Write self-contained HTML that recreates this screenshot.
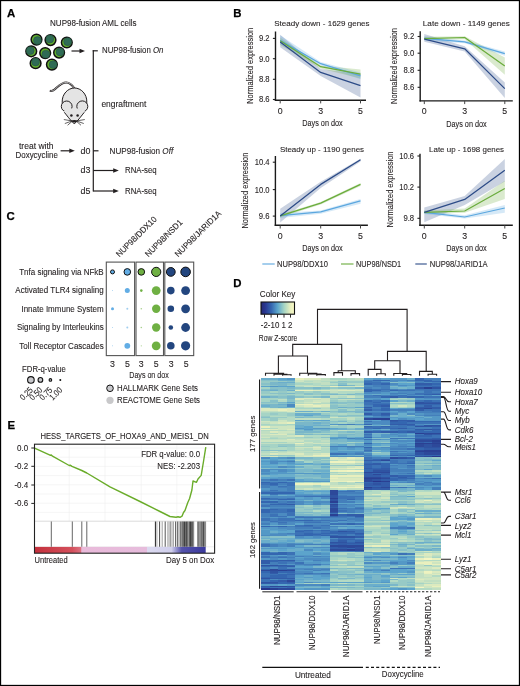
<!DOCTYPE html>
<html><head><meta charset="utf-8"><style>
html,body{margin:0;padding:0;background:#fff;}
svg{display:block;will-change:transform;}
text{font-family:"Liberation Sans", sans-serif;stroke:#231f20;stroke-width:0.1px;}
</style></head><body>
<svg width="520" height="686" viewBox="0 0 520 686">
<rect width="520" height="686" fill="#fff"/>
<text x="7.0" y="16.7" font-size="11.4" style="font-weight:bold;stroke:#000;stroke-width:0.25px" fill="#000">A</text><text x="233.3" y="16.5" font-size="11.4" style="font-weight:bold;stroke:#000;stroke-width:0.25px" fill="#000">B</text><text x="6.6" y="219.8" font-size="11.4" style="font-weight:bold;stroke:#000;stroke-width:0.25px" fill="#000">C</text><text x="233.3" y="286.7" font-size="11.4" style="font-weight:bold;stroke:#000;stroke-width:0.25px" fill="#000">D</text><text x="7.6" y="429.3" font-size="11.4" style="font-weight:bold;stroke:#000;stroke-width:0.25px" fill="#000">E</text><text x="50" y="26" font-size="8.5" textLength="86.5" lengthAdjust="spacingAndGlyphs" fill="#231f20">NUP98-fusion AML cells</text><circle cx="36.5" cy="39.6" r="5.35" fill="#63b12e" stroke="#111" stroke-width="1.5"/><circle cx="37.41" cy="40.51" r="3.95" fill="#2f6b55" stroke="#23503f" stroke-width="0.5"/><circle cx="50.5" cy="40.1" r="5.35" fill="#63b12e" stroke="#111" stroke-width="1.5"/><circle cx="49.85" cy="39.06" r="3.95" fill="#2f6b55" stroke="#23503f" stroke-width="0.5"/><circle cx="66.8" cy="42.5" r="5.35" fill="#63b12e" stroke="#111" stroke-width="1.5"/><circle cx="67.58" cy="41.72" r="3.95" fill="#2f6b55" stroke="#23503f" stroke-width="0.5"/><circle cx="31.25" cy="51.3" r="5.35" fill="#63b12e" stroke="#111" stroke-width="1.5"/><circle cx="30.21" cy="50.65" r="3.95" fill="#2f6b55" stroke="#23503f" stroke-width="0.5"/><circle cx="45.2" cy="53.1" r="5.35" fill="#63b12e" stroke="#111" stroke-width="1.5"/><circle cx="45.85" cy="54.14" r="3.95" fill="#2f6b55" stroke="#23503f" stroke-width="0.5"/><circle cx="59.1" cy="52.6" r="5.35" fill="#63b12e" stroke="#111" stroke-width="1.5"/><circle cx="60.01" cy="51.95" r="3.95" fill="#2f6b55" stroke="#23503f" stroke-width="0.5"/><circle cx="35.6" cy="63.2" r="5.35" fill="#63b12e" stroke="#111" stroke-width="1.5"/><circle cx="35.60" cy="62.03" r="3.95" fill="#2f6b55" stroke="#23503f" stroke-width="0.5"/><circle cx="51.9" cy="64.6" r="5.35" fill="#63b12e" stroke="#111" stroke-width="1.5"/><circle cx="53.07" cy="64.60" r="3.95" fill="#2f6b55" stroke="#23503f" stroke-width="0.5"/><line x1="71.5" y1="51" x2="81" y2="51" stroke="#231f20" stroke-width="1.2"/><path d="M85,51 L79.5,48.8 L79.5,53.2 Z" fill="#231f20"/><line x1="93.3" y1="50.2" x2="93.3" y2="191.6" stroke="#231f20" stroke-width="1.2"/><line x1="92.7" y1="50.8" x2="97.8" y2="50.8" stroke="#231f20" stroke-width="1.2"/><text x="102" y="53" font-size="8.5" textLength="61.5" lengthAdjust="spacingAndGlyphs" fill="#231f20">NUP98-fusion <tspan font-style="italic">On</tspan></text><text x="101.4" y="106.5" font-size="8.5" textLength="45" lengthAdjust="spacingAndGlyphs" fill="#231f20">engraftment</text><g stroke="#231f20" stroke-width="1.0" fill="#e4e4e4" stroke-linejoin="round">
<path d="M74.5,88.5 C72,84.5 69.5,82.4 66.2,82.4 C61.5,82.4 58,86.5 54.5,89.6 C53,90.9 51.5,91.3 49.8,90.6" fill="none" stroke-width="2.0"/>
<path d="M74.2,88.2 C72,84.5 69.5,82.4 66.2,82.4 C61.5,82.4 58,86.5 54.5,89.6 C53.2,90.7 51.8,91.1 50.6,90.7" fill="none" stroke="#f2f2f2" stroke-width="0.7"/>
<path d="M74.5,88 C81,88 87,94 86.8,102 L86.5,110 L62.5,110 L62.2,102 C62,94 68,88 74.5,88 Z" stroke="none"/>
<path d="M62.4,104 L62.2,102 C62,94 68,88 74.5,88 C81,88 87,94 86.8,102 L86.6,104" fill="none"/>
<circle cx="66.7" cy="106.4" r="5.4"/>
<circle cx="82.3" cy="106.4" r="5.5"/>
<path d="M72.2,108.2 L76.4,108.2 L85.2,111.6 L74.3,124.6 L63.5,111.6 Z" stroke="none"/>
<path d="M64.3,112.3 C67,115.5 70,120 74.3,123.9 C78.6,120 81.6,115.5 84.3,112.3" fill="none"/>
</g>
<circle cx="71.4" cy="115.5" r="1.25" fill="#231f20"/>
<circle cx="77.6" cy="115.5" r="1.25" fill="#231f20"/>
<g stroke="#231f20" stroke-width="0.7" fill="none" stroke-linecap="round">
<path d="M71.2,120.8 L64.2,119.6 M71.2,121.3 L65.2,123.4 M71.8,121.6 L67.9,125"/>
<path d="M77.4,120.8 L84.4,119.6 M77.4,121.3 L83.4,123.4 M76.8,121.6 L80.7,125"/>
</g>
<path d="M70.6,120.6 Q74.3,119.6 78,120.6 Q76.5,122.6 74.3,122.4 Q72.1,122.6 70.6,120.6 Z" fill="#231f20"/><text x="19" y="148.5" font-size="8.5" textLength="34.6" lengthAdjust="spacingAndGlyphs" fill="#231f20">treat with</text><text x="15.6" y="158.2" font-size="8.5" textLength="42.2" lengthAdjust="spacingAndGlyphs" fill="#231f20">Doxycycline</text><line x1="60.6" y1="150.8" x2="70.5" y2="150.8" stroke="#231f20" stroke-width="1.2"/><path d="M74.8,150.8 L69.3,148.6 L69.3,153 Z" fill="#231f20"/><text x="80.6" y="153.6" font-size="8.5" textLength="9.9" lengthAdjust="spacingAndGlyphs" fill="#231f20">d0</text><line x1="93.3" y1="150.8" x2="98.5" y2="150.8" stroke="#231f20" stroke-width="1.2"/><text x="109.6" y="153.6" font-size="8.5" textLength="63.6" lengthAdjust="spacingAndGlyphs" fill="#231f20">NUP98-fusion <tspan font-style="italic">Off</tspan></text><text x="80.6" y="173.3" font-size="8.5" textLength="9.9" lengthAdjust="spacingAndGlyphs" fill="#231f20">d3</text><line x1="93.3" y1="170.5" x2="114.5" y2="170.5" stroke="#231f20" stroke-width="1.2"/><path d="M118.8,170.5 L113.2,168.3 L113.2,172.7 Z" fill="#231f20"/><text x="125" y="173.3" font-size="8.5" textLength="31.7" lengthAdjust="spacingAndGlyphs" fill="#231f20">RNA-seq</text><text x="80.6" y="193.8" font-size="8.5" textLength="9.9" lengthAdjust="spacingAndGlyphs" fill="#231f20">d5</text><line x1="93.3" y1="191" x2="114.5" y2="191" stroke="#231f20" stroke-width="1.2"/><path d="M118.8,191 L113.2,188.8 L113.2,193.2 Z" fill="#231f20"/><text x="125" y="193.8" font-size="8.5" textLength="31.7" lengthAdjust="spacingAndGlyphs" fill="#231f20">RNA-seq</text><polygon points="280.2,34.8 320.7,69.0 360.5,74.0 360.5,97.5 320.7,76.0 280.2,47.3" fill="#2c4b87" fill-opacity="0.25"/><polygon points="280.2,37.5 320.7,65.5 360.5,69.5 360.5,78.5 320.7,68.4 280.2,45.0" fill="#6aac3c" fill-opacity="0.25"/><polygon points="280.2,35.2 320.7,62.0 360.5,72.4 360.5,79.3 320.7,65.5 280.2,44.7" fill="#5ba7df" fill-opacity="0.25"/><polyline points="280.2,40.4 320.7,63.7 360.5,75.9" fill="none" stroke="#5ba7df" stroke-width="1.25" stroke-linejoin="round"/><polyline points="280.2,40.7 320.7,66.7 360.5,74.1" fill="none" stroke="#6aac3c" stroke-width="1.25" stroke-linejoin="round"/><polyline points="280.2,42.1 320.7,72.4 360.5,85.7" fill="none" stroke="#2c4b87" stroke-width="1.25" stroke-linejoin="round"/><line x1="275.5" y1="31.5" x2="275.5" y2="100.9" stroke="#1a1a1a" stroke-width="1.4"/><line x1="274.8" y1="100.2" x2="366" y2="100.2" stroke="#1a1a1a" stroke-width="1.4"/><line x1="272.9" y1="38.4" x2="275.5" y2="38.4" stroke="#222" stroke-width="1.1"/><text x="269.6" y="41.35" font-size="8.4" text-anchor="end" textLength="10.7" lengthAdjust="spacingAndGlyphs" fill="#231f20">9.2</text><line x1="272.9" y1="58.7" x2="275.5" y2="58.7" stroke="#222" stroke-width="1.1"/><text x="269.6" y="61.650000000000006" font-size="8.4" text-anchor="end" textLength="10.7" lengthAdjust="spacingAndGlyphs" fill="#231f20">9.0</text><line x1="272.9" y1="79.3" x2="275.5" y2="79.3" stroke="#222" stroke-width="1.1"/><text x="269.6" y="82.25" font-size="8.4" text-anchor="end" textLength="10.7" lengthAdjust="spacingAndGlyphs" fill="#231f20">8.8</text><line x1="272.9" y1="99.5" x2="275.5" y2="99.5" stroke="#222" stroke-width="1.1"/><text x="269.6" y="102.45" font-size="8.4" text-anchor="end" textLength="10.7" lengthAdjust="spacingAndGlyphs" fill="#231f20">8.6</text><line x1="280.2" y1="100.2" x2="280.2" y2="103.4" stroke="#444" stroke-width="1.0"/><text x="280.2" y="113.65" font-size="8.8" text-anchor="middle" textLength="4.9" lengthAdjust="spacingAndGlyphs" fill="#231f20">0</text><line x1="320.7" y1="100.2" x2="320.7" y2="103.4" stroke="#444" stroke-width="1.0"/><text x="320.7" y="113.65" font-size="8.8" text-anchor="middle" textLength="4.9" lengthAdjust="spacingAndGlyphs" fill="#231f20">3</text><line x1="360.5" y1="100.2" x2="360.5" y2="103.4" stroke="#444" stroke-width="1.0"/><text x="360.5" y="113.65" font-size="8.8" text-anchor="middle" textLength="4.9" lengthAdjust="spacingAndGlyphs" fill="#231f20">5</text><text x="274.2" y="26.0" font-size="8.1" textLength="95.4" lengthAdjust="spacingAndGlyphs" fill="#231f20">Steady down - 1629 genes</text><text x="322.5" y="125.80000000000001" font-size="9.3" text-anchor="middle" textLength="40.5" lengthAdjust="spacingAndGlyphs" fill="#231f20">Days on dox</text><text transform="translate(253.0,65.8) rotate(-90)" font-size="9.4" text-anchor="middle" textLength="76" lengthAdjust="spacingAndGlyphs" fill="#231f20">Normalized expression</text><polygon points="424.3,34.0 464.7,46.2 504.8,82.5 504.8,98.1 464.7,51.4 424.3,41.8" fill="#2c4b87" fill-opacity="0.25"/><polygon points="424.3,36.7 464.7,36.3 504.8,57.4 504.8,74.7 464.7,39.2 424.3,40.1" fill="#6aac3c" fill-opacity="0.25"/><polygon points="424.3,36.5 464.7,40.5 504.8,51.4 504.8,55.7 464.7,43.2 424.3,40.5" fill="#5ba7df" fill-opacity="0.25"/><polyline points="424.3,38.4 464.7,41.8 504.8,53.6" fill="none" stroke="#5ba7df" stroke-width="1.25" stroke-linejoin="round"/><polyline points="424.3,38.7 464.7,37.5 504.8,66.1" fill="none" stroke="#6aac3c" stroke-width="1.25" stroke-linejoin="round"/><polyline points="424.3,39.2 464.7,48.8 504.8,88.6" fill="none" stroke="#2c4b87" stroke-width="1.25" stroke-linejoin="round"/><line x1="420.2" y1="31.3" x2="420.2" y2="101.60000000000001" stroke="#1a1a1a" stroke-width="1.4"/><line x1="419.5" y1="100.9" x2="512.8" y2="100.9" stroke="#1a1a1a" stroke-width="1.4"/><line x1="417.59999999999997" y1="36.5" x2="420.2" y2="36.5" stroke="#222" stroke-width="1.1"/><text x="414.3" y="39.45" font-size="8.4" text-anchor="end" textLength="10.7" lengthAdjust="spacingAndGlyphs" fill="#231f20">9.2</text><line x1="417.59999999999997" y1="53.2" x2="420.2" y2="53.2" stroke="#222" stroke-width="1.1"/><text x="414.3" y="56.150000000000006" font-size="8.4" text-anchor="end" textLength="10.7" lengthAdjust="spacingAndGlyphs" fill="#231f20">9.0</text><line x1="417.59999999999997" y1="70.3" x2="420.2" y2="70.3" stroke="#222" stroke-width="1.1"/><text x="414.3" y="73.25" font-size="8.4" text-anchor="end" textLength="10.7" lengthAdjust="spacingAndGlyphs" fill="#231f20">8.8</text><line x1="417.59999999999997" y1="87.3" x2="420.2" y2="87.3" stroke="#222" stroke-width="1.1"/><text x="414.3" y="90.25" font-size="8.4" text-anchor="end" textLength="10.7" lengthAdjust="spacingAndGlyphs" fill="#231f20">8.6</text><line x1="424.3" y1="100.9" x2="424.3" y2="104.10000000000001" stroke="#444" stroke-width="1.0"/><text x="424.3" y="114.35000000000001" font-size="8.8" text-anchor="middle" textLength="4.9" lengthAdjust="spacingAndGlyphs" fill="#231f20">0</text><line x1="464.7" y1="100.9" x2="464.7" y2="104.10000000000001" stroke="#444" stroke-width="1.0"/><text x="464.7" y="114.35000000000001" font-size="8.8" text-anchor="middle" textLength="4.9" lengthAdjust="spacingAndGlyphs" fill="#231f20">3</text><line x1="504.8" y1="100.9" x2="504.8" y2="104.10000000000001" stroke="#444" stroke-width="1.0"/><text x="504.8" y="114.35000000000001" font-size="8.8" text-anchor="middle" textLength="4.9" lengthAdjust="spacingAndGlyphs" fill="#231f20">5</text><text x="422.8" y="26.0" font-size="8.1" textLength="87.1" lengthAdjust="spacingAndGlyphs" fill="#231f20">Late down - 1149 genes</text><text x="466.5" y="126.5" font-size="9.3" text-anchor="middle" textLength="40.5" lengthAdjust="spacingAndGlyphs" fill="#231f20">Days on dox</text><text transform="translate(397.3,66.0) rotate(-90)" font-size="9.4" text-anchor="middle" textLength="76" lengthAdjust="spacingAndGlyphs" fill="#231f20">Normalized expression</text><polygon points="280.2,208.7 320.7,181.8 360.5,158.8 360.5,161.6 320.7,187.9 280.2,222.5" fill="#2c4b87" fill-opacity="0.25"/><polygon points="280.2,214.5 320.7,202.0 360.5,183.0 360.5,186.0 320.7,204.5 280.2,217.5" fill="#6aac3c" fill-opacity="0.25"/><polygon points="280.2,213.0 320.7,210.4 360.5,199.1 360.5,203.8 320.7,213.8 280.2,218.0" fill="#5ba7df" fill-opacity="0.25"/><polyline points="280.2,215.6 320.7,211.8 360.5,200.9" fill="none" stroke="#5ba7df" stroke-width="1.25" stroke-linejoin="round"/><polyline points="280.2,215.9 320.7,203.1 360.5,184.4" fill="none" stroke="#6aac3c" stroke-width="1.25" stroke-linejoin="round"/><polyline points="280.2,215.9 320.7,184.4 360.5,159.8" fill="none" stroke="#2c4b87" stroke-width="1.25" stroke-linejoin="round"/><line x1="275.4" y1="156" x2="275.4" y2="226.0" stroke="#1a1a1a" stroke-width="1.4"/><line x1="274.7" y1="225.3" x2="367.9" y2="225.3" stroke="#1a1a1a" stroke-width="1.4"/><line x1="272.79999999999995" y1="162.2" x2="275.4" y2="162.2" stroke="#222" stroke-width="1.1"/><text x="269.5" y="165.14999999999998" font-size="8.4" text-anchor="end" textLength="14.8" lengthAdjust="spacingAndGlyphs" fill="#231f20">10.4</text><line x1="272.79999999999995" y1="189.6" x2="275.4" y2="189.6" stroke="#222" stroke-width="1.1"/><text x="269.5" y="192.54999999999998" font-size="8.4" text-anchor="end" textLength="14.8" lengthAdjust="spacingAndGlyphs" fill="#231f20">10.0</text><line x1="272.79999999999995" y1="216.1" x2="275.4" y2="216.1" stroke="#222" stroke-width="1.1"/><text x="269.5" y="219.04999999999998" font-size="8.4" text-anchor="end" textLength="10.7" lengthAdjust="spacingAndGlyphs" fill="#231f20">9.6</text><line x1="280.2" y1="225.3" x2="280.2" y2="228.5" stroke="#444" stroke-width="1.0"/><text x="280.2" y="238.75" font-size="8.8" text-anchor="middle" textLength="4.9" lengthAdjust="spacingAndGlyphs" fill="#231f20">0</text><line x1="320.7" y1="225.3" x2="320.7" y2="228.5" stroke="#444" stroke-width="1.0"/><text x="320.7" y="238.75" font-size="8.8" text-anchor="middle" textLength="4.9" lengthAdjust="spacingAndGlyphs" fill="#231f20">3</text><line x1="360.5" y1="225.3" x2="360.5" y2="228.5" stroke="#444" stroke-width="1.0"/><text x="360.5" y="238.75" font-size="8.8" text-anchor="middle" textLength="4.9" lengthAdjust="spacingAndGlyphs" fill="#231f20">5</text><text x="279.9" y="151.6" font-size="8.1" textLength="84.2" lengthAdjust="spacingAndGlyphs" fill="#231f20">Steady up - 1190 genes</text><text x="322.5" y="250.9" font-size="9.3" text-anchor="middle" textLength="40.5" lengthAdjust="spacingAndGlyphs" fill="#231f20">Days on dox</text><text transform="translate(247.6,190.6) rotate(-90)" font-size="9.4" text-anchor="middle" textLength="76" lengthAdjust="spacingAndGlyphs" fill="#231f20">Normalized expression</text><polygon points="424.3,207.5 464.7,195.9 504.8,159.0 504.8,181.6 464.7,204.9 424.3,222.2" fill="#2c4b87" fill-opacity="0.25"/><polygon points="424.3,210.5 464.7,208.4 504.8,180.7 504.8,198.9 464.7,212.7 424.3,214.0" fill="#6aac3c" fill-opacity="0.25"/><polygon points="424.3,210.5 464.7,215.3 504.8,205.0 504.8,212.7 464.7,218.4 424.3,214.0" fill="#5ba7df" fill-opacity="0.25"/><polyline points="424.3,212.4 464.7,217.0 504.8,208.0" fill="none" stroke="#5ba7df" stroke-width="1.25" stroke-linejoin="round"/><polyline points="424.3,212.4 464.7,211.0 504.8,188.5" fill="none" stroke="#6aac3c" stroke-width="1.25" stroke-linejoin="round"/><polyline points="424.3,212.4 464.7,199.4 504.8,170.3" fill="none" stroke="#2c4b87" stroke-width="1.25" stroke-linejoin="round"/><line x1="420.0" y1="153.8" x2="420.0" y2="226.0" stroke="#1a1a1a" stroke-width="1.4"/><line x1="419.3" y1="225.3" x2="512.8" y2="225.3" stroke="#1a1a1a" stroke-width="1.4"/><line x1="417.4" y1="156" x2="420.0" y2="156" stroke="#222" stroke-width="1.1"/><text x="414.1" y="158.95" font-size="8.4" text-anchor="end" textLength="14.8" lengthAdjust="spacingAndGlyphs" fill="#231f20">10.6</text><line x1="417.4" y1="187.1" x2="420.0" y2="187.1" stroke="#222" stroke-width="1.1"/><text x="414.1" y="190.04999999999998" font-size="8.4" text-anchor="end" textLength="14.8" lengthAdjust="spacingAndGlyphs" fill="#231f20">10.2</text><line x1="417.4" y1="218.3" x2="420.0" y2="218.3" stroke="#222" stroke-width="1.1"/><text x="414.1" y="221.25" font-size="8.4" text-anchor="end" textLength="10.7" lengthAdjust="spacingAndGlyphs" fill="#231f20">9.8</text><line x1="424.3" y1="225.3" x2="424.3" y2="228.5" stroke="#444" stroke-width="1.0"/><text x="424.3" y="238.75" font-size="8.8" text-anchor="middle" textLength="4.9" lengthAdjust="spacingAndGlyphs" fill="#231f20">0</text><line x1="464.7" y1="225.3" x2="464.7" y2="228.5" stroke="#444" stroke-width="1.0"/><text x="464.7" y="238.75" font-size="8.8" text-anchor="middle" textLength="4.9" lengthAdjust="spacingAndGlyphs" fill="#231f20">3</text><line x1="504.8" y1="225.3" x2="504.8" y2="228.5" stroke="#444" stroke-width="1.0"/><text x="504.8" y="238.75" font-size="8.8" text-anchor="middle" textLength="4.9" lengthAdjust="spacingAndGlyphs" fill="#231f20">5</text><text x="429.1" y="151.6" font-size="8.1" textLength="75.0" lengthAdjust="spacingAndGlyphs" fill="#231f20">Late up - 1698 genes</text><text x="466.5" y="250.9" font-size="9.3" text-anchor="middle" textLength="40.5" lengthAdjust="spacingAndGlyphs" fill="#231f20">Days on dox</text><text transform="translate(392.6,189.5) rotate(-90)" font-size="9.4" text-anchor="middle" textLength="76" lengthAdjust="spacingAndGlyphs" fill="#231f20">Normalized expression</text><line x1="262.3" y1="264" x2="274.7" y2="264" stroke="#5ba7df" stroke-width="1.1"/><text x="277" y="266.8" font-size="8.5" textLength="51" lengthAdjust="spacingAndGlyphs" fill="#231f20">NUP98/DDX10</text><line x1="341" y1="264" x2="353.5" y2="264" stroke="#6aac3c" stroke-width="1.1"/><text x="356" y="266.8" font-size="8.5" textLength="45.2" lengthAdjust="spacingAndGlyphs" fill="#231f20">NUP98/NSD1</text><line x1="415.3" y1="264" x2="426.8" y2="264" stroke="#2c4b87" stroke-width="1.1"/><text x="429.7" y="266.8" font-size="8.5" textLength="58" lengthAdjust="spacingAndGlyphs" fill="#231f20">NUP98/JARID1A</text><text x="103.7" y="274.7" font-size="8.5" text-anchor="end" textLength="84.48" lengthAdjust="spacingAndGlyphs" fill="#231f20">Tnfa signaling via NFkB</text><text x="103.7" y="293.40000000000003" font-size="8.5" text-anchor="end" textLength="88.35" lengthAdjust="spacingAndGlyphs" fill="#231f20">Activated TLR4 signaling</text><text x="103.7" y="311.6" font-size="8.5" text-anchor="end" textLength="82.26" lengthAdjust="spacingAndGlyphs" fill="#231f20">Innate Immune System</text><text x="103.7" y="330.3" font-size="8.5" text-anchor="end" textLength="86.72" lengthAdjust="spacingAndGlyphs" fill="#231f20">Signaling by Interleukins</text><text x="103.7" y="348.6" font-size="8.5" text-anchor="end" textLength="84.49" lengthAdjust="spacingAndGlyphs" fill="#231f20">Toll Receptor Cascades</text><rect x="106.3" y="262.1" width="28.3" height="93.5" fill="none" stroke="#555" stroke-width="1.1"/><rect x="136" y="262.1" width="27.5" height="93.5" fill="none" stroke="#555" stroke-width="1.1"/><rect x="164.8" y="262.1" width="28.9" height="93.5" fill="none" stroke="#555" stroke-width="1.1"/><circle cx="112.5" cy="271.9" r="2.0" fill="#62ade5" stroke="#111" stroke-width="1"/><circle cx="127.3" cy="271.9" r="3.3" fill="#62ade5" stroke="#111" stroke-width="1"/><circle cx="141.3" cy="271.9" r="3.3" fill="#6fb043" stroke="#111" stroke-width="1"/><circle cx="156.2" cy="271.9" r="4.6" fill="#6fb043" stroke="#111" stroke-width="1"/><circle cx="170.8" cy="271.9" r="4.4" fill="#23467f" stroke="#111" stroke-width="1"/><circle cx="185.6" cy="271.9" r="4.8" fill="#23467f" stroke="#111" stroke-width="1"/><circle cx="112.5" cy="290.6" r="0.5" fill="#62ade5" fill-opacity="0.6"/><circle cx="127.3" cy="290.6" r="2.5" fill="#62ade5" fill-opacity="1"/><circle cx="141.3" cy="290.6" r="1.3" fill="#6fb043" fill-opacity="1"/><circle cx="156.2" cy="290.6" r="4.4" fill="#6fb043" fill-opacity="1"/><circle cx="170.8" cy="290.6" r="3.8" fill="#23467f" fill-opacity="1"/><circle cx="185.6" cy="290.6" r="4.4" fill="#23467f" fill-opacity="1"/><circle cx="112.5" cy="308.8" r="1.5" fill="#62ade5" fill-opacity="1"/><circle cx="127.3" cy="308.8" r="1.0" fill="#62ade5" fill-opacity="0.6"/><circle cx="141.3" cy="308.8" r="0.8" fill="#6fb043" fill-opacity="0.6"/><circle cx="156.2" cy="308.8" r="4.2" fill="#6fb043" fill-opacity="1"/><circle cx="170.8" cy="308.8" r="3.3" fill="#23467f" fill-opacity="1"/><circle cx="185.6" cy="308.8" r="4.4" fill="#23467f" fill-opacity="1"/><circle cx="112.5" cy="327.5" r="0.5" fill="#62ade5" fill-opacity="0.6"/><circle cx="127.3" cy="327.5" r="1.0" fill="#62ade5" fill-opacity="0.6"/><circle cx="141.3" cy="327.5" r="0.8" fill="#6fb043" fill-opacity="0.6"/><circle cx="156.2" cy="327.5" r="4.2" fill="#6fb043" fill-opacity="1"/><circle cx="170.8" cy="327.5" r="2.3" fill="#23467f" fill-opacity="1"/><circle cx="185.6" cy="327.5" r="4.4" fill="#23467f" fill-opacity="1"/><circle cx="112.5" cy="345.8" r="0.5" fill="#62ade5" fill-opacity="0.6"/><circle cx="127.3" cy="345.8" r="2.9" fill="#62ade5" fill-opacity="1"/><circle cx="141.3" cy="345.8" r="0.6" fill="#6fb043" fill-opacity="0.6"/><circle cx="156.2" cy="345.8" r="4.4" fill="#6fb043" fill-opacity="1"/><circle cx="170.8" cy="345.8" r="3.8" fill="#23467f" fill-opacity="1"/><circle cx="185.6" cy="345.8" r="4.6" fill="#23467f" fill-opacity="1"/><text transform="translate(119.5,257.6) rotate(-45)" font-size="8.5" textLength="53.5" lengthAdjust="spacingAndGlyphs" fill="#231f20">NUP98/DDX10</text><text transform="translate(148.4,257.6) rotate(-45)" font-size="8.5" textLength="49" lengthAdjust="spacingAndGlyphs" fill="#231f20">NUP98/NSD1</text><text transform="translate(178.2,257.6) rotate(-45)" font-size="8.5" textLength="61.5" lengthAdjust="spacingAndGlyphs" fill="#231f20">NUP98/JARID1A</text><text x="112.5" y="366.5" font-size="8.8" text-anchor="middle" textLength="4.9" lengthAdjust="spacingAndGlyphs" fill="#231f20">3</text><text x="127.5" y="366.5" font-size="8.8" text-anchor="middle" textLength="4.9" lengthAdjust="spacingAndGlyphs" fill="#231f20">5</text><text x="141.25" y="366.5" font-size="8.8" text-anchor="middle" textLength="4.9" lengthAdjust="spacingAndGlyphs" fill="#231f20">3</text><text x="156.25" y="366.5" font-size="8.8" text-anchor="middle" textLength="4.9" lengthAdjust="spacingAndGlyphs" fill="#231f20">5</text><text x="171.25" y="366.5" font-size="8.8" text-anchor="middle" textLength="4.9" lengthAdjust="spacingAndGlyphs" fill="#231f20">3</text><text x="186.25" y="366.5" font-size="8.8" text-anchor="middle" textLength="4.9" lengthAdjust="spacingAndGlyphs" fill="#231f20">5</text><text x="149" y="377.9" font-size="9.3" text-anchor="middle" textLength="39.5" lengthAdjust="spacingAndGlyphs" fill="#231f20">Days on dox</text><text x="22.1" y="371.5" font-size="8.5" textLength="43.8" lengthAdjust="spacingAndGlyphs" fill="#231f20">FDR-q-value</text><circle cx="30.9" cy="379.9" r="3.3" fill="#c8c8cc" stroke="#111" stroke-width="1.1"/><text transform="translate(33.5,390.6) rotate(-45)" font-size="8.6" text-anchor="end" textLength="14.4" lengthAdjust="spacingAndGlyphs" fill="#231f20">0.25</text><circle cx="40.4" cy="379.9" r="2.35" fill="#c8c8cc" stroke="#111" stroke-width="1.1"/><text transform="translate(43.0,390.6) rotate(-45)" font-size="8.6" text-anchor="end" textLength="14.4" lengthAdjust="spacingAndGlyphs" fill="#231f20">0.50</text><circle cx="50.4" cy="379.9" r="1.3" fill="#c8c8cc" stroke="#111" stroke-width="1.1"/><text transform="translate(53.0,390.6) rotate(-45)" font-size="8.6" text-anchor="end" textLength="14.4" lengthAdjust="spacingAndGlyphs" fill="#231f20">0.75</text><circle cx="60.3" cy="379.9" r="0.45" fill="#c8c8cc" stroke="#111" stroke-width="1.1"/><text transform="translate(62.9,390.6) rotate(-45)" font-size="8.6" text-anchor="end" textLength="14.4" lengthAdjust="spacingAndGlyphs" fill="#231f20">1.00</text><circle cx="110" cy="388.3" r="3.3" fill="#c8c8cc" stroke="#111" stroke-width="1"/><text x="117" y="391.1" font-size="8.5" textLength="81" lengthAdjust="spacingAndGlyphs" fill="#231f20">HALLMARK Gene Sets</text><circle cx="110" cy="400.3" r="3.6" fill="#c8c8ca"/><text x="117" y="403.1" font-size="8.5" textLength="83" lengthAdjust="spacingAndGlyphs" fill="#231f20">REACTOME Gene Sets</text><text x="40.4" y="439.4" font-size="8.5" textLength="168.4" lengthAdjust="spacingAndGlyphs" fill="#231f20">HESS_TARGETS_OF_HOXA9_AND_MEIS1_DN</text><line x1="34.5" y1="448.0" x2="214.5" y2="448.0" stroke="#eeeeee" stroke-width="0.6"/><line x1="34.5" y1="457.2" x2="214.5" y2="457.2" stroke="#eeeeee" stroke-width="0.6"/><line x1="34.5" y1="466.4" x2="214.5" y2="466.4" stroke="#eeeeee" stroke-width="0.6"/><line x1="34.5" y1="475.6" x2="214.5" y2="475.6" stroke="#eeeeee" stroke-width="0.6"/><line x1="34.5" y1="484.8" x2="214.5" y2="484.8" stroke="#eeeeee" stroke-width="0.6"/><line x1="34.5" y1="494.0" x2="214.5" y2="494.0" stroke="#eeeeee" stroke-width="0.6"/><line x1="34.5" y1="503.2" x2="214.5" y2="503.2" stroke="#eeeeee" stroke-width="0.6"/><line x1="34.5" y1="512.4" x2="214.5" y2="512.4" stroke="#eeeeee" stroke-width="0.6"/><line x1="69.2" y1="444" x2="69.2" y2="521" stroke="#eeeeee" stroke-width="0.6"/><line x1="105" y1="444" x2="105" y2="521" stroke="#eeeeee" stroke-width="0.6"/><line x1="141.2" y1="444" x2="141.2" y2="521" stroke="#eeeeee" stroke-width="0.6"/><line x1="176.9" y1="444" x2="176.9" y2="521" stroke="#eeeeee" stroke-width="0.6"/><line x1="34.5" y1="521.2" x2="214.5" y2="521.2" stroke="#cccccc" stroke-width="0.7"/><line x1="34.5" y1="546.8" x2="214.5" y2="546.8" stroke="#dddddd" stroke-width="0.5"/><line x1="51.3" y1="521.5" x2="51.3" y2="546.8" stroke="#555" stroke-width="0.9"/><line x1="72.3" y1="521.5" x2="72.3" y2="546.8" stroke="#555" stroke-width="0.9"/><line x1="81.8" y1="521.5" x2="81.8" y2="546.8" stroke="#555" stroke-width="0.9"/><line x1="86.8" y1="521.5" x2="86.8" y2="546.8" stroke="#555" stroke-width="0.9"/><line x1="155.4" y1="521.5" x2="155.4" y2="546.8" stroke="#222" stroke-width="1.0"/><line x1="156.9" y1="521.5" x2="156.9" y2="546.8" stroke="#888" stroke-width="0.7"/><line x1="159.6" y1="521.5" x2="159.6" y2="546.8" stroke="#333" stroke-width="0.9"/><line x1="162.2" y1="521.5" x2="162.2" y2="546.8" stroke="#777" stroke-width="0.7"/><line x1="165.2" y1="521.5" x2="165.2" y2="546.8" stroke="#555" stroke-width="1.0"/><line x1="167.9" y1="521.5" x2="167.9" y2="546.8" stroke="#888" stroke-width="0.8"/><line x1="169.2" y1="521.5" x2="169.2" y2="546.8" stroke="#999" stroke-width="0.8"/><line x1="170.6" y1="521.5" x2="170.6" y2="546.8" stroke="#777" stroke-width="0.8"/><line x1="172.0" y1="521.5" x2="172.0" y2="546.8" stroke="#999" stroke-width="0.8"/><line x1="173.4" y1="521.5" x2="173.4" y2="546.8" stroke="#888" stroke-width="0.8"/><line x1="175.7" y1="521.5" x2="175.7" y2="546.8" stroke="#333" stroke-width="0.9"/><line x1="177.8" y1="521.5" x2="177.8" y2="546.8" stroke="#222" stroke-width="0.9"/><line x1="180.2" y1="521.5" x2="180.2" y2="546.8" stroke="#222" stroke-width="0.9"/><line x1="182.0" y1="521.5" x2="182.0" y2="546.8" stroke="#111" stroke-width="0.9"/><line x1="183.2" y1="521.5" x2="183.2" y2="546.8" stroke="#222" stroke-width="0.9"/><line x1="184.4" y1="521.5" x2="184.4" y2="546.8" stroke="#111" stroke-width="0.9"/><line x1="185.6" y1="521.5" x2="185.6" y2="546.8" stroke="#333" stroke-width="0.8"/><line x1="186.7" y1="521.5" x2="186.7" y2="546.8" stroke="#111" stroke-width="0.9"/><line x1="187.8" y1="521.5" x2="187.8" y2="546.8" stroke="#222" stroke-width="0.8"/><line x1="189.2" y1="521.5" x2="189.2" y2="546.8" stroke="#111" stroke-width="0.9"/><line x1="190.4" y1="521.5" x2="190.4" y2="546.8" stroke="#111" stroke-width="0.9"/><line x1="191.6" y1="521.5" x2="191.6" y2="546.8" stroke="#222" stroke-width="0.8"/><line x1="192.8" y1="521.5" x2="192.8" y2="546.8" stroke="#111" stroke-width="0.9"/><line x1="193.7" y1="521.5" x2="193.7" y2="546.8" stroke="#555" stroke-width="0.6"/><line x1="197.6" y1="521.5" x2="197.6" y2="546.8" stroke="#666" stroke-width="0.8"/><line x1="198.8" y1="521.5" x2="198.8" y2="546.8" stroke="#333" stroke-width="0.9"/><line x1="200.0" y1="521.5" x2="200.0" y2="546.8" stroke="#444" stroke-width="0.8"/><line x1="201.2" y1="521.5" x2="201.2" y2="546.8" stroke="#222" stroke-width="0.9"/><line x1="202.4" y1="521.5" x2="202.4" y2="546.8" stroke="#444" stroke-width="0.8"/><line x1="203.6" y1="521.5" x2="203.6" y2="546.8" stroke="#222" stroke-width="0.9"/><line x1="204.8" y1="521.5" x2="204.8" y2="546.8" stroke="#333" stroke-width="0.8"/><line x1="205.6" y1="521.5" x2="205.6" y2="546.8" stroke="#555" stroke-width="0.6"/><defs><linearGradient id="gsea" x1="0" x2="1" y1="0" y2="0">
<stop offset="0" stop-color="#c4303c"/><stop offset="0.22" stop-color="#d4505c"/><stop offset="0.27" stop-color="#dc7080"/>
<stop offset="0.276" stop-color="#e9bada"/><stop offset="0.655" stop-color="#e6bcdc"/><stop offset="0.658" stop-color="#dcdaf0"/>
<stop offset="0.80" stop-color="#d0cfec"/><stop offset="0.86" stop-color="#5553ac"/><stop offset="1" stop-color="#3a389c"/></linearGradient></defs><rect x="34.5" y="546.9" width="171.2" height="6.2" fill="url(#gsea)"/><polyline points="34.6,448.2 50,455.2 51.3,455.0 52.5,456.2 69.2,465.5 70.5,465.3 72,466.3 81.8,470.5 86.8,473 110,486.9 140,501.5 160,511.5 170,516.5 176,517.2 178,516.8 180,517.3 182,516.2 183.5,512.5 185,510.5 187.7,502.7 189.6,498.5 191.9,490 193,481 196.5,482.3 198,479 201.2,475.4 203.5,461.5 205.8,447.2" fill="none" stroke="#6aac2a" stroke-width="1.4" stroke-linejoin="round"/><rect x="34.5" y="444.2" width="180.1" height="109" fill="none" stroke="#222" stroke-width="1.1"/><line x1="31.3" y1="448.0" x2="34.5" y2="448.0" stroke="#222" stroke-width="1"/><text x="28.2" y="450.9" font-size="8.5" text-anchor="end" textLength="11.12" lengthAdjust="spacingAndGlyphs" fill="#231f20">0.0</text><line x1="31.3" y1="466.3" x2="34.5" y2="466.3" stroke="#222" stroke-width="1"/><text x="28.2" y="469.2" font-size="8.5" text-anchor="end" textLength="13.79" lengthAdjust="spacingAndGlyphs" fill="#231f20">-0.2</text><line x1="31.3" y1="485.0" x2="34.5" y2="485.0" stroke="#222" stroke-width="1"/><text x="28.2" y="487.9" font-size="8.5" text-anchor="end" textLength="13.79" lengthAdjust="spacingAndGlyphs" fill="#231f20">-0.4</text><line x1="31.3" y1="503.4" x2="34.5" y2="503.4" stroke="#222" stroke-width="1"/><text x="28.2" y="506.29999999999995" font-size="8.5" text-anchor="end" textLength="13.79" lengthAdjust="spacingAndGlyphs" fill="#231f20">-0.6</text><text x="200" y="457.4" font-size="8.5" text-anchor="end" textLength="58.8" lengthAdjust="spacingAndGlyphs" fill="#231f20">FDR q-value: 0.0</text><text x="200" y="468.5" font-size="8.5" text-anchor="end" textLength="42.7" lengthAdjust="spacingAndGlyphs" fill="#231f20">NES: -2.203</text><text x="34.6" y="563" font-size="8.5" textLength="33" lengthAdjust="spacingAndGlyphs" fill="#231f20">Untreated</text><text x="214.1" y="563.2" font-size="8.5" text-anchor="end" textLength="48" lengthAdjust="spacingAndGlyphs" fill="#231f20">Day 5 on Dox</text><text x="259.8" y="296.8" font-size="8.5" textLength="35.6" lengthAdjust="spacingAndGlyphs" fill="#231f20">Color Key</text><defs><linearGradient id="ckey" x1="0" x2="1" y1="0" y2="0">
<stop offset="0" stop-color="#252a74"/><stop offset="0.12" stop-color="#283590"/><stop offset="0.31" stop-color="#3466b0"/>
<stop offset="0.5" stop-color="#5ca6cc"/><stop offset="0.69" stop-color="#a6d5c4"/><stop offset="0.88" stop-color="#e9f0bf"/><stop offset="1" stop-color="#fafac6"/></linearGradient></defs><rect x="261" y="302" width="33.5" height="12.2" fill="url(#ckey)" stroke="#111" stroke-width="1.1"/><line x1="264.5" y1="314.4" x2="264.5" y2="317.6" stroke="#111" stroke-width="0.9"/><line x1="271.1" y1="314.4" x2="271.1" y2="317.6" stroke="#111" stroke-width="0.9"/><line x1="277.5" y1="314.4" x2="277.5" y2="317.6" stroke="#111" stroke-width="0.9"/><line x1="284" y1="314.4" x2="284" y2="317.6" stroke="#111" stroke-width="0.9"/><line x1="290.5" y1="314.4" x2="290.5" y2="317.6" stroke="#111" stroke-width="0.9"/><text x="260.8" y="328.2" font-size="8.5" textLength="31.7" lengthAdjust="spacingAndGlyphs" fill="#231f20">-2-10 1 2</text><text x="258.8" y="340.9" font-size="9.3" textLength="38.5" lengthAdjust="spacingAndGlyphs" fill="#231f20">Row Z-score</text><line x1="407.1" y1="309.4" x2="407.1" y2="309.4" stroke="#231f20" stroke-width="1"/><path d="M317.5,344.4V309.4H407.1V351.4M292.7,356.0V344.4H341.7V370.8M278.4,373.2V356.0H307.5V373.2M265.5,375.7V373.2H283.6V374.2M274.0,375.7V374.2H286.9V374.8M282.6,375.7V374.8H291.1V375.7M299.7,375.7V373.2H316.8V374.0M308.3,375.7V374.0H321.1V374.6M316.8,375.7V374.6H325.4V375.7M338.2,372.6V370.8H355.3V373.6M333.9,375.7V372.6H342.5V375.7M351.0,375.7V373.6H359.6V375.7M387.5,360.8V351.4H426.2V371.4M374.7,369.4V360.8H400.0V373.5M368.2,375.7V369.4H381.0V373.8M376.7,375.7V373.8H385.3V375.7M393.8,375.7V373.5H406.7V374.5M402.4,375.7V374.5H410.9V375.7M419.5,375.7V371.4H432.3V374.3M428.1,375.7V374.3H436.6V375.7" fill="none" stroke="#231f20" stroke-width="1.1"/><g shape-rendering="crispEdges"><path d="M261.20,588.20h8.61v1.35h-8.61zM372.44,480.61h8.61v1.35h-8.61zM432.34,455.98h8.61v1.35h-8.61z" fill="#28368c"/><path d="M278.31,570.06h8.61v1.35h-8.61zM269.76,588.20h8.61v1.35h-8.61zM329.66,497.46h8.61v1.35h-8.61zM329.66,501.35h8.61v1.35h-8.61zM329.66,514.31h8.61v1.35h-8.61zM346.77,549.31h8.61v1.35h-8.61zM372.44,418.39h8.61v1.35h-8.61zM381.00,418.39h8.61v1.35h-8.61zM363.89,478.02h8.61v1.35h-8.61zM372.44,478.02h8.61v1.35h-8.61zM381.00,480.61h8.61v1.35h-8.61zM363.89,487.09h8.61v1.35h-8.61zM423.79,387.27h8.61v1.35h-8.61zM415.23,432.65h8.61v1.35h-8.61zM432.34,440.42h8.61v1.35h-8.61zM415.23,443.02h8.61v1.35h-8.61zM423.79,443.02h8.61v1.35h-8.61zM432.34,443.02h8.61v1.35h-8.61zM423.79,449.50h8.61v1.35h-8.61zM432.34,449.50h8.61v1.35h-8.61zM415.23,450.79h8.61v1.35h-8.61zM423.79,450.79h8.61v1.35h-8.61zM432.34,450.79h8.61v1.35h-8.61z" fill="#2a4093"/><path d="M269.76,568.76h8.61v1.35h-8.61zM261.20,570.06h8.61v1.35h-8.61zM269.76,570.06h8.61v1.35h-8.61zM286.87,570.06h8.61v1.35h-8.61zM286.87,580.43h8.61v1.35h-8.61zM269.76,585.61h8.61v1.35h-8.61zM278.31,585.61h8.61v1.35h-8.61zM278.31,588.20h8.61v1.35h-8.61zM286.87,588.20h8.61v1.35h-8.61zM329.66,489.68h8.61v1.35h-8.61zM329.66,490.98h8.61v1.35h-8.61zM329.66,492.28h8.61v1.35h-8.61zM329.66,493.57h8.61v1.35h-8.61zM329.66,503.94h8.61v1.35h-8.61zM329.66,507.83h8.61v1.35h-8.61zM329.66,509.13h8.61v1.35h-8.61zM329.66,510.42h8.61v1.35h-8.61zM329.66,545.43h8.61v1.35h-8.61zM338.21,545.43h8.61v1.35h-8.61zM346.77,545.43h8.61v1.35h-8.61zM355.33,545.43h8.61v1.35h-8.61zM346.77,546.72h8.61v1.35h-8.61zM329.66,549.31h8.61v1.35h-8.61zM338.21,549.31h8.61v1.35h-8.61zM355.33,549.31h8.61v1.35h-8.61zM363.89,418.39h8.61v1.35h-8.61zM381.00,459.87h8.61v1.35h-8.61zM363.89,471.53h8.61v1.35h-8.61zM372.44,471.53h8.61v1.35h-8.61zM381.00,471.53h8.61v1.35h-8.61zM372.44,474.13h8.61v1.35h-8.61zM363.89,476.72h8.61v1.35h-8.61zM372.44,476.72h8.61v1.35h-8.61zM381.00,478.02h8.61v1.35h-8.61zM363.89,479.31h8.61v1.35h-8.61zM363.89,480.61h8.61v1.35h-8.61zM381.00,487.09h8.61v1.35h-8.61zM389.56,457.28h8.61v1.35h-8.61zM423.79,408.02h8.61v1.35h-8.61zM423.79,432.65h8.61v1.35h-8.61zM432.34,432.65h8.61v1.35h-8.61zM415.23,440.42h8.61v1.35h-8.61zM423.79,440.42h8.61v1.35h-8.61zM432.34,441.72h8.61v1.35h-8.61zM415.23,444.31h8.61v1.35h-8.61zM432.34,444.31h8.61v1.35h-8.61zM415.23,445.61h8.61v1.35h-8.61zM432.34,445.61h8.61v1.35h-8.61zM415.23,449.50h8.61v1.35h-8.61zM423.79,452.09h8.61v1.35h-8.61zM432.34,452.09h8.61v1.35h-8.61zM423.79,453.39h8.61v1.35h-8.61zM432.34,453.39h8.61v1.35h-8.61zM423.79,455.98h8.61v1.35h-8.61z" fill="#2d499a"/><path d="M261.20,564.87h8.61v1.35h-8.61zM269.76,564.87h8.61v1.35h-8.61zM269.76,571.35h8.61v1.35h-8.61zM261.20,577.83h8.61v1.35h-8.61zM261.20,581.72h8.61v1.35h-8.61zM269.76,581.72h8.61v1.35h-8.61zM286.87,585.61h8.61v1.35h-8.61zM329.66,494.87h8.61v1.35h-8.61zM329.66,496.17h8.61v1.35h-8.61zM329.66,498.76h8.61v1.35h-8.61zM329.66,500.05h8.61v1.35h-8.61zM329.66,505.24h8.61v1.35h-8.61zM329.66,511.72h8.61v1.35h-8.61zM338.21,531.17h8.61v1.35h-8.61zM329.66,536.35h8.61v1.35h-8.61zM338.21,536.35h8.61v1.35h-8.61zM346.77,536.35h8.61v1.35h-8.61zM329.66,541.54h8.61v1.35h-8.61zM338.21,541.54h8.61v1.35h-8.61zM355.33,541.54h8.61v1.35h-8.61zM338.21,546.72h8.61v1.35h-8.61zM355.33,546.72h8.61v1.35h-8.61zM355.33,548.02h8.61v1.35h-8.61zM372.44,470.24h8.61v1.35h-8.61zM381.00,470.24h8.61v1.35h-8.61zM381.00,476.72h8.61v1.35h-8.61zM372.44,479.31h8.61v1.35h-8.61zM372.44,483.20h8.61v1.35h-8.61zM372.44,487.09h8.61v1.35h-8.61zM363.89,488.39h8.61v1.35h-8.61zM389.56,419.68h8.61v1.35h-8.61zM398.11,457.28h8.61v1.35h-8.61zM415.23,387.27h8.61v1.35h-8.61zM432.34,387.27h8.61v1.35h-8.61zM415.23,401.53h8.61v1.35h-8.61zM415.23,402.83h8.61v1.35h-8.61zM423.79,402.83h8.61v1.35h-8.61zM432.34,402.83h8.61v1.35h-8.61zM415.23,408.02h8.61v1.35h-8.61zM423.79,424.87h8.61v1.35h-8.61zM432.34,424.87h8.61v1.35h-8.61zM415.23,426.16h8.61v1.35h-8.61zM423.79,426.16h8.61v1.35h-8.61zM423.79,428.76h8.61v1.35h-8.61zM423.79,433.94h8.61v1.35h-8.61zM415.23,439.13h8.61v1.35h-8.61zM423.79,439.13h8.61v1.35h-8.61zM432.34,439.13h8.61v1.35h-8.61zM423.79,444.31h8.61v1.35h-8.61zM423.79,445.61h8.61v1.35h-8.61zM423.79,446.90h8.61v1.35h-8.61zM432.34,446.90h8.61v1.35h-8.61zM415.23,452.09h8.61v1.35h-8.61zM415.23,453.39h8.61v1.35h-8.61zM415.23,455.98h8.61v1.35h-8.61z" fill="#2f53a2"/><path d="M286.87,503.94h8.61v1.35h-8.61zM261.20,559.68h8.61v1.35h-8.61zM278.31,559.68h8.61v1.35h-8.61zM286.87,559.68h8.61v1.35h-8.61zM261.20,560.98h8.61v1.35h-8.61zM261.20,562.28h8.61v1.35h-8.61zM278.31,564.87h8.61v1.35h-8.61zM286.87,566.17h8.61v1.35h-8.61zM286.87,568.76h8.61v1.35h-8.61zM269.76,572.65h8.61v1.35h-8.61zM269.76,577.83h8.61v1.35h-8.61zM278.31,577.83h8.61v1.35h-8.61zM286.87,577.83h8.61v1.35h-8.61zM278.31,580.43h8.61v1.35h-8.61zM286.87,581.72h8.61v1.35h-8.61zM261.20,583.02h8.61v1.35h-8.61zM269.76,583.02h8.61v1.35h-8.61zM261.20,585.61h8.61v1.35h-8.61zM329.66,506.54h8.61v1.35h-8.61zM346.77,514.31h8.61v1.35h-8.61zM355.33,514.31h8.61v1.35h-8.61zM355.33,515.61h8.61v1.35h-8.61zM346.77,531.17h8.61v1.35h-8.61zM355.33,532.46h8.61v1.35h-8.61zM355.33,536.35h8.61v1.35h-8.61zM338.21,540.24h8.61v1.35h-8.61zM329.66,542.83h8.61v1.35h-8.61zM338.21,542.83h8.61v1.35h-8.61zM346.77,542.83h8.61v1.35h-8.61zM355.33,542.83h8.61v1.35h-8.61zM338.21,544.13h8.61v1.35h-8.61zM329.66,546.72h8.61v1.35h-8.61zM329.66,548.02h8.61v1.35h-8.61zM338.21,548.02h8.61v1.35h-8.61zM381.00,405.42h8.61v1.35h-8.61zM363.89,406.72h8.61v1.35h-8.61zM363.89,409.31h8.61v1.35h-8.61zM363.89,413.20h8.61v1.35h-8.61zM381.00,413.20h8.61v1.35h-8.61zM363.89,431.35h8.61v1.35h-8.61zM381.00,431.35h8.61v1.35h-8.61zM381.00,458.57h8.61v1.35h-8.61zM363.89,459.87h8.61v1.35h-8.61zM372.44,459.87h8.61v1.35h-8.61zM372.44,462.46h8.61v1.35h-8.61zM363.89,463.76h8.61v1.35h-8.61zM372.44,463.76h8.61v1.35h-8.61zM363.89,467.65h8.61v1.35h-8.61zM381.00,467.65h8.61v1.35h-8.61zM372.44,468.94h8.61v1.35h-8.61zM381.00,468.94h8.61v1.35h-8.61zM363.89,472.83h8.61v1.35h-8.61zM381.00,472.83h8.61v1.35h-8.61zM363.89,474.13h8.61v1.35h-8.61zM381.00,474.13h8.61v1.35h-8.61zM363.89,475.42h8.61v1.35h-8.61zM372.44,475.42h8.61v1.35h-8.61zM381.00,479.31h8.61v1.35h-8.61zM372.44,481.91h8.61v1.35h-8.61zM381.00,481.91h8.61v1.35h-8.61zM363.89,483.20h8.61v1.35h-8.61zM381.00,483.20h8.61v1.35h-8.61zM363.89,484.50h8.61v1.35h-8.61zM372.44,484.50h8.61v1.35h-8.61zM381.00,484.50h8.61v1.35h-8.61zM381.00,485.79h8.61v1.35h-8.61zM372.44,488.39h8.61v1.35h-8.61zM381.00,488.39h8.61v1.35h-8.61zM389.56,396.35h8.61v1.35h-8.61zM398.11,419.68h8.61v1.35h-8.61zM406.67,419.68h8.61v1.35h-8.61zM389.56,420.98h8.61v1.35h-8.61zM406.67,420.98h8.61v1.35h-8.61zM389.56,423.57h8.61v1.35h-8.61zM398.11,423.57h8.61v1.35h-8.61zM406.67,423.57h8.61v1.35h-8.61zM398.11,427.46h8.61v1.35h-8.61zM389.56,431.35h8.61v1.35h-8.61zM406.67,431.35h8.61v1.35h-8.61zM406.67,457.28h8.61v1.35h-8.61zM389.56,475.42h8.61v1.35h-8.61zM398.11,476.72h8.61v1.35h-8.61zM415.23,383.39h8.61v1.35h-8.61zM423.79,383.39h8.61v1.35h-8.61zM432.34,393.76h8.61v1.35h-8.61zM423.79,401.53h8.61v1.35h-8.61zM432.34,401.53h8.61v1.35h-8.61zM423.79,405.42h8.61v1.35h-8.61zM415.23,406.72h8.61v1.35h-8.61zM423.79,406.72h8.61v1.35h-8.61zM432.34,406.72h8.61v1.35h-8.61zM432.34,408.02h8.61v1.35h-8.61zM415.23,409.31h8.61v1.35h-8.61zM432.34,426.16h8.61v1.35h-8.61zM415.23,428.76h8.61v1.35h-8.61zM432.34,428.76h8.61v1.35h-8.61zM432.34,433.94h8.61v1.35h-8.61zM432.34,437.83h8.61v1.35h-8.61zM415.23,441.72h8.61v1.35h-8.61zM415.23,446.90h8.61v1.35h-8.61zM423.79,448.20h8.61v1.35h-8.61zM432.34,448.20h8.61v1.35h-8.61z" fill="#325ca9"/><path d="M261.20,481.91h8.61v1.35h-8.61zM278.31,481.91h8.61v1.35h-8.61zM269.76,483.20h8.61v1.35h-8.61zM261.20,492.28h8.61v1.35h-8.61zM269.76,492.28h8.61v1.35h-8.61zM278.31,492.28h8.61v1.35h-8.61zM286.87,492.28h8.61v1.35h-8.61zM261.20,497.46h8.61v1.35h-8.61zM278.31,498.76h8.61v1.35h-8.61zM286.87,498.76h8.61v1.35h-8.61zM261.20,501.35h8.61v1.35h-8.61zM269.76,501.35h8.61v1.35h-8.61zM269.76,503.94h8.61v1.35h-8.61zM278.31,503.94h8.61v1.35h-8.61zM261.20,509.13h8.61v1.35h-8.61zM269.76,509.13h8.61v1.35h-8.61zM286.87,509.13h8.61v1.35h-8.61zM261.20,510.42h8.61v1.35h-8.61zM286.87,510.42h8.61v1.35h-8.61zM261.20,511.72h8.61v1.35h-8.61zM261.20,525.98h8.61v1.35h-8.61zM278.31,525.98h8.61v1.35h-8.61zM261.20,551.91h8.61v1.35h-8.61zM278.31,551.91h8.61v1.35h-8.61zM261.20,553.20h8.61v1.35h-8.61zM269.76,553.20h8.61v1.35h-8.61zM278.31,553.20h8.61v1.35h-8.61zM269.76,559.68h8.61v1.35h-8.61zM269.76,560.98h8.61v1.35h-8.61zM286.87,564.87h8.61v1.35h-8.61zM261.20,566.17h8.61v1.35h-8.61zM278.31,566.17h8.61v1.35h-8.61zM261.20,568.76h8.61v1.35h-8.61zM278.31,568.76h8.61v1.35h-8.61zM261.20,571.35h8.61v1.35h-8.61zM278.31,571.35h8.61v1.35h-8.61zM286.87,571.35h8.61v1.35h-8.61zM278.31,573.94h8.61v1.35h-8.61zM286.87,573.94h8.61v1.35h-8.61zM269.76,575.24h8.61v1.35h-8.61zM278.31,575.24h8.61v1.35h-8.61zM261.20,576.54h8.61v1.35h-8.61zM269.76,576.54h8.61v1.35h-8.61zM278.31,576.54h8.61v1.35h-8.61zM269.76,580.43h8.61v1.35h-8.61zM278.31,581.72h8.61v1.35h-8.61zM278.31,583.02h8.61v1.35h-8.61zM286.87,583.02h8.61v1.35h-8.61zM261.20,586.91h8.61v1.35h-8.61zM286.87,586.91h8.61v1.35h-8.61zM295.43,519.50h8.61v1.35h-8.61zM303.99,519.50h8.61v1.35h-8.61zM303.99,524.68h8.61v1.35h-8.61zM303.99,529.87h8.61v1.35h-8.61zM321.10,529.87h8.61v1.35h-8.61zM295.43,531.17h8.61v1.35h-8.61zM303.99,532.46h8.61v1.35h-8.61zM321.10,532.46h8.61v1.35h-8.61zM303.99,533.76h8.61v1.35h-8.61zM312.54,533.76h8.61v1.35h-8.61zM295.43,535.05h8.61v1.35h-8.61zM303.99,535.05h8.61v1.35h-8.61zM321.10,535.05h8.61v1.35h-8.61zM346.77,498.76h8.61v1.35h-8.61zM338.21,514.31h8.61v1.35h-8.61zM329.66,515.61h8.61v1.35h-8.61zM346.77,523.39h8.61v1.35h-8.61zM329.66,531.17h8.61v1.35h-8.61zM329.66,532.46h8.61v1.35h-8.61zM338.21,532.46h8.61v1.35h-8.61zM346.77,532.46h8.61v1.35h-8.61zM355.33,533.76h8.61v1.35h-8.61zM329.66,535.05h8.61v1.35h-8.61zM338.21,538.94h8.61v1.35h-8.61zM346.77,538.94h8.61v1.35h-8.61zM355.33,540.24h8.61v1.35h-8.61zM346.77,541.54h8.61v1.35h-8.61zM329.66,544.13h8.61v1.35h-8.61zM346.77,544.13h8.61v1.35h-8.61zM355.33,544.13h8.61v1.35h-8.61zM346.77,548.02h8.61v1.35h-8.61zM372.44,379.50h8.61v1.35h-8.61zM381.00,379.50h8.61v1.35h-8.61zM363.89,383.39h8.61v1.35h-8.61zM381.00,383.39h8.61v1.35h-8.61zM363.89,388.57h8.61v1.35h-8.61zM363.89,389.87h8.61v1.35h-8.61zM372.44,389.87h8.61v1.35h-8.61zM363.89,391.16h8.61v1.35h-8.61zM381.00,396.35h8.61v1.35h-8.61zM363.89,400.24h8.61v1.35h-8.61zM381.00,400.24h8.61v1.35h-8.61zM372.44,401.53h8.61v1.35h-8.61zM372.44,404.13h8.61v1.35h-8.61zM381.00,404.13h8.61v1.35h-8.61zM372.44,405.42h8.61v1.35h-8.61zM381.00,408.02h8.61v1.35h-8.61zM381.00,409.31h8.61v1.35h-8.61zM381.00,414.50h8.61v1.35h-8.61zM363.89,423.57h8.61v1.35h-8.61zM363.89,426.16h8.61v1.35h-8.61zM381.00,426.16h8.61v1.35h-8.61zM372.44,427.46h8.61v1.35h-8.61zM372.44,431.35h8.61v1.35h-8.61zM363.89,436.53h8.61v1.35h-8.61zM363.89,443.02h8.61v1.35h-8.61zM363.89,446.90h8.61v1.35h-8.61zM372.44,458.57h8.61v1.35h-8.61zM363.89,462.46h8.61v1.35h-8.61zM381.00,462.46h8.61v1.35h-8.61zM381.00,463.76h8.61v1.35h-8.61zM363.89,465.05h8.61v1.35h-8.61zM381.00,465.05h8.61v1.35h-8.61zM363.89,466.35h8.61v1.35h-8.61zM381.00,466.35h8.61v1.35h-8.61zM372.44,467.65h8.61v1.35h-8.61zM363.89,468.94h8.61v1.35h-8.61zM363.89,470.24h8.61v1.35h-8.61zM372.44,472.83h8.61v1.35h-8.61zM381.00,475.42h8.61v1.35h-8.61zM363.89,481.91h8.61v1.35h-8.61zM363.89,485.79h8.61v1.35h-8.61zM372.44,485.79h8.61v1.35h-8.61zM389.56,389.87h8.61v1.35h-8.61zM406.67,396.35h8.61v1.35h-8.61zM398.11,420.98h8.61v1.35h-8.61zM389.56,422.27h8.61v1.35h-8.61zM398.11,422.27h8.61v1.35h-8.61zM406.67,424.87h8.61v1.35h-8.61zM389.56,427.46h8.61v1.35h-8.61zM398.11,431.35h8.61v1.35h-8.61zM389.56,454.68h8.61v1.35h-8.61zM406.67,454.68h8.61v1.35h-8.61zM406.67,462.46h8.61v1.35h-8.61zM398.11,475.42h8.61v1.35h-8.61zM406.67,475.42h8.61v1.35h-8.61zM389.56,478.02h8.61v1.35h-8.61zM398.11,478.02h8.61v1.35h-8.61zM406.67,478.02h8.61v1.35h-8.61zM389.56,479.31h8.61v1.35h-8.61zM415.23,378.20h8.61v1.35h-8.61zM415.23,379.50h8.61v1.35h-8.61zM423.79,379.50h8.61v1.35h-8.61zM423.79,380.79h8.61v1.35h-8.61zM432.34,380.79h8.61v1.35h-8.61zM432.34,383.39h8.61v1.35h-8.61zM415.23,384.68h8.61v1.35h-8.61zM423.79,384.68h8.61v1.35h-8.61zM432.34,385.98h8.61v1.35h-8.61zM423.79,393.76h8.61v1.35h-8.61zM415.23,396.35h8.61v1.35h-8.61zM423.79,400.24h8.61v1.35h-8.61zM415.23,404.13h8.61v1.35h-8.61zM423.79,404.13h8.61v1.35h-8.61zM432.34,404.13h8.61v1.35h-8.61zM415.23,420.98h8.61v1.35h-8.61zM423.79,420.98h8.61v1.35h-8.61zM432.34,420.98h8.61v1.35h-8.61zM415.23,430.05h8.61v1.35h-8.61zM432.34,430.05h8.61v1.35h-8.61zM415.23,431.35h8.61v1.35h-8.61zM423.79,431.35h8.61v1.35h-8.61zM432.34,431.35h8.61v1.35h-8.61zM415.23,435.24h8.61v1.35h-8.61zM423.79,435.24h8.61v1.35h-8.61zM415.23,437.83h8.61v1.35h-8.61zM423.79,437.83h8.61v1.35h-8.61zM423.79,441.72h8.61v1.35h-8.61zM415.23,448.20h8.61v1.35h-8.61zM415.23,454.68h8.61v1.35h-8.61zM423.79,454.68h8.61v1.35h-8.61zM432.34,454.68h8.61v1.35h-8.61z" fill="#3466b0"/><path d="M269.76,479.31h8.61v1.35h-8.61zM286.87,479.31h8.61v1.35h-8.61zM269.76,481.91h8.61v1.35h-8.61zM286.87,481.91h8.61v1.35h-8.61zM261.20,483.20h8.61v1.35h-8.61zM286.87,483.20h8.61v1.35h-8.61zM269.76,484.50h8.61v1.35h-8.61zM286.87,484.50h8.61v1.35h-8.61zM278.31,485.79h8.61v1.35h-8.61zM269.76,489.68h8.61v1.35h-8.61zM269.76,493.57h8.61v1.35h-8.61zM269.76,497.46h8.61v1.35h-8.61zM286.87,497.46h8.61v1.35h-8.61zM261.20,498.76h8.61v1.35h-8.61zM269.76,498.76h8.61v1.35h-8.61zM286.87,501.35h8.61v1.35h-8.61zM278.31,502.65h8.61v1.35h-8.61zM261.20,505.24h8.61v1.35h-8.61zM278.31,509.13h8.61v1.35h-8.61zM269.76,510.42h8.61v1.35h-8.61zM278.31,510.42h8.61v1.35h-8.61zM269.76,511.72h8.61v1.35h-8.61zM278.31,511.72h8.61v1.35h-8.61zM286.87,511.72h8.61v1.35h-8.61zM286.87,513.02h8.61v1.35h-8.61zM269.76,514.31h8.61v1.35h-8.61zM286.87,514.31h8.61v1.35h-8.61zM269.76,515.61h8.61v1.35h-8.61zM278.31,515.61h8.61v1.35h-8.61zM261.20,518.20h8.61v1.35h-8.61zM278.31,518.20h8.61v1.35h-8.61zM286.87,518.20h8.61v1.35h-8.61zM261.20,519.50h8.61v1.35h-8.61zM278.31,519.50h8.61v1.35h-8.61zM286.87,519.50h8.61v1.35h-8.61zM269.76,520.80h8.61v1.35h-8.61zM278.31,522.09h8.61v1.35h-8.61zM269.76,525.98h8.61v1.35h-8.61zM261.20,544.13h8.61v1.35h-8.61zM261.20,545.43h8.61v1.35h-8.61zM286.87,551.91h8.61v1.35h-8.61zM286.87,553.20h8.61v1.35h-8.61zM261.20,555.80h8.61v1.35h-8.61zM261.20,557.09h8.61v1.35h-8.61zM278.31,557.09h8.61v1.35h-8.61zM278.31,560.98h8.61v1.35h-8.61zM286.87,560.98h8.61v1.35h-8.61zM278.31,562.28h8.61v1.35h-8.61zM269.76,566.17h8.61v1.35h-8.61zM278.31,567.46h8.61v1.35h-8.61zM261.20,572.65h8.61v1.35h-8.61zM286.87,572.65h8.61v1.35h-8.61zM261.20,573.94h8.61v1.35h-8.61zM269.76,573.94h8.61v1.35h-8.61zM261.20,575.24h8.61v1.35h-8.61zM286.87,575.24h8.61v1.35h-8.61zM286.87,576.54h8.61v1.35h-8.61zM261.20,579.13h8.61v1.35h-8.61zM286.87,579.13h8.61v1.35h-8.61zM261.20,580.43h8.61v1.35h-8.61zM269.76,586.91h8.61v1.35h-8.61zM278.31,586.91h8.61v1.35h-8.61zM303.99,496.17h8.61v1.35h-8.61zM312.54,496.17h8.61v1.35h-8.61zM321.10,496.17h8.61v1.35h-8.61zM295.43,516.91h8.61v1.35h-8.61zM303.99,516.91h8.61v1.35h-8.61zM312.54,516.91h8.61v1.35h-8.61zM321.10,516.91h8.61v1.35h-8.61zM312.54,519.50h8.61v1.35h-8.61zM321.10,519.50h8.61v1.35h-8.61zM303.99,522.09h8.61v1.35h-8.61zM312.54,522.09h8.61v1.35h-8.61zM295.43,524.68h8.61v1.35h-8.61zM321.10,524.68h8.61v1.35h-8.61zM295.43,525.98h8.61v1.35h-8.61zM303.99,525.98h8.61v1.35h-8.61zM312.54,527.28h8.61v1.35h-8.61zM295.43,529.87h8.61v1.35h-8.61zM312.54,529.87h8.61v1.35h-8.61zM303.99,531.17h8.61v1.35h-8.61zM321.10,531.17h8.61v1.35h-8.61zM295.43,532.46h8.61v1.35h-8.61zM312.54,532.46h8.61v1.35h-8.61zM295.43,533.76h8.61v1.35h-8.61zM321.10,533.76h8.61v1.35h-8.61zM312.54,535.05h8.61v1.35h-8.61zM295.43,562.28h8.61v1.35h-8.61zM312.54,563.57h8.61v1.35h-8.61zM303.99,572.65h8.61v1.35h-8.61zM321.10,572.65h8.61v1.35h-8.61zM329.66,453.39h8.61v1.35h-8.61zM338.21,453.39h8.61v1.35h-8.61zM338.21,490.98h8.61v1.35h-8.61zM346.77,490.98h8.61v1.35h-8.61zM338.21,496.17h8.61v1.35h-8.61zM346.77,496.17h8.61v1.35h-8.61zM355.33,496.17h8.61v1.35h-8.61zM338.21,497.46h8.61v1.35h-8.61zM346.77,497.46h8.61v1.35h-8.61zM329.66,502.65h8.61v1.35h-8.61zM338.21,507.83h8.61v1.35h-8.61zM355.33,507.83h8.61v1.35h-8.61zM338.21,510.42h8.61v1.35h-8.61zM329.66,513.02h8.61v1.35h-8.61zM338.21,515.61h8.61v1.35h-8.61zM346.77,515.61h8.61v1.35h-8.61zM355.33,516.91h8.61v1.35h-8.61zM338.21,519.50h8.61v1.35h-8.61zM329.66,523.39h8.61v1.35h-8.61zM338.21,523.39h8.61v1.35h-8.61zM355.33,523.39h8.61v1.35h-8.61zM346.77,528.57h8.61v1.35h-8.61zM338.21,529.87h8.61v1.35h-8.61zM346.77,529.87h8.61v1.35h-8.61zM355.33,529.87h8.61v1.35h-8.61zM355.33,531.17h8.61v1.35h-8.61zM338.21,533.76h8.61v1.35h-8.61zM338.21,535.05h8.61v1.35h-8.61zM355.33,535.05h8.61v1.35h-8.61zM338.21,537.65h8.61v1.35h-8.61zM346.77,537.65h8.61v1.35h-8.61zM329.66,538.94h8.61v1.35h-8.61zM355.33,538.94h8.61v1.35h-8.61zM329.66,540.24h8.61v1.35h-8.61zM346.77,540.24h8.61v1.35h-8.61zM355.33,550.61h8.61v1.35h-8.61zM363.89,380.79h8.61v1.35h-8.61zM363.89,382.09h8.61v1.35h-8.61zM372.44,382.09h8.61v1.35h-8.61zM372.44,383.39h8.61v1.35h-8.61zM372.44,388.57h8.61v1.35h-8.61zM381.00,388.57h8.61v1.35h-8.61zM372.44,395.05h8.61v1.35h-8.61zM372.44,400.24h8.61v1.35h-8.61zM363.89,401.53h8.61v1.35h-8.61zM363.89,402.83h8.61v1.35h-8.61zM372.44,402.83h8.61v1.35h-8.61zM381.00,402.83h8.61v1.35h-8.61zM363.89,404.13h8.61v1.35h-8.61zM381.00,406.72h8.61v1.35h-8.61zM363.89,408.02h8.61v1.35h-8.61zM372.44,409.31h8.61v1.35h-8.61zM372.44,413.20h8.61v1.35h-8.61zM372.44,414.50h8.61v1.35h-8.61zM363.89,420.98h8.61v1.35h-8.61zM372.44,426.16h8.61v1.35h-8.61zM363.89,427.46h8.61v1.35h-8.61zM381.00,427.46h8.61v1.35h-8.61zM363.89,433.94h8.61v1.35h-8.61zM363.89,439.13h8.61v1.35h-8.61zM363.89,449.50h8.61v1.35h-8.61zM363.89,457.28h8.61v1.35h-8.61zM363.89,458.57h8.61v1.35h-8.61zM363.89,461.16h8.61v1.35h-8.61zM372.44,465.05h8.61v1.35h-8.61zM372.44,466.35h8.61v1.35h-8.61zM398.11,389.87h8.61v1.35h-8.61zM406.67,389.87h8.61v1.35h-8.61zM398.11,395.05h8.61v1.35h-8.61zM398.11,396.35h8.61v1.35h-8.61zM406.67,422.27h8.61v1.35h-8.61zM398.11,424.87h8.61v1.35h-8.61zM389.56,426.16h8.61v1.35h-8.61zM398.11,426.16h8.61v1.35h-8.61zM406.67,427.46h8.61v1.35h-8.61zM398.11,430.05h8.61v1.35h-8.61zM406.67,430.05h8.61v1.35h-8.61zM389.56,437.83h8.61v1.35h-8.61zM398.11,437.83h8.61v1.35h-8.61zM406.67,437.83h8.61v1.35h-8.61zM406.67,448.20h8.61v1.35h-8.61zM389.56,450.79h8.61v1.35h-8.61zM398.11,454.68h8.61v1.35h-8.61zM389.56,459.87h8.61v1.35h-8.61zM389.56,461.16h8.61v1.35h-8.61zM406.67,461.16h8.61v1.35h-8.61zM389.56,462.46h8.61v1.35h-8.61zM398.11,462.46h8.61v1.35h-8.61zM406.67,465.05h8.61v1.35h-8.61zM406.67,472.83h8.61v1.35h-8.61zM389.56,476.72h8.61v1.35h-8.61zM406.67,476.72h8.61v1.35h-8.61zM398.11,479.31h8.61v1.35h-8.61zM398.11,487.09h8.61v1.35h-8.61zM406.67,527.28h8.61v1.35h-8.61zM398.11,553.20h8.61v1.35h-8.61zM389.56,567.46h8.61v1.35h-8.61zM398.11,567.46h8.61v1.35h-8.61zM406.67,567.46h8.61v1.35h-8.61zM432.34,384.68h8.61v1.35h-8.61zM415.23,385.98h8.61v1.35h-8.61zM423.79,385.98h8.61v1.35h-8.61zM415.23,388.57h8.61v1.35h-8.61zM423.79,388.57h8.61v1.35h-8.61zM432.34,388.57h8.61v1.35h-8.61zM423.79,389.87h8.61v1.35h-8.61zM432.34,389.87h8.61v1.35h-8.61zM423.79,391.16h8.61v1.35h-8.61zM415.23,392.46h8.61v1.35h-8.61zM423.79,392.46h8.61v1.35h-8.61zM432.34,392.46h8.61v1.35h-8.61zM415.23,393.76h8.61v1.35h-8.61zM423.79,396.35h8.61v1.35h-8.61zM432.34,396.35h8.61v1.35h-8.61zM415.23,400.24h8.61v1.35h-8.61zM432.34,400.24h8.61v1.35h-8.61zM415.23,405.42h8.61v1.35h-8.61zM432.34,405.42h8.61v1.35h-8.61zM423.79,409.31h8.61v1.35h-8.61zM432.34,409.31h8.61v1.35h-8.61zM432.34,410.61h8.61v1.35h-8.61zM415.23,422.27h8.61v1.35h-8.61zM423.79,422.27h8.61v1.35h-8.61zM432.34,422.27h8.61v1.35h-8.61zM415.23,424.87h8.61v1.35h-8.61zM432.34,427.46h8.61v1.35h-8.61zM415.23,433.94h8.61v1.35h-8.61zM432.34,435.24h8.61v1.35h-8.61zM415.23,436.53h8.61v1.35h-8.61zM423.79,436.53h8.61v1.35h-8.61zM432.34,436.53h8.61v1.35h-8.61zM432.34,478.02h8.61v1.35h-8.61z" fill="#3c72b6"/><path d="M286.87,461.16h8.61v1.35h-8.61zM261.20,479.31h8.61v1.35h-8.61zM278.31,479.31h8.61v1.35h-8.61zM278.31,483.20h8.61v1.35h-8.61zM261.20,484.50h8.61v1.35h-8.61zM261.20,485.79h8.61v1.35h-8.61zM286.87,485.79h8.61v1.35h-8.61zM261.20,487.09h8.61v1.35h-8.61zM278.31,487.09h8.61v1.35h-8.61zM286.87,487.09h8.61v1.35h-8.61zM286.87,488.39h8.61v1.35h-8.61zM286.87,489.68h8.61v1.35h-8.61zM261.20,490.98h8.61v1.35h-8.61zM269.76,490.98h8.61v1.35h-8.61zM278.31,490.98h8.61v1.35h-8.61zM286.87,490.98h8.61v1.35h-8.61zM278.31,497.46h8.61v1.35h-8.61zM278.31,501.35h8.61v1.35h-8.61zM269.76,502.65h8.61v1.35h-8.61zM286.87,502.65h8.61v1.35h-8.61zM261.20,503.94h8.61v1.35h-8.61zM269.76,505.24h8.61v1.35h-8.61zM278.31,505.24h8.61v1.35h-8.61zM286.87,505.24h8.61v1.35h-8.61zM269.76,507.83h8.61v1.35h-8.61zM278.31,507.83h8.61v1.35h-8.61zM286.87,507.83h8.61v1.35h-8.61zM261.20,513.02h8.61v1.35h-8.61zM269.76,513.02h8.61v1.35h-8.61zM261.20,514.31h8.61v1.35h-8.61zM261.20,515.61h8.61v1.35h-8.61zM269.76,518.20h8.61v1.35h-8.61zM269.76,519.50h8.61v1.35h-8.61zM278.31,520.80h8.61v1.35h-8.61zM286.87,520.80h8.61v1.35h-8.61zM261.20,523.39h8.61v1.35h-8.61zM278.31,523.39h8.61v1.35h-8.61zM286.87,525.98h8.61v1.35h-8.61zM286.87,532.46h8.61v1.35h-8.61zM269.76,544.13h8.61v1.35h-8.61zM286.87,544.13h8.61v1.35h-8.61zM269.76,545.43h8.61v1.35h-8.61zM286.87,545.43h8.61v1.35h-8.61zM269.76,551.91h8.61v1.35h-8.61zM278.31,555.80h8.61v1.35h-8.61zM269.76,557.09h8.61v1.35h-8.61zM286.87,557.09h8.61v1.35h-8.61zM269.76,562.28h8.61v1.35h-8.61zM286.87,562.28h8.61v1.35h-8.61zM269.76,563.57h8.61v1.35h-8.61zM261.20,567.46h8.61v1.35h-8.61zM278.31,572.65h8.61v1.35h-8.61zM278.31,579.13h8.61v1.35h-8.61zM295.43,496.17h8.61v1.35h-8.61zM295.43,515.61h8.61v1.35h-8.61zM303.99,520.80h8.61v1.35h-8.61zM312.54,520.80h8.61v1.35h-8.61zM321.10,522.09h8.61v1.35h-8.61zM312.54,524.68h8.61v1.35h-8.61zM312.54,525.98h8.61v1.35h-8.61zM321.10,525.98h8.61v1.35h-8.61zM295.43,527.28h8.61v1.35h-8.61zM303.99,527.28h8.61v1.35h-8.61zM321.10,527.28h8.61v1.35h-8.61zM312.54,531.17h8.61v1.35h-8.61zM295.43,544.13h8.61v1.35h-8.61zM303.99,544.13h8.61v1.35h-8.61zM312.54,544.13h8.61v1.35h-8.61zM321.10,544.13h8.61v1.35h-8.61zM295.43,555.80h8.61v1.35h-8.61zM312.54,555.80h8.61v1.35h-8.61zM312.54,559.68h8.61v1.35h-8.61zM295.43,563.57h8.61v1.35h-8.61zM303.99,563.57h8.61v1.35h-8.61zM303.99,568.76h8.61v1.35h-8.61zM321.10,568.76h8.61v1.35h-8.61zM312.54,570.06h8.61v1.35h-8.61zM295.43,572.65h8.61v1.35h-8.61zM312.54,572.65h8.61v1.35h-8.61zM321.10,584.31h8.61v1.35h-8.61zM346.77,423.57h8.61v1.35h-8.61zM346.77,437.83h8.61v1.35h-8.61zM329.66,445.61h8.61v1.35h-8.61zM338.21,445.61h8.61v1.35h-8.61zM346.77,445.61h8.61v1.35h-8.61zM355.33,445.61h8.61v1.35h-8.61zM355.33,453.39h8.61v1.35h-8.61zM346.77,489.68h8.61v1.35h-8.61zM355.33,489.68h8.61v1.35h-8.61zM338.21,492.28h8.61v1.35h-8.61zM346.77,492.28h8.61v1.35h-8.61zM355.33,492.28h8.61v1.35h-8.61zM338.21,494.87h8.61v1.35h-8.61zM355.33,497.46h8.61v1.35h-8.61zM338.21,498.76h8.61v1.35h-8.61zM355.33,498.76h8.61v1.35h-8.61zM338.21,500.05h8.61v1.35h-8.61zM338.21,501.35h8.61v1.35h-8.61zM346.77,501.35h8.61v1.35h-8.61zM338.21,503.94h8.61v1.35h-8.61zM355.33,503.94h8.61v1.35h-8.61zM355.33,506.54h8.61v1.35h-8.61zM346.77,507.83h8.61v1.35h-8.61zM338.21,509.13h8.61v1.35h-8.61zM346.77,509.13h8.61v1.35h-8.61zM355.33,509.13h8.61v1.35h-8.61zM346.77,510.42h8.61v1.35h-8.61zM346.77,511.72h8.61v1.35h-8.61zM329.66,516.91h8.61v1.35h-8.61zM338.21,516.91h8.61v1.35h-8.61zM346.77,518.20h8.61v1.35h-8.61zM355.33,518.20h8.61v1.35h-8.61zM329.66,519.50h8.61v1.35h-8.61zM355.33,519.50h8.61v1.35h-8.61zM329.66,520.80h8.61v1.35h-8.61zM329.66,525.98h8.61v1.35h-8.61zM338.21,528.57h8.61v1.35h-8.61zM355.33,528.57h8.61v1.35h-8.61zM329.66,529.87h8.61v1.35h-8.61zM329.66,533.76h8.61v1.35h-8.61zM346.77,533.76h8.61v1.35h-8.61zM346.77,535.05h8.61v1.35h-8.61zM329.66,550.61h8.61v1.35h-8.61zM338.21,550.61h8.61v1.35h-8.61zM346.77,550.61h8.61v1.35h-8.61zM363.89,379.50h8.61v1.35h-8.61zM372.44,380.79h8.61v1.35h-8.61zM381.00,382.09h8.61v1.35h-8.61zM372.44,384.68h8.61v1.35h-8.61zM381.00,384.68h8.61v1.35h-8.61zM372.44,385.98h8.61v1.35h-8.61zM381.00,385.98h8.61v1.35h-8.61zM363.89,387.27h8.61v1.35h-8.61zM381.00,387.27h8.61v1.35h-8.61zM381.00,389.87h8.61v1.35h-8.61zM372.44,391.16h8.61v1.35h-8.61zM381.00,391.16h8.61v1.35h-8.61zM363.89,395.05h8.61v1.35h-8.61zM381.00,395.05h8.61v1.35h-8.61zM363.89,396.35h8.61v1.35h-8.61zM372.44,396.35h8.61v1.35h-8.61zM381.00,401.53h8.61v1.35h-8.61zM363.89,405.42h8.61v1.35h-8.61zM372.44,406.72h8.61v1.35h-8.61zM372.44,408.02h8.61v1.35h-8.61zM363.89,411.90h8.61v1.35h-8.61zM372.44,411.90h8.61v1.35h-8.61zM381.00,411.90h8.61v1.35h-8.61zM363.89,414.50h8.61v1.35h-8.61zM381.00,415.79h8.61v1.35h-8.61zM363.89,417.09h8.61v1.35h-8.61zM372.44,417.09h8.61v1.35h-8.61zM381.00,417.09h8.61v1.35h-8.61zM381.00,419.68h8.61v1.35h-8.61zM372.44,430.05h8.61v1.35h-8.61zM363.89,435.24h8.61v1.35h-8.61zM363.89,448.20h8.61v1.35h-8.61zM363.89,450.79h8.61v1.35h-8.61zM363.89,454.68h8.61v1.35h-8.61zM372.44,457.28h8.61v1.35h-8.61zM381.00,457.28h8.61v1.35h-8.61zM372.44,461.16h8.61v1.35h-8.61zM381.00,570.06h8.61v1.35h-8.61zM406.67,379.50h8.61v1.35h-8.61zM389.56,388.57h8.61v1.35h-8.61zM406.67,388.57h8.61v1.35h-8.61zM389.56,392.46h8.61v1.35h-8.61zM398.11,392.46h8.61v1.35h-8.61zM406.67,393.76h8.61v1.35h-8.61zM389.56,395.05h8.61v1.35h-8.61zM389.56,409.31h8.61v1.35h-8.61zM398.11,409.31h8.61v1.35h-8.61zM406.67,409.31h8.61v1.35h-8.61zM389.56,424.87h8.61v1.35h-8.61zM406.67,426.16h8.61v1.35h-8.61zM389.56,428.76h8.61v1.35h-8.61zM398.11,428.76h8.61v1.35h-8.61zM406.67,428.76h8.61v1.35h-8.61zM389.56,430.05h8.61v1.35h-8.61zM398.11,445.61h8.61v1.35h-8.61zM406.67,445.61h8.61v1.35h-8.61zM389.56,448.20h8.61v1.35h-8.61zM398.11,448.20h8.61v1.35h-8.61zM398.11,450.79h8.61v1.35h-8.61zM389.56,453.39h8.61v1.35h-8.61zM398.11,453.39h8.61v1.35h-8.61zM406.67,453.39h8.61v1.35h-8.61zM389.56,458.57h8.61v1.35h-8.61zM398.11,458.57h8.61v1.35h-8.61zM406.67,458.57h8.61v1.35h-8.61zM398.11,459.87h8.61v1.35h-8.61zM406.67,459.87h8.61v1.35h-8.61zM398.11,461.16h8.61v1.35h-8.61zM389.56,465.05h8.61v1.35h-8.61zM406.67,466.35h8.61v1.35h-8.61zM389.56,467.65h8.61v1.35h-8.61zM389.56,468.94h8.61v1.35h-8.61zM398.11,468.94h8.61v1.35h-8.61zM406.67,468.94h8.61v1.35h-8.61zM389.56,470.24h8.61v1.35h-8.61zM398.11,470.24h8.61v1.35h-8.61zM406.67,470.24h8.61v1.35h-8.61zM398.11,472.83h8.61v1.35h-8.61zM406.67,479.31h8.61v1.35h-8.61zM406.67,481.91h8.61v1.35h-8.61zM389.56,487.09h8.61v1.35h-8.61zM389.56,527.28h8.61v1.35h-8.61zM398.11,527.28h8.61v1.35h-8.61zM406.67,553.20h8.61v1.35h-8.61zM389.56,562.28h8.61v1.35h-8.61zM406.67,562.28h8.61v1.35h-8.61zM423.79,378.20h8.61v1.35h-8.61zM432.34,378.20h8.61v1.35h-8.61zM432.34,379.50h8.61v1.35h-8.61zM415.23,380.79h8.61v1.35h-8.61zM415.23,382.09h8.61v1.35h-8.61zM432.34,382.09h8.61v1.35h-8.61zM415.23,389.87h8.61v1.35h-8.61zM432.34,391.16h8.61v1.35h-8.61zM415.23,410.61h8.61v1.35h-8.61zM423.79,410.61h8.61v1.35h-8.61zM415.23,411.90h8.61v1.35h-8.61zM423.79,411.90h8.61v1.35h-8.61zM432.34,411.90h8.61v1.35h-8.61zM423.79,414.50h8.61v1.35h-8.61zM432.34,414.50h8.61v1.35h-8.61zM415.23,427.46h8.61v1.35h-8.61zM423.79,427.46h8.61v1.35h-8.61zM423.79,430.05h8.61v1.35h-8.61zM423.79,478.02h8.61v1.35h-8.61zM423.79,481.91h8.61v1.35h-8.61zM415.23,483.20h8.61v1.35h-8.61zM432.34,483.20h8.61v1.35h-8.61zM432.34,487.09h8.61v1.35h-8.61zM432.34,488.39h8.61v1.35h-8.61z" fill="#447fbb"/><path d="M286.87,404.13h8.61v1.35h-8.61zM286.87,405.42h8.61v1.35h-8.61zM261.20,457.28h8.61v1.35h-8.61zM286.87,457.28h8.61v1.35h-8.61zM269.76,461.16h8.61v1.35h-8.61zM278.31,461.16h8.61v1.35h-8.61zM269.76,462.46h8.61v1.35h-8.61zM278.31,466.35h8.61v1.35h-8.61zM261.20,468.94h8.61v1.35h-8.61zM269.76,468.94h8.61v1.35h-8.61zM278.31,468.94h8.61v1.35h-8.61zM261.20,470.24h8.61v1.35h-8.61zM278.31,470.24h8.61v1.35h-8.61zM261.20,472.83h8.61v1.35h-8.61zM261.20,480.61h8.61v1.35h-8.61zM269.76,480.61h8.61v1.35h-8.61zM278.31,480.61h8.61v1.35h-8.61zM278.31,484.50h8.61v1.35h-8.61zM269.76,485.79h8.61v1.35h-8.61zM269.76,487.09h8.61v1.35h-8.61zM269.76,488.39h8.61v1.35h-8.61zM278.31,488.39h8.61v1.35h-8.61zM261.20,489.68h8.61v1.35h-8.61zM278.31,489.68h8.61v1.35h-8.61zM278.31,493.57h8.61v1.35h-8.61zM286.87,493.57h8.61v1.35h-8.61zM261.20,496.17h8.61v1.35h-8.61zM269.76,496.17h8.61v1.35h-8.61zM278.31,496.17h8.61v1.35h-8.61zM286.87,496.17h8.61v1.35h-8.61zM261.20,500.05h8.61v1.35h-8.61zM278.31,500.05h8.61v1.35h-8.61zM261.20,502.65h8.61v1.35h-8.61zM269.76,506.54h8.61v1.35h-8.61zM278.31,506.54h8.61v1.35h-8.61zM286.87,506.54h8.61v1.35h-8.61zM278.31,513.02h8.61v1.35h-8.61zM278.31,514.31h8.61v1.35h-8.61zM261.20,516.91h8.61v1.35h-8.61zM278.31,516.91h8.61v1.35h-8.61zM261.20,520.80h8.61v1.35h-8.61zM261.20,522.09h8.61v1.35h-8.61zM269.76,522.09h8.61v1.35h-8.61zM286.87,522.09h8.61v1.35h-8.61zM286.87,523.39h8.61v1.35h-8.61zM278.31,527.28h8.61v1.35h-8.61zM286.87,527.28h8.61v1.35h-8.61zM286.87,528.57h8.61v1.35h-8.61zM278.31,532.46h8.61v1.35h-8.61zM269.76,533.76h8.61v1.35h-8.61zM278.31,533.76h8.61v1.35h-8.61zM286.87,533.76h8.61v1.35h-8.61zM261.20,535.05h8.61v1.35h-8.61zM269.76,535.05h8.61v1.35h-8.61zM278.31,535.05h8.61v1.35h-8.61zM261.20,542.83h8.61v1.35h-8.61zM286.87,542.83h8.61v1.35h-8.61zM278.31,544.13h8.61v1.35h-8.61zM278.31,545.43h8.61v1.35h-8.61zM261.20,554.50h8.61v1.35h-8.61zM286.87,554.50h8.61v1.35h-8.61zM269.76,555.80h8.61v1.35h-8.61zM286.87,555.80h8.61v1.35h-8.61zM269.76,558.39h8.61v1.35h-8.61zM286.87,558.39h8.61v1.35h-8.61zM261.20,563.57h8.61v1.35h-8.61zM278.31,563.57h8.61v1.35h-8.61zM269.76,567.46h8.61v1.35h-8.61zM286.87,567.46h8.61v1.35h-8.61zM269.76,579.13h8.61v1.35h-8.61zM295.43,494.87h8.61v1.35h-8.61zM303.99,494.87h8.61v1.35h-8.61zM312.54,494.87h8.61v1.35h-8.61zM321.10,494.87h8.61v1.35h-8.61zM321.10,497.46h8.61v1.35h-8.61zM295.43,501.35h8.61v1.35h-8.61zM312.54,501.35h8.61v1.35h-8.61zM321.10,501.35h8.61v1.35h-8.61zM295.43,502.65h8.61v1.35h-8.61zM312.54,502.65h8.61v1.35h-8.61zM295.43,503.94h8.61v1.35h-8.61zM312.54,503.94h8.61v1.35h-8.61zM303.99,515.61h8.61v1.35h-8.61zM312.54,515.61h8.61v1.35h-8.61zM321.10,515.61h8.61v1.35h-8.61zM303.99,518.20h8.61v1.35h-8.61zM321.10,518.20h8.61v1.35h-8.61zM295.43,520.80h8.61v1.35h-8.61zM321.10,520.80h8.61v1.35h-8.61zM295.43,522.09h8.61v1.35h-8.61zM303.99,523.39h8.61v1.35h-8.61zM312.54,523.39h8.61v1.35h-8.61zM321.10,523.39h8.61v1.35h-8.61zM295.43,528.57h8.61v1.35h-8.61zM303.99,528.57h8.61v1.35h-8.61zM321.10,528.57h8.61v1.35h-8.61zM295.43,536.35h8.61v1.35h-8.61zM312.54,536.35h8.61v1.35h-8.61zM312.54,546.72h8.61v1.35h-8.61zM321.10,546.72h8.61v1.35h-8.61zM303.99,549.31h8.61v1.35h-8.61zM312.54,553.20h8.61v1.35h-8.61zM303.99,555.80h8.61v1.35h-8.61zM321.10,555.80h8.61v1.35h-8.61zM303.99,558.39h8.61v1.35h-8.61zM312.54,558.39h8.61v1.35h-8.61zM321.10,558.39h8.61v1.35h-8.61zM295.43,559.68h8.61v1.35h-8.61zM321.10,559.68h8.61v1.35h-8.61zM321.10,563.57h8.61v1.35h-8.61zM303.99,564.87h8.61v1.35h-8.61zM295.43,567.46h8.61v1.35h-8.61zM303.99,567.46h8.61v1.35h-8.61zM312.54,567.46h8.61v1.35h-8.61zM321.10,567.46h8.61v1.35h-8.61zM295.43,568.76h8.61v1.35h-8.61zM312.54,568.76h8.61v1.35h-8.61zM321.10,570.06h8.61v1.35h-8.61zM295.43,571.35h8.61v1.35h-8.61zM303.99,571.35h8.61v1.35h-8.61zM295.43,573.94h8.61v1.35h-8.61zM303.99,573.94h8.61v1.35h-8.61zM312.54,573.94h8.61v1.35h-8.61zM321.10,573.94h8.61v1.35h-8.61zM303.99,581.72h8.61v1.35h-8.61zM295.43,584.31h8.61v1.35h-8.61zM303.99,584.31h8.61v1.35h-8.61zM312.54,584.31h8.61v1.35h-8.61zM338.21,423.57h8.61v1.35h-8.61zM355.33,437.83h8.61v1.35h-8.61zM346.77,446.90h8.61v1.35h-8.61zM355.33,452.09h8.61v1.35h-8.61zM346.77,453.39h8.61v1.35h-8.61zM329.66,455.98h8.61v1.35h-8.61zM338.21,455.98h8.61v1.35h-8.61zM346.77,455.98h8.61v1.35h-8.61zM355.33,455.98h8.61v1.35h-8.61zM355.33,490.98h8.61v1.35h-8.61zM338.21,493.57h8.61v1.35h-8.61zM346.77,493.57h8.61v1.35h-8.61zM355.33,493.57h8.61v1.35h-8.61zM346.77,494.87h8.61v1.35h-8.61zM355.33,494.87h8.61v1.35h-8.61zM346.77,503.94h8.61v1.35h-8.61zM338.21,505.24h8.61v1.35h-8.61zM346.77,505.24h8.61v1.35h-8.61zM338.21,506.54h8.61v1.35h-8.61zM355.33,510.42h8.61v1.35h-8.61zM338.21,511.72h8.61v1.35h-8.61zM355.33,511.72h8.61v1.35h-8.61zM346.77,516.91h8.61v1.35h-8.61zM329.66,518.20h8.61v1.35h-8.61zM338.21,518.20h8.61v1.35h-8.61zM346.77,519.50h8.61v1.35h-8.61zM346.77,520.80h8.61v1.35h-8.61zM355.33,520.80h8.61v1.35h-8.61zM338.21,525.98h8.61v1.35h-8.61zM355.33,525.98h8.61v1.35h-8.61zM329.66,528.57h8.61v1.35h-8.61zM329.66,537.65h8.61v1.35h-8.61zM355.33,537.65h8.61v1.35h-8.61zM363.89,384.68h8.61v1.35h-8.61zM363.89,385.98h8.61v1.35h-8.61zM372.44,387.27h8.61v1.35h-8.61zM363.89,392.46h8.61v1.35h-8.61zM372.44,392.46h8.61v1.35h-8.61zM372.44,398.94h8.61v1.35h-8.61zM363.89,410.61h8.61v1.35h-8.61zM372.44,410.61h8.61v1.35h-8.61zM381.00,410.61h8.61v1.35h-8.61zM372.44,415.79h8.61v1.35h-8.61zM372.44,420.98h8.61v1.35h-8.61zM381.00,420.98h8.61v1.35h-8.61zM363.89,422.27h8.61v1.35h-8.61zM372.44,422.27h8.61v1.35h-8.61zM381.00,422.27h8.61v1.35h-8.61zM381.00,423.57h8.61v1.35h-8.61zM363.89,430.05h8.61v1.35h-8.61zM381.00,430.05h8.61v1.35h-8.61zM363.89,432.65h8.61v1.35h-8.61zM372.44,439.13h8.61v1.35h-8.61zM363.89,444.31h8.61v1.35h-8.61zM381.00,446.90h8.61v1.35h-8.61zM363.89,453.39h8.61v1.35h-8.61zM363.89,455.98h8.61v1.35h-8.61zM381.00,461.16h8.61v1.35h-8.61zM363.89,557.09h8.61v1.35h-8.61zM381.00,557.09h8.61v1.35h-8.61zM372.44,559.68h8.61v1.35h-8.61zM363.89,562.28h8.61v1.35h-8.61zM363.89,570.06h8.61v1.35h-8.61zM389.56,379.50h8.61v1.35h-8.61zM398.11,379.50h8.61v1.35h-8.61zM389.56,380.79h8.61v1.35h-8.61zM389.56,383.39h8.61v1.35h-8.61zM398.11,384.68h8.61v1.35h-8.61zM398.11,388.57h8.61v1.35h-8.61zM398.11,391.16h8.61v1.35h-8.61zM406.67,391.16h8.61v1.35h-8.61zM406.67,392.46h8.61v1.35h-8.61zM389.56,393.76h8.61v1.35h-8.61zM406.67,395.05h8.61v1.35h-8.61zM398.11,410.61h8.61v1.35h-8.61zM389.56,413.20h8.61v1.35h-8.61zM406.67,413.20h8.61v1.35h-8.61zM398.11,418.39h8.61v1.35h-8.61zM398.11,432.65h8.61v1.35h-8.61zM389.56,433.94h8.61v1.35h-8.61zM398.11,435.24h8.61v1.35h-8.61zM389.56,440.42h8.61v1.35h-8.61zM398.11,440.42h8.61v1.35h-8.61zM406.67,440.42h8.61v1.35h-8.61zM389.56,443.02h8.61v1.35h-8.61zM406.67,443.02h8.61v1.35h-8.61zM398.11,444.31h8.61v1.35h-8.61zM389.56,445.61h8.61v1.35h-8.61zM389.56,446.90h8.61v1.35h-8.61zM398.11,446.90h8.61v1.35h-8.61zM406.67,450.79h8.61v1.35h-8.61zM389.56,452.09h8.61v1.35h-8.61zM406.67,452.09h8.61v1.35h-8.61zM398.11,455.98h8.61v1.35h-8.61zM398.11,463.76h8.61v1.35h-8.61zM398.11,465.05h8.61v1.35h-8.61zM389.56,466.35h8.61v1.35h-8.61zM398.11,466.35h8.61v1.35h-8.61zM406.67,467.65h8.61v1.35h-8.61zM389.56,471.53h8.61v1.35h-8.61zM398.11,471.53h8.61v1.35h-8.61zM406.67,471.53h8.61v1.35h-8.61zM389.56,472.83h8.61v1.35h-8.61zM389.56,474.13h8.61v1.35h-8.61zM398.11,474.13h8.61v1.35h-8.61zM406.67,474.13h8.61v1.35h-8.61zM406.67,480.61h8.61v1.35h-8.61zM398.11,481.91h8.61v1.35h-8.61zM406.67,487.09h8.61v1.35h-8.61zM398.11,525.98h8.61v1.35h-8.61zM398.11,557.09h8.61v1.35h-8.61zM406.67,559.68h8.61v1.35h-8.61zM423.79,382.09h8.61v1.35h-8.61zM415.23,391.16h8.61v1.35h-8.61zM423.79,395.05h8.61v1.35h-8.61zM423.79,397.64h8.61v1.35h-8.61zM432.34,397.64h8.61v1.35h-8.61zM423.79,413.20h8.61v1.35h-8.61zM432.34,413.20h8.61v1.35h-8.61zM415.23,414.50h8.61v1.35h-8.61zM415.23,423.57h8.61v1.35h-8.61zM423.79,475.42h8.61v1.35h-8.61zM415.23,478.02h8.61v1.35h-8.61zM415.23,480.61h8.61v1.35h-8.61zM423.79,483.20h8.61v1.35h-8.61zM423.79,484.50h8.61v1.35h-8.61zM415.23,487.09h8.61v1.35h-8.61z" fill="#4c8bc1"/><path d="M286.87,378.20h8.61v1.35h-8.61zM269.76,385.98h8.61v1.35h-8.61zM278.31,457.28h8.61v1.35h-8.61zM269.76,459.87h8.61v1.35h-8.61zM286.87,459.87h8.61v1.35h-8.61zM261.20,461.16h8.61v1.35h-8.61zM286.87,462.46h8.61v1.35h-8.61zM286.87,466.35h8.61v1.35h-8.61zM286.87,468.94h8.61v1.35h-8.61zM286.87,470.24h8.61v1.35h-8.61zM261.20,471.53h8.61v1.35h-8.61zM269.76,471.53h8.61v1.35h-8.61zM278.31,471.53h8.61v1.35h-8.61zM269.76,472.83h8.61v1.35h-8.61zM278.31,472.83h8.61v1.35h-8.61zM286.87,472.83h8.61v1.35h-8.61zM261.20,474.13h8.61v1.35h-8.61zM278.31,476.72h8.61v1.35h-8.61zM286.87,476.72h8.61v1.35h-8.61zM269.76,478.02h8.61v1.35h-8.61zM278.31,478.02h8.61v1.35h-8.61zM286.87,478.02h8.61v1.35h-8.61zM286.87,480.61h8.61v1.35h-8.61zM261.20,488.39h8.61v1.35h-8.61zM261.20,493.57h8.61v1.35h-8.61zM269.76,494.87h8.61v1.35h-8.61zM269.76,500.05h8.61v1.35h-8.61zM286.87,500.05h8.61v1.35h-8.61zM261.20,506.54h8.61v1.35h-8.61zM261.20,507.83h8.61v1.35h-8.61zM286.87,515.61h8.61v1.35h-8.61zM269.76,516.91h8.61v1.35h-8.61zM286.87,516.91h8.61v1.35h-8.61zM269.76,523.39h8.61v1.35h-8.61zM261.20,527.28h8.61v1.35h-8.61zM269.76,527.28h8.61v1.35h-8.61zM269.76,528.57h8.61v1.35h-8.61zM278.31,528.57h8.61v1.35h-8.61zM261.20,529.87h8.61v1.35h-8.61zM278.31,529.87h8.61v1.35h-8.61zM261.20,531.17h8.61v1.35h-8.61zM261.20,532.46h8.61v1.35h-8.61zM269.76,532.46h8.61v1.35h-8.61zM261.20,533.76h8.61v1.35h-8.61zM269.76,542.83h8.61v1.35h-8.61zM278.31,542.83h8.61v1.35h-8.61zM261.20,548.02h8.61v1.35h-8.61zM269.76,548.02h8.61v1.35h-8.61zM278.31,548.02h8.61v1.35h-8.61zM269.76,554.50h8.61v1.35h-8.61zM261.20,558.39h8.61v1.35h-8.61zM278.31,558.39h8.61v1.35h-8.61zM286.87,563.57h8.61v1.35h-8.61zM261.20,584.31h8.61v1.35h-8.61zM269.76,584.31h8.61v1.35h-8.61zM286.87,584.31h8.61v1.35h-8.61zM295.43,427.46h8.61v1.35h-8.61zM312.54,427.46h8.61v1.35h-8.61zM321.10,427.46h8.61v1.35h-8.61zM303.99,428.76h8.61v1.35h-8.61zM295.43,472.83h8.61v1.35h-8.61zM303.99,472.83h8.61v1.35h-8.61zM312.54,472.83h8.61v1.35h-8.61zM295.43,480.61h8.61v1.35h-8.61zM303.99,480.61h8.61v1.35h-8.61zM312.54,480.61h8.61v1.35h-8.61zM321.10,480.61h8.61v1.35h-8.61zM295.43,493.57h8.61v1.35h-8.61zM303.99,493.57h8.61v1.35h-8.61zM321.10,493.57h8.61v1.35h-8.61zM303.99,497.46h8.61v1.35h-8.61zM295.43,498.76h8.61v1.35h-8.61zM303.99,498.76h8.61v1.35h-8.61zM303.99,501.35h8.61v1.35h-8.61zM321.10,502.65h8.61v1.35h-8.61zM303.99,503.94h8.61v1.35h-8.61zM321.10,503.94h8.61v1.35h-8.61zM295.43,518.20h8.61v1.35h-8.61zM312.54,518.20h8.61v1.35h-8.61zM312.54,528.57h8.61v1.35h-8.61zM303.99,536.35h8.61v1.35h-8.61zM321.10,536.35h8.61v1.35h-8.61zM295.43,537.65h8.61v1.35h-8.61zM303.99,537.65h8.61v1.35h-8.61zM312.54,537.65h8.61v1.35h-8.61zM295.43,542.83h8.61v1.35h-8.61zM303.99,542.83h8.61v1.35h-8.61zM295.43,546.72h8.61v1.35h-8.61zM303.99,546.72h8.61v1.35h-8.61zM321.10,549.31h8.61v1.35h-8.61zM312.54,551.91h8.61v1.35h-8.61zM321.10,553.20h8.61v1.35h-8.61zM295.43,554.50h8.61v1.35h-8.61zM303.99,554.50h8.61v1.35h-8.61zM303.99,557.09h8.61v1.35h-8.61zM312.54,557.09h8.61v1.35h-8.61zM321.10,557.09h8.61v1.35h-8.61zM295.43,558.39h8.61v1.35h-8.61zM303.99,559.68h8.61v1.35h-8.61zM295.43,560.98h8.61v1.35h-8.61zM312.54,560.98h8.61v1.35h-8.61zM321.10,560.98h8.61v1.35h-8.61zM303.99,562.28h8.61v1.35h-8.61zM312.54,562.28h8.61v1.35h-8.61zM295.43,564.87h8.61v1.35h-8.61zM312.54,564.87h8.61v1.35h-8.61zM295.43,570.06h8.61v1.35h-8.61zM303.99,570.06h8.61v1.35h-8.61zM321.10,575.24h8.61v1.35h-8.61zM303.99,576.54h8.61v1.35h-8.61zM312.54,581.72h8.61v1.35h-8.61zM303.99,588.20h8.61v1.35h-8.61zM312.54,588.20h8.61v1.35h-8.61zM321.10,588.20h8.61v1.35h-8.61zM329.66,423.57h8.61v1.35h-8.61zM355.33,423.57h8.61v1.35h-8.61zM338.21,436.53h8.61v1.35h-8.61zM329.66,437.83h8.61v1.35h-8.61zM355.33,439.13h8.61v1.35h-8.61zM329.66,446.90h8.61v1.35h-8.61zM355.33,446.90h8.61v1.35h-8.61zM329.66,448.20h8.61v1.35h-8.61zM346.77,448.20h8.61v1.35h-8.61zM338.21,450.79h8.61v1.35h-8.61zM346.77,450.79h8.61v1.35h-8.61zM355.33,450.79h8.61v1.35h-8.61zM329.66,452.09h8.61v1.35h-8.61zM338.21,452.09h8.61v1.35h-8.61zM346.77,452.09h8.61v1.35h-8.61zM338.21,489.68h8.61v1.35h-8.61zM346.77,500.05h8.61v1.35h-8.61zM355.33,500.05h8.61v1.35h-8.61zM355.33,501.35h8.61v1.35h-8.61zM355.33,505.24h8.61v1.35h-8.61zM346.77,506.54h8.61v1.35h-8.61zM338.21,520.80h8.61v1.35h-8.61zM338.21,522.09h8.61v1.35h-8.61zM346.77,522.09h8.61v1.35h-8.61zM346.77,525.98h8.61v1.35h-8.61zM329.66,527.28h8.61v1.35h-8.61zM372.44,378.20h8.61v1.35h-8.61zM381.00,380.79h8.61v1.35h-8.61zM381.00,392.46h8.61v1.35h-8.61zM363.89,397.64h8.61v1.35h-8.61zM372.44,397.64h8.61v1.35h-8.61zM363.89,398.94h8.61v1.35h-8.61zM363.89,419.68h8.61v1.35h-8.61zM372.44,423.57h8.61v1.35h-8.61zM363.89,428.76h8.61v1.35h-8.61zM381.00,433.94h8.61v1.35h-8.61zM381.00,435.24h8.61v1.35h-8.61zM372.44,436.53h8.61v1.35h-8.61zM381.00,436.53h8.61v1.35h-8.61zM381.00,439.13h8.61v1.35h-8.61zM363.89,440.42h8.61v1.35h-8.61zM363.89,441.72h8.61v1.35h-8.61zM372.44,443.02h8.61v1.35h-8.61zM381.00,443.02h8.61v1.35h-8.61zM363.89,445.61h8.61v1.35h-8.61zM372.44,446.90h8.61v1.35h-8.61zM372.44,448.20h8.61v1.35h-8.61zM381.00,448.20h8.61v1.35h-8.61zM372.44,455.98h8.61v1.35h-8.61zM372.44,555.80h8.61v1.35h-8.61zM372.44,557.09h8.61v1.35h-8.61zM363.89,559.68h8.61v1.35h-8.61zM372.44,562.28h8.61v1.35h-8.61zM381.00,562.28h8.61v1.35h-8.61zM363.89,568.76h8.61v1.35h-8.61zM372.44,568.76h8.61v1.35h-8.61zM381.00,568.76h8.61v1.35h-8.61zM372.44,570.06h8.61v1.35h-8.61zM363.89,581.72h8.61v1.35h-8.61zM381.00,581.72h8.61v1.35h-8.61zM389.56,378.20h8.61v1.35h-8.61zM398.11,378.20h8.61v1.35h-8.61zM406.67,380.79h8.61v1.35h-8.61zM389.56,384.68h8.61v1.35h-8.61zM406.67,384.68h8.61v1.35h-8.61zM389.56,391.16h8.61v1.35h-8.61zM398.11,393.76h8.61v1.35h-8.61zM398.11,408.02h8.61v1.35h-8.61zM406.67,408.02h8.61v1.35h-8.61zM389.56,411.90h8.61v1.35h-8.61zM398.11,411.90h8.61v1.35h-8.61zM389.56,417.09h8.61v1.35h-8.61zM406.67,418.39h8.61v1.35h-8.61zM389.56,432.65h8.61v1.35h-8.61zM406.67,432.65h8.61v1.35h-8.61zM398.11,433.94h8.61v1.35h-8.61zM389.56,435.24h8.61v1.35h-8.61zM406.67,435.24h8.61v1.35h-8.61zM389.56,439.13h8.61v1.35h-8.61zM398.11,441.72h8.61v1.35h-8.61zM398.11,443.02h8.61v1.35h-8.61zM389.56,444.31h8.61v1.35h-8.61zM406.67,444.31h8.61v1.35h-8.61zM406.67,446.90h8.61v1.35h-8.61zM389.56,449.50h8.61v1.35h-8.61zM398.11,449.50h8.61v1.35h-8.61zM406.67,449.50h8.61v1.35h-8.61zM398.11,452.09h8.61v1.35h-8.61zM389.56,455.98h8.61v1.35h-8.61zM406.67,455.98h8.61v1.35h-8.61zM389.56,463.76h8.61v1.35h-8.61zM406.67,463.76h8.61v1.35h-8.61zM398.11,467.65h8.61v1.35h-8.61zM398.11,480.61h8.61v1.35h-8.61zM389.56,481.91h8.61v1.35h-8.61zM406.67,518.20h8.61v1.35h-8.61zM398.11,528.57h8.61v1.35h-8.61zM389.56,553.20h8.61v1.35h-8.61zM389.56,560.98h8.61v1.35h-8.61zM398.11,560.98h8.61v1.35h-8.61zM406.67,560.98h8.61v1.35h-8.61zM398.11,562.28h8.61v1.35h-8.61zM389.56,563.57h8.61v1.35h-8.61zM398.11,563.57h8.61v1.35h-8.61zM406.67,563.57h8.61v1.35h-8.61zM406.67,571.35h8.61v1.35h-8.61zM398.11,588.20h8.61v1.35h-8.61zM415.23,395.05h8.61v1.35h-8.61zM415.23,397.64h8.61v1.35h-8.61zM415.23,398.94h8.61v1.35h-8.61zM423.79,398.94h8.61v1.35h-8.61zM432.34,398.94h8.61v1.35h-8.61zM415.23,413.20h8.61v1.35h-8.61zM423.79,415.79h8.61v1.35h-8.61zM432.34,415.79h8.61v1.35h-8.61zM415.23,417.09h8.61v1.35h-8.61zM432.34,417.09h8.61v1.35h-8.61zM423.79,418.39h8.61v1.35h-8.61zM432.34,418.39h8.61v1.35h-8.61zM415.23,419.68h8.61v1.35h-8.61zM423.79,419.68h8.61v1.35h-8.61zM432.34,419.68h8.61v1.35h-8.61zM423.79,423.57h8.61v1.35h-8.61zM432.34,423.57h8.61v1.35h-8.61zM415.23,475.42h8.61v1.35h-8.61zM415.23,479.31h8.61v1.35h-8.61zM423.79,479.31h8.61v1.35h-8.61zM432.34,479.31h8.61v1.35h-8.61zM423.79,480.61h8.61v1.35h-8.61zM415.23,481.91h8.61v1.35h-8.61zM432.34,481.91h8.61v1.35h-8.61zM415.23,484.50h8.61v1.35h-8.61zM432.34,484.50h8.61v1.35h-8.61zM423.79,487.09h8.61v1.35h-8.61zM415.23,488.39h8.61v1.35h-8.61z" fill="#5498c6"/><path d="M278.31,378.20h8.61v1.35h-8.61zM261.20,385.98h8.61v1.35h-8.61zM278.31,385.98h8.61v1.35h-8.61zM286.87,385.98h8.61v1.35h-8.61zM286.87,401.53h8.61v1.35h-8.61zM269.76,457.28h8.61v1.35h-8.61zM269.76,458.57h8.61v1.35h-8.61zM261.20,459.87h8.61v1.35h-8.61zM278.31,459.87h8.61v1.35h-8.61zM261.20,462.46h8.61v1.35h-8.61zM278.31,462.46h8.61v1.35h-8.61zM261.20,463.76h8.61v1.35h-8.61zM269.76,463.76h8.61v1.35h-8.61zM286.87,463.76h8.61v1.35h-8.61zM261.20,466.35h8.61v1.35h-8.61zM269.76,466.35h8.61v1.35h-8.61zM269.76,470.24h8.61v1.35h-8.61zM269.76,474.13h8.61v1.35h-8.61zM261.20,476.72h8.61v1.35h-8.61zM269.76,476.72h8.61v1.35h-8.61zM261.20,478.02h8.61v1.35h-8.61zM286.87,494.87h8.61v1.35h-8.61zM261.20,524.68h8.61v1.35h-8.61zM261.20,528.57h8.61v1.35h-8.61zM269.76,529.87h8.61v1.35h-8.61zM286.87,529.87h8.61v1.35h-8.61zM278.31,531.17h8.61v1.35h-8.61zM286.87,531.17h8.61v1.35h-8.61zM286.87,535.05h8.61v1.35h-8.61zM286.87,540.24h8.61v1.35h-8.61zM278.31,541.54h8.61v1.35h-8.61zM269.76,546.72h8.61v1.35h-8.61zM278.31,546.72h8.61v1.35h-8.61zM286.87,546.72h8.61v1.35h-8.61zM286.87,548.02h8.61v1.35h-8.61zM278.31,549.31h8.61v1.35h-8.61zM261.20,550.61h8.61v1.35h-8.61zM278.31,554.50h8.61v1.35h-8.61zM278.31,584.31h8.61v1.35h-8.61zM303.99,414.50h8.61v1.35h-8.61zM295.43,419.68h8.61v1.35h-8.61zM312.54,419.68h8.61v1.35h-8.61zM321.10,419.68h8.61v1.35h-8.61zM303.99,426.16h8.61v1.35h-8.61zM303.99,427.46h8.61v1.35h-8.61zM303.99,462.46h8.61v1.35h-8.61zM295.43,463.76h8.61v1.35h-8.61zM321.10,463.76h8.61v1.35h-8.61zM321.10,472.83h8.61v1.35h-8.61zM295.43,479.31h8.61v1.35h-8.61zM295.43,489.68h8.61v1.35h-8.61zM303.99,490.98h8.61v1.35h-8.61zM312.54,490.98h8.61v1.35h-8.61zM321.10,490.98h8.61v1.35h-8.61zM295.43,492.28h8.61v1.35h-8.61zM312.54,493.57h8.61v1.35h-8.61zM295.43,497.46h8.61v1.35h-8.61zM312.54,497.46h8.61v1.35h-8.61zM312.54,498.76h8.61v1.35h-8.61zM295.43,500.05h8.61v1.35h-8.61zM312.54,500.05h8.61v1.35h-8.61zM303.99,502.65h8.61v1.35h-8.61zM295.43,523.39h8.61v1.35h-8.61zM321.10,537.65h8.61v1.35h-8.61zM321.10,542.83h8.61v1.35h-8.61zM295.43,545.43h8.61v1.35h-8.61zM303.99,548.02h8.61v1.35h-8.61zM312.54,548.02h8.61v1.35h-8.61zM321.10,548.02h8.61v1.35h-8.61zM312.54,549.31h8.61v1.35h-8.61zM295.43,550.61h8.61v1.35h-8.61zM303.99,550.61h8.61v1.35h-8.61zM295.43,551.91h8.61v1.35h-8.61zM303.99,551.91h8.61v1.35h-8.61zM321.10,551.91h8.61v1.35h-8.61zM295.43,553.20h8.61v1.35h-8.61zM303.99,553.20h8.61v1.35h-8.61zM321.10,554.50h8.61v1.35h-8.61zM295.43,557.09h8.61v1.35h-8.61zM303.99,560.98h8.61v1.35h-8.61zM321.10,562.28h8.61v1.35h-8.61zM295.43,566.17h8.61v1.35h-8.61zM303.99,566.17h8.61v1.35h-8.61zM312.54,571.35h8.61v1.35h-8.61zM321.10,571.35h8.61v1.35h-8.61zM295.43,575.24h8.61v1.35h-8.61zM312.54,575.24h8.61v1.35h-8.61zM295.43,576.54h8.61v1.35h-8.61zM312.54,576.54h8.61v1.35h-8.61zM321.10,576.54h8.61v1.35h-8.61zM312.54,577.83h8.61v1.35h-8.61zM321.10,577.83h8.61v1.35h-8.61zM295.43,579.13h8.61v1.35h-8.61zM312.54,579.13h8.61v1.35h-8.61zM295.43,581.72h8.61v1.35h-8.61zM321.10,581.72h8.61v1.35h-8.61zM295.43,585.61h8.61v1.35h-8.61zM321.10,585.61h8.61v1.35h-8.61zM295.43,588.20h8.61v1.35h-8.61zM355.33,406.72h8.61v1.35h-8.61zM329.66,427.46h8.61v1.35h-8.61zM329.66,436.53h8.61v1.35h-8.61zM355.33,436.53h8.61v1.35h-8.61zM338.21,437.83h8.61v1.35h-8.61zM346.77,439.13h8.61v1.35h-8.61zM338.21,444.31h8.61v1.35h-8.61zM338.21,446.90h8.61v1.35h-8.61zM338.21,448.20h8.61v1.35h-8.61zM355.33,448.20h8.61v1.35h-8.61zM329.66,449.50h8.61v1.35h-8.61zM329.66,450.79h8.61v1.35h-8.61zM329.66,454.68h8.61v1.35h-8.61zM338.21,502.65h8.61v1.35h-8.61zM346.77,502.65h8.61v1.35h-8.61zM329.66,522.09h8.61v1.35h-8.61zM355.33,522.09h8.61v1.35h-8.61zM346.77,527.28h8.61v1.35h-8.61zM355.33,527.28h8.61v1.35h-8.61zM329.66,581.72h8.61v1.35h-8.61zM338.21,581.72h8.61v1.35h-8.61zM346.77,581.72h8.61v1.35h-8.61zM355.33,581.72h8.61v1.35h-8.61zM363.89,378.20h8.61v1.35h-8.61zM381.00,378.20h8.61v1.35h-8.61zM363.89,393.76h8.61v1.35h-8.61zM381.00,393.76h8.61v1.35h-8.61zM381.00,397.64h8.61v1.35h-8.61zM381.00,398.94h8.61v1.35h-8.61zM363.89,415.79h8.61v1.35h-8.61zM372.44,419.68h8.61v1.35h-8.61zM372.44,428.76h8.61v1.35h-8.61zM363.89,437.83h8.61v1.35h-8.61zM372.44,444.31h8.61v1.35h-8.61zM381.00,449.50h8.61v1.35h-8.61zM372.44,450.79h8.61v1.35h-8.61zM381.00,450.79h8.61v1.35h-8.61zM372.44,454.68h8.61v1.35h-8.61zM381.00,454.68h8.61v1.35h-8.61zM381.00,455.98h8.61v1.35h-8.61zM372.44,507.83h8.61v1.35h-8.61zM381.00,507.83h8.61v1.35h-8.61zM381.00,551.91h8.61v1.35h-8.61zM372.44,553.20h8.61v1.35h-8.61zM363.89,555.80h8.61v1.35h-8.61zM381.00,555.80h8.61v1.35h-8.61zM381.00,559.68h8.61v1.35h-8.61zM363.89,566.17h8.61v1.35h-8.61zM372.44,566.17h8.61v1.35h-8.61zM372.44,571.35h8.61v1.35h-8.61zM381.00,571.35h8.61v1.35h-8.61zM381.00,575.24h8.61v1.35h-8.61zM363.89,576.54h8.61v1.35h-8.61zM381.00,580.43h8.61v1.35h-8.61zM372.44,581.72h8.61v1.35h-8.61zM372.44,585.61h8.61v1.35h-8.61zM381.00,585.61h8.61v1.35h-8.61zM398.11,380.79h8.61v1.35h-8.61zM398.11,383.39h8.61v1.35h-8.61zM406.67,383.39h8.61v1.35h-8.61zM398.11,385.98h8.61v1.35h-8.61zM389.56,400.24h8.61v1.35h-8.61zM389.56,408.02h8.61v1.35h-8.61zM389.56,410.61h8.61v1.35h-8.61zM406.67,410.61h8.61v1.35h-8.61zM406.67,411.90h8.61v1.35h-8.61zM398.11,417.09h8.61v1.35h-8.61zM406.67,417.09h8.61v1.35h-8.61zM389.56,418.39h8.61v1.35h-8.61zM406.67,439.13h8.61v1.35h-8.61zM389.56,441.72h8.61v1.35h-8.61zM406.67,441.72h8.61v1.35h-8.61zM389.56,480.61h8.61v1.35h-8.61zM406.67,496.17h8.61v1.35h-8.61zM398.11,503.94h8.61v1.35h-8.61zM398.11,515.61h8.61v1.35h-8.61zM389.56,516.91h8.61v1.35h-8.61zM406.67,516.91h8.61v1.35h-8.61zM389.56,518.20h8.61v1.35h-8.61zM398.11,518.20h8.61v1.35h-8.61zM389.56,523.39h8.61v1.35h-8.61zM406.67,523.39h8.61v1.35h-8.61zM389.56,524.68h8.61v1.35h-8.61zM398.11,524.68h8.61v1.35h-8.61zM389.56,525.98h8.61v1.35h-8.61zM406.67,528.57h8.61v1.35h-8.61zM398.11,531.17h8.61v1.35h-8.61zM389.56,533.76h8.61v1.35h-8.61zM398.11,555.80h8.61v1.35h-8.61zM406.67,555.80h8.61v1.35h-8.61zM389.56,557.09h8.61v1.35h-8.61zM406.67,557.09h8.61v1.35h-8.61zM398.11,558.39h8.61v1.35h-8.61zM389.56,559.68h8.61v1.35h-8.61zM398.11,559.68h8.61v1.35h-8.61zM389.56,568.76h8.61v1.35h-8.61zM398.11,568.76h8.61v1.35h-8.61zM389.56,570.06h8.61v1.35h-8.61zM398.11,570.06h8.61v1.35h-8.61zM406.67,570.06h8.61v1.35h-8.61zM389.56,571.35h8.61v1.35h-8.61zM398.11,571.35h8.61v1.35h-8.61zM398.11,573.94h8.61v1.35h-8.61zM406.67,573.94h8.61v1.35h-8.61zM398.11,576.54h8.61v1.35h-8.61zM389.56,588.20h8.61v1.35h-8.61zM406.67,588.20h8.61v1.35h-8.61zM432.34,395.05h8.61v1.35h-8.61zM415.23,418.39h8.61v1.35h-8.61zM432.34,459.87h8.61v1.35h-8.61zM423.79,468.94h8.61v1.35h-8.61zM432.34,475.42h8.61v1.35h-8.61zM432.34,480.61h8.61v1.35h-8.61zM415.23,485.79h8.61v1.35h-8.61zM423.79,485.79h8.61v1.35h-8.61zM432.34,485.79h8.61v1.35h-8.61zM423.79,488.39h8.61v1.35h-8.61z" fill="#5ca4cc"/><path d="M261.20,378.20h8.61v1.35h-8.61zM269.76,378.20h8.61v1.35h-8.61zM278.31,379.50h8.61v1.35h-8.61zM286.87,379.50h8.61v1.35h-8.61zM278.31,382.09h8.61v1.35h-8.61zM286.87,382.09h8.61v1.35h-8.61zM269.76,389.87h8.61v1.35h-8.61zM286.87,389.87h8.61v1.35h-8.61zM261.20,396.35h8.61v1.35h-8.61zM278.31,404.13h8.61v1.35h-8.61zM261.20,405.42h8.61v1.35h-8.61zM278.31,406.72h8.61v1.35h-8.61zM286.87,406.72h8.61v1.35h-8.61zM261.20,458.57h8.61v1.35h-8.61zM278.31,458.57h8.61v1.35h-8.61zM286.87,458.57h8.61v1.35h-8.61zM278.31,463.76h8.61v1.35h-8.61zM261.20,465.05h8.61v1.35h-8.61zM269.76,465.05h8.61v1.35h-8.61zM286.87,465.05h8.61v1.35h-8.61zM286.87,471.53h8.61v1.35h-8.61zM278.31,474.13h8.61v1.35h-8.61zM286.87,474.13h8.61v1.35h-8.61zM269.76,475.42h8.61v1.35h-8.61zM278.31,475.42h8.61v1.35h-8.61zM286.87,475.42h8.61v1.35h-8.61zM261.20,494.87h8.61v1.35h-8.61zM278.31,494.87h8.61v1.35h-8.61zM269.76,524.68h8.61v1.35h-8.61zM278.31,524.68h8.61v1.35h-8.61zM286.87,524.68h8.61v1.35h-8.61zM269.76,531.17h8.61v1.35h-8.61zM261.20,537.65h8.61v1.35h-8.61zM269.76,537.65h8.61v1.35h-8.61zM278.31,537.65h8.61v1.35h-8.61zM286.87,537.65h8.61v1.35h-8.61zM269.76,538.94h8.61v1.35h-8.61zM286.87,538.94h8.61v1.35h-8.61zM261.20,540.24h8.61v1.35h-8.61zM278.31,540.24h8.61v1.35h-8.61zM261.20,541.54h8.61v1.35h-8.61zM269.76,541.54h8.61v1.35h-8.61zM286.87,541.54h8.61v1.35h-8.61zM261.20,546.72h8.61v1.35h-8.61zM261.20,549.31h8.61v1.35h-8.61zM269.76,549.31h8.61v1.35h-8.61zM286.87,549.31h8.61v1.35h-8.61zM278.31,550.61h8.61v1.35h-8.61zM286.87,550.61h8.61v1.35h-8.61zM295.43,410.61h8.61v1.35h-8.61zM303.99,410.61h8.61v1.35h-8.61zM321.10,410.61h8.61v1.35h-8.61zM295.43,413.20h8.61v1.35h-8.61zM303.99,413.20h8.61v1.35h-8.61zM312.54,413.20h8.61v1.35h-8.61zM295.43,414.50h8.61v1.35h-8.61zM303.99,419.68h8.61v1.35h-8.61zM312.54,422.27h8.61v1.35h-8.61zM295.43,424.87h8.61v1.35h-8.61zM312.54,424.87h8.61v1.35h-8.61zM321.10,424.87h8.61v1.35h-8.61zM295.43,426.16h8.61v1.35h-8.61zM295.43,428.76h8.61v1.35h-8.61zM312.54,428.76h8.61v1.35h-8.61zM321.10,428.76h8.61v1.35h-8.61zM303.99,430.05h8.61v1.35h-8.61zM295.43,462.46h8.61v1.35h-8.61zM321.10,462.46h8.61v1.35h-8.61zM303.99,463.76h8.61v1.35h-8.61zM312.54,463.76h8.61v1.35h-8.61zM295.43,466.35h8.61v1.35h-8.61zM321.10,466.35h8.61v1.35h-8.61zM312.54,470.24h8.61v1.35h-8.61zM321.10,470.24h8.61v1.35h-8.61zM312.54,474.13h8.61v1.35h-8.61zM321.10,474.13h8.61v1.35h-8.61zM321.10,475.42h8.61v1.35h-8.61zM321.10,476.72h8.61v1.35h-8.61zM303.99,479.31h8.61v1.35h-8.61zM312.54,479.31h8.61v1.35h-8.61zM321.10,479.31h8.61v1.35h-8.61zM312.54,489.68h8.61v1.35h-8.61zM321.10,489.68h8.61v1.35h-8.61zM295.43,490.98h8.61v1.35h-8.61zM303.99,492.28h8.61v1.35h-8.61zM321.10,492.28h8.61v1.35h-8.61zM321.10,498.76h8.61v1.35h-8.61zM321.10,500.05h8.61v1.35h-8.61zM321.10,538.94h8.61v1.35h-8.61zM312.54,540.24h8.61v1.35h-8.61zM303.99,541.54h8.61v1.35h-8.61zM321.10,541.54h8.61v1.35h-8.61zM312.54,542.83h8.61v1.35h-8.61zM321.10,545.43h8.61v1.35h-8.61zM295.43,548.02h8.61v1.35h-8.61zM295.43,549.31h8.61v1.35h-8.61zM321.10,550.61h8.61v1.35h-8.61zM312.54,554.50h8.61v1.35h-8.61zM321.10,564.87h8.61v1.35h-8.61zM303.99,575.24h8.61v1.35h-8.61zM295.43,577.83h8.61v1.35h-8.61zM303.99,577.83h8.61v1.35h-8.61zM303.99,579.13h8.61v1.35h-8.61zM321.10,579.13h8.61v1.35h-8.61zM295.43,580.43h8.61v1.35h-8.61zM303.99,585.61h8.61v1.35h-8.61zM312.54,585.61h8.61v1.35h-8.61zM321.10,586.91h8.61v1.35h-8.61zM338.21,384.68h8.61v1.35h-8.61zM338.21,406.72h8.61v1.35h-8.61zM338.21,427.46h8.61v1.35h-8.61zM355.33,427.46h8.61v1.35h-8.61zM329.66,428.76h8.61v1.35h-8.61zM338.21,428.76h8.61v1.35h-8.61zM355.33,428.76h8.61v1.35h-8.61zM346.77,436.53h8.61v1.35h-8.61zM329.66,439.13h8.61v1.35h-8.61zM346.77,440.42h8.61v1.35h-8.61zM355.33,440.42h8.61v1.35h-8.61zM355.33,443.02h8.61v1.35h-8.61zM329.66,444.31h8.61v1.35h-8.61zM355.33,444.31h8.61v1.35h-8.61zM338.21,449.50h8.61v1.35h-8.61zM346.77,449.50h8.61v1.35h-8.61zM355.33,449.50h8.61v1.35h-8.61zM338.21,454.68h8.61v1.35h-8.61zM346.77,454.68h8.61v1.35h-8.61zM355.33,502.65h8.61v1.35h-8.61zM346.77,513.02h8.61v1.35h-8.61zM329.66,524.68h8.61v1.35h-8.61zM338.21,524.68h8.61v1.35h-8.61zM346.77,524.68h8.61v1.35h-8.61zM355.33,524.68h8.61v1.35h-8.61zM338.21,527.28h8.61v1.35h-8.61zM355.33,573.94h8.61v1.35h-8.61zM372.44,393.76h8.61v1.35h-8.61zM372.44,424.87h8.61v1.35h-8.61zM381.00,428.76h8.61v1.35h-8.61zM372.44,433.94h8.61v1.35h-8.61zM372.44,435.24h8.61v1.35h-8.61zM381.00,444.31h8.61v1.35h-8.61zM363.89,452.09h8.61v1.35h-8.61zM363.89,509.13h8.61v1.35h-8.61zM372.44,509.13h8.61v1.35h-8.61zM363.89,551.91h8.61v1.35h-8.61zM372.44,551.91h8.61v1.35h-8.61zM381.00,553.20h8.61v1.35h-8.61zM363.89,558.39h8.61v1.35h-8.61zM381.00,564.87h8.61v1.35h-8.61zM381.00,566.17h8.61v1.35h-8.61zM372.44,567.46h8.61v1.35h-8.61zM363.89,571.35h8.61v1.35h-8.61zM363.89,573.94h8.61v1.35h-8.61zM372.44,573.94h8.61v1.35h-8.61zM363.89,575.24h8.61v1.35h-8.61zM381.00,576.54h8.61v1.35h-8.61zM363.89,577.83h8.61v1.35h-8.61zM363.89,579.13h8.61v1.35h-8.61zM381.00,579.13h8.61v1.35h-8.61zM363.89,580.43h8.61v1.35h-8.61zM372.44,580.43h8.61v1.35h-8.61zM363.89,584.31h8.61v1.35h-8.61zM372.44,584.31h8.61v1.35h-8.61zM381.00,584.31h8.61v1.35h-8.61zM363.89,585.61h8.61v1.35h-8.61zM381.00,588.20h8.61v1.35h-8.61zM406.67,378.20h8.61v1.35h-8.61zM406.67,385.98h8.61v1.35h-8.61zM389.56,387.27h8.61v1.35h-8.61zM406.67,387.27h8.61v1.35h-8.61zM406.67,400.24h8.61v1.35h-8.61zM398.11,413.20h8.61v1.35h-8.61zM398.11,414.50h8.61v1.35h-8.61zM398.11,415.79h8.61v1.35h-8.61zM406.67,415.79h8.61v1.35h-8.61zM406.67,433.94h8.61v1.35h-8.61zM389.56,436.53h8.61v1.35h-8.61zM398.11,436.53h8.61v1.35h-8.61zM406.67,436.53h8.61v1.35h-8.61zM398.11,439.13h8.61v1.35h-8.61zM389.56,484.50h8.61v1.35h-8.61zM406.67,484.50h8.61v1.35h-8.61zM389.56,488.39h8.61v1.35h-8.61zM398.11,488.39h8.61v1.35h-8.61zM389.56,503.94h8.61v1.35h-8.61zM406.67,503.94h8.61v1.35h-8.61zM406.67,515.61h8.61v1.35h-8.61zM398.11,516.91h8.61v1.35h-8.61zM406.67,519.50h8.61v1.35h-8.61zM389.56,522.09h8.61v1.35h-8.61zM398.11,522.09h8.61v1.35h-8.61zM406.67,522.09h8.61v1.35h-8.61zM398.11,523.39h8.61v1.35h-8.61zM406.67,524.68h8.61v1.35h-8.61zM406.67,525.98h8.61v1.35h-8.61zM389.56,528.57h8.61v1.35h-8.61zM398.11,529.87h8.61v1.35h-8.61zM398.11,532.46h8.61v1.35h-8.61zM406.67,533.76h8.61v1.35h-8.61zM398.11,544.13h8.61v1.35h-8.61zM406.67,548.02h8.61v1.35h-8.61zM389.56,551.91h8.61v1.35h-8.61zM389.56,555.80h8.61v1.35h-8.61zM406.67,558.39h8.61v1.35h-8.61zM398.11,566.17h8.61v1.35h-8.61zM406.67,566.17h8.61v1.35h-8.61zM406.67,568.76h8.61v1.35h-8.61zM389.56,573.94h8.61v1.35h-8.61zM389.56,576.54h8.61v1.35h-8.61zM415.23,415.79h8.61v1.35h-8.61zM423.79,417.09h8.61v1.35h-8.61zM432.34,465.05h8.61v1.35h-8.61zM415.23,476.72h8.61v1.35h-8.61zM423.79,476.72h8.61v1.35h-8.61zM432.34,476.72h8.61v1.35h-8.61zM415.23,510.42h8.61v1.35h-8.61zM423.79,510.42h8.61v1.35h-8.61zM432.34,510.42h8.61v1.35h-8.61zM415.23,513.02h8.61v1.35h-8.61zM423.79,513.02h8.61v1.35h-8.61zM415.23,541.54h8.61v1.35h-8.61zM423.79,541.54h8.61v1.35h-8.61zM432.34,541.54h8.61v1.35h-8.61zM432.34,548.02h8.61v1.35h-8.61zM415.23,549.31h8.61v1.35h-8.61zM423.79,549.31h8.61v1.35h-8.61z" fill="#6baecb"/><path d="M269.76,382.09h8.61v1.35h-8.61zM269.76,383.39h8.61v1.35h-8.61zM278.31,383.39h8.61v1.35h-8.61zM278.31,384.68h8.61v1.35h-8.61zM286.87,387.27h8.61v1.35h-8.61zM269.76,388.57h8.61v1.35h-8.61zM261.20,389.87h8.61v1.35h-8.61zM286.87,392.46h8.61v1.35h-8.61zM269.76,396.35h8.61v1.35h-8.61zM286.87,396.35h8.61v1.35h-8.61zM286.87,397.64h8.61v1.35h-8.61zM278.31,401.53h8.61v1.35h-8.61zM286.87,402.83h8.61v1.35h-8.61zM261.20,404.13h8.61v1.35h-8.61zM269.76,404.13h8.61v1.35h-8.61zM269.76,405.42h8.61v1.35h-8.61zM278.31,405.42h8.61v1.35h-8.61zM269.76,406.72h8.61v1.35h-8.61zM278.31,465.05h8.61v1.35h-8.61zM269.76,467.65h8.61v1.35h-8.61zM278.31,467.65h8.61v1.35h-8.61zM286.87,467.65h8.61v1.35h-8.61zM261.20,475.42h8.61v1.35h-8.61zM261.20,536.35h8.61v1.35h-8.61zM278.31,538.94h8.61v1.35h-8.61zM269.76,540.24h8.61v1.35h-8.61zM269.76,550.61h8.61v1.35h-8.61zM312.54,387.27h8.61v1.35h-8.61zM321.10,396.35h8.61v1.35h-8.61zM312.54,414.50h8.61v1.35h-8.61zM321.10,414.50h8.61v1.35h-8.61zM295.43,417.09h8.61v1.35h-8.61zM295.43,422.27h8.61v1.35h-8.61zM303.99,422.27h8.61v1.35h-8.61zM321.10,422.27h8.61v1.35h-8.61zM295.43,423.57h8.61v1.35h-8.61zM303.99,423.57h8.61v1.35h-8.61zM312.54,423.57h8.61v1.35h-8.61zM303.99,424.87h8.61v1.35h-8.61zM321.10,430.05h8.61v1.35h-8.61zM295.43,431.35h8.61v1.35h-8.61zM303.99,431.35h8.61v1.35h-8.61zM312.54,431.35h8.61v1.35h-8.61zM295.43,433.94h8.61v1.35h-8.61zM303.99,433.94h8.61v1.35h-8.61zM321.10,433.94h8.61v1.35h-8.61zM295.43,457.28h8.61v1.35h-8.61zM303.99,457.28h8.61v1.35h-8.61zM295.43,461.16h8.61v1.35h-8.61zM312.54,462.46h8.61v1.35h-8.61zM295.43,468.94h8.61v1.35h-8.61zM303.99,468.94h8.61v1.35h-8.61zM312.54,468.94h8.61v1.35h-8.61zM321.10,468.94h8.61v1.35h-8.61zM295.43,470.24h8.61v1.35h-8.61zM303.99,470.24h8.61v1.35h-8.61zM295.43,471.53h8.61v1.35h-8.61zM321.10,471.53h8.61v1.35h-8.61zM303.99,474.13h8.61v1.35h-8.61zM295.43,475.42h8.61v1.35h-8.61zM303.99,475.42h8.61v1.35h-8.61zM312.54,475.42h8.61v1.35h-8.61zM303.99,478.02h8.61v1.35h-8.61zM303.99,489.68h8.61v1.35h-8.61zM312.54,492.28h8.61v1.35h-8.61zM303.99,500.05h8.61v1.35h-8.61zM312.54,507.83h8.61v1.35h-8.61zM295.43,511.72h8.61v1.35h-8.61zM303.99,511.72h8.61v1.35h-8.61zM295.43,514.31h8.61v1.35h-8.61zM303.99,514.31h8.61v1.35h-8.61zM321.10,514.31h8.61v1.35h-8.61zM295.43,538.94h8.61v1.35h-8.61zM303.99,538.94h8.61v1.35h-8.61zM312.54,538.94h8.61v1.35h-8.61zM303.99,540.24h8.61v1.35h-8.61zM321.10,540.24h8.61v1.35h-8.61zM295.43,541.54h8.61v1.35h-8.61zM312.54,541.54h8.61v1.35h-8.61zM303.99,545.43h8.61v1.35h-8.61zM312.54,545.43h8.61v1.35h-8.61zM312.54,550.61h8.61v1.35h-8.61zM312.54,566.17h8.61v1.35h-8.61zM321.10,566.17h8.61v1.35h-8.61zM303.99,580.43h8.61v1.35h-8.61zM312.54,580.43h8.61v1.35h-8.61zM321.10,580.43h8.61v1.35h-8.61zM295.43,586.91h8.61v1.35h-8.61zM303.99,586.91h8.61v1.35h-8.61zM312.54,586.91h8.61v1.35h-8.61zM346.77,384.68h8.61v1.35h-8.61zM355.33,387.27h8.61v1.35h-8.61zM329.66,393.76h8.61v1.35h-8.61zM346.77,393.76h8.61v1.35h-8.61zM329.66,401.53h8.61v1.35h-8.61zM355.33,401.53h8.61v1.35h-8.61zM346.77,406.72h8.61v1.35h-8.61zM338.21,410.61h8.61v1.35h-8.61zM346.77,410.61h8.61v1.35h-8.61zM355.33,410.61h8.61v1.35h-8.61zM355.33,411.90h8.61v1.35h-8.61zM338.21,420.98h8.61v1.35h-8.61zM346.77,428.76h8.61v1.35h-8.61zM346.77,431.35h8.61v1.35h-8.61zM338.21,433.94h8.61v1.35h-8.61zM346.77,433.94h8.61v1.35h-8.61zM338.21,435.24h8.61v1.35h-8.61zM338.21,439.13h8.61v1.35h-8.61zM329.66,440.42h8.61v1.35h-8.61zM338.21,440.42h8.61v1.35h-8.61zM329.66,443.02h8.61v1.35h-8.61zM346.77,443.02h8.61v1.35h-8.61zM355.33,454.68h8.61v1.35h-8.61zM355.33,513.02h8.61v1.35h-8.61zM329.66,567.46h8.61v1.35h-8.61zM346.77,567.46h8.61v1.35h-8.61zM355.33,567.46h8.61v1.35h-8.61zM329.66,571.35h8.61v1.35h-8.61zM338.21,573.94h8.61v1.35h-8.61zM346.77,573.94h8.61v1.35h-8.61zM338.21,577.83h8.61v1.35h-8.61zM346.77,577.83h8.61v1.35h-8.61zM329.66,584.31h8.61v1.35h-8.61zM338.21,584.31h8.61v1.35h-8.61zM346.77,584.31h8.61v1.35h-8.61zM329.66,586.91h8.61v1.35h-8.61zM338.21,586.91h8.61v1.35h-8.61zM346.77,586.91h8.61v1.35h-8.61zM363.89,424.87h8.61v1.35h-8.61zM381.00,424.87h8.61v1.35h-8.61zM372.44,432.65h8.61v1.35h-8.61zM381.00,432.65h8.61v1.35h-8.61zM372.44,440.42h8.61v1.35h-8.61zM381.00,440.42h8.61v1.35h-8.61zM372.44,449.50h8.61v1.35h-8.61zM363.89,507.83h8.61v1.35h-8.61zM381.00,509.13h8.61v1.35h-8.61zM363.89,510.42h8.61v1.35h-8.61zM381.00,511.72h8.61v1.35h-8.61zM363.89,513.02h8.61v1.35h-8.61zM372.44,513.02h8.61v1.35h-8.61zM363.89,554.50h8.61v1.35h-8.61zM381.00,554.50h8.61v1.35h-8.61zM372.44,558.39h8.61v1.35h-8.61zM381.00,558.39h8.61v1.35h-8.61zM372.44,560.98h8.61v1.35h-8.61zM381.00,560.98h8.61v1.35h-8.61zM363.89,563.57h8.61v1.35h-8.61zM372.44,563.57h8.61v1.35h-8.61zM381.00,563.57h8.61v1.35h-8.61zM363.89,564.87h8.61v1.35h-8.61zM372.44,564.87h8.61v1.35h-8.61zM363.89,567.46h8.61v1.35h-8.61zM372.44,575.24h8.61v1.35h-8.61zM372.44,576.54h8.61v1.35h-8.61zM372.44,577.83h8.61v1.35h-8.61zM381.00,577.83h8.61v1.35h-8.61zM372.44,579.13h8.61v1.35h-8.61zM363.89,588.20h8.61v1.35h-8.61zM372.44,588.20h8.61v1.35h-8.61zM398.11,382.09h8.61v1.35h-8.61zM389.56,385.98h8.61v1.35h-8.61zM398.11,387.27h8.61v1.35h-8.61zM398.11,400.24h8.61v1.35h-8.61zM389.56,414.50h8.61v1.35h-8.61zM389.56,415.79h8.61v1.35h-8.61zM398.11,484.50h8.61v1.35h-8.61zM406.67,488.39h8.61v1.35h-8.61zM398.11,489.68h8.61v1.35h-8.61zM406.67,489.68h8.61v1.35h-8.61zM398.11,490.98h8.61v1.35h-8.61zM389.56,496.17h8.61v1.35h-8.61zM398.11,496.17h8.61v1.35h-8.61zM398.11,514.31h8.61v1.35h-8.61zM389.56,515.61h8.61v1.35h-8.61zM389.56,519.50h8.61v1.35h-8.61zM398.11,520.80h8.61v1.35h-8.61zM389.56,529.87h8.61v1.35h-8.61zM389.56,531.17h8.61v1.35h-8.61zM406.67,531.17h8.61v1.35h-8.61zM389.56,532.46h8.61v1.35h-8.61zM406.67,532.46h8.61v1.35h-8.61zM389.56,544.13h8.61v1.35h-8.61zM406.67,544.13h8.61v1.35h-8.61zM398.11,545.43h8.61v1.35h-8.61zM389.56,558.39h8.61v1.35h-8.61zM389.56,564.87h8.61v1.35h-8.61zM389.56,572.65h8.61v1.35h-8.61zM406.67,572.65h8.61v1.35h-8.61zM406.67,576.54h8.61v1.35h-8.61zM389.56,579.13h8.61v1.35h-8.61zM389.56,584.31h8.61v1.35h-8.61zM389.56,586.91h8.61v1.35h-8.61zM423.79,458.57h8.61v1.35h-8.61zM432.34,458.57h8.61v1.35h-8.61zM415.23,459.87h8.61v1.35h-8.61zM423.79,459.87h8.61v1.35h-8.61zM423.79,462.46h8.61v1.35h-8.61zM432.34,462.46h8.61v1.35h-8.61zM423.79,465.05h8.61v1.35h-8.61zM432.34,466.35h8.61v1.35h-8.61zM432.34,467.65h8.61v1.35h-8.61zM415.23,468.94h8.61v1.35h-8.61zM432.34,468.94h8.61v1.35h-8.61zM415.23,474.13h8.61v1.35h-8.61zM432.34,474.13h8.61v1.35h-8.61zM432.34,513.02h8.61v1.35h-8.61zM423.79,515.61h8.61v1.35h-8.61zM432.34,515.61h8.61v1.35h-8.61zM415.23,516.91h8.61v1.35h-8.61zM423.79,516.91h8.61v1.35h-8.61zM432.34,516.91h8.61v1.35h-8.61zM423.79,537.65h8.61v1.35h-8.61zM423.79,538.94h8.61v1.35h-8.61zM432.34,538.94h8.61v1.35h-8.61zM415.23,542.83h8.61v1.35h-8.61zM432.34,545.43h8.61v1.35h-8.61zM415.23,548.02h8.61v1.35h-8.61zM432.34,549.31h8.61v1.35h-8.61z" fill="#7ab7c9"/><path d="M261.20,379.50h8.61v1.35h-8.61zM269.76,379.50h8.61v1.35h-8.61zM286.87,380.79h8.61v1.35h-8.61zM261.20,383.39h8.61v1.35h-8.61zM286.87,383.39h8.61v1.35h-8.61zM269.76,384.68h8.61v1.35h-8.61zM269.76,387.27h8.61v1.35h-8.61zM278.31,387.27h8.61v1.35h-8.61zM261.20,388.57h8.61v1.35h-8.61zM278.31,388.57h8.61v1.35h-8.61zM286.87,388.57h8.61v1.35h-8.61zM278.31,389.87h8.61v1.35h-8.61zM269.76,392.46h8.61v1.35h-8.61zM278.31,392.46h8.61v1.35h-8.61zM286.87,395.05h8.61v1.35h-8.61zM278.31,396.35h8.61v1.35h-8.61zM286.87,398.94h8.61v1.35h-8.61zM269.76,400.24h8.61v1.35h-8.61zM286.87,400.24h8.61v1.35h-8.61zM261.20,401.53h8.61v1.35h-8.61zM269.76,401.53h8.61v1.35h-8.61zM278.31,402.83h8.61v1.35h-8.61zM261.20,406.72h8.61v1.35h-8.61zM261.20,417.09h8.61v1.35h-8.61zM278.31,445.61h8.61v1.35h-8.61zM261.20,449.50h8.61v1.35h-8.61zM269.76,449.50h8.61v1.35h-8.61zM278.31,449.50h8.61v1.35h-8.61zM261.20,467.65h8.61v1.35h-8.61zM269.76,536.35h8.61v1.35h-8.61zM278.31,536.35h8.61v1.35h-8.61zM286.87,536.35h8.61v1.35h-8.61zM261.20,538.94h8.61v1.35h-8.61zM295.43,387.27h8.61v1.35h-8.61zM303.99,387.27h8.61v1.35h-8.61zM321.10,387.27h8.61v1.35h-8.61zM303.99,392.46h8.61v1.35h-8.61zM321.10,392.46h8.61v1.35h-8.61zM303.99,393.76h8.61v1.35h-8.61zM321.10,393.76h8.61v1.35h-8.61zM295.43,396.35h8.61v1.35h-8.61zM312.54,396.35h8.61v1.35h-8.61zM312.54,410.61h8.61v1.35h-8.61zM303.99,415.79h8.61v1.35h-8.61zM321.10,415.79h8.61v1.35h-8.61zM303.99,417.09h8.61v1.35h-8.61zM312.54,417.09h8.61v1.35h-8.61zM321.10,417.09h8.61v1.35h-8.61zM303.99,420.98h8.61v1.35h-8.61zM321.10,420.98h8.61v1.35h-8.61zM321.10,423.57h8.61v1.35h-8.61zM312.54,426.16h8.61v1.35h-8.61zM321.10,426.16h8.61v1.35h-8.61zM295.43,430.05h8.61v1.35h-8.61zM312.54,430.05h8.61v1.35h-8.61zM321.10,431.35h8.61v1.35h-8.61zM295.43,432.65h8.61v1.35h-8.61zM312.54,433.94h8.61v1.35h-8.61zM321.10,436.53h8.61v1.35h-8.61zM312.54,457.28h8.61v1.35h-8.61zM321.10,457.28h8.61v1.35h-8.61zM303.99,458.57h8.61v1.35h-8.61zM312.54,458.57h8.61v1.35h-8.61zM321.10,459.87h8.61v1.35h-8.61zM312.54,461.16h8.61v1.35h-8.61zM312.54,465.05h8.61v1.35h-8.61zM321.10,465.05h8.61v1.35h-8.61zM303.99,466.35h8.61v1.35h-8.61zM312.54,466.35h8.61v1.35h-8.61zM303.99,467.65h8.61v1.35h-8.61zM321.10,467.65h8.61v1.35h-8.61zM303.99,471.53h8.61v1.35h-8.61zM312.54,471.53h8.61v1.35h-8.61zM295.43,474.13h8.61v1.35h-8.61zM295.43,476.72h8.61v1.35h-8.61zM303.99,476.72h8.61v1.35h-8.61zM312.54,476.72h8.61v1.35h-8.61zM295.43,478.02h8.61v1.35h-8.61zM312.54,478.02h8.61v1.35h-8.61zM321.10,478.02h8.61v1.35h-8.61zM312.54,505.24h8.61v1.35h-8.61zM295.43,506.54h8.61v1.35h-8.61zM321.10,507.83h8.61v1.35h-8.61zM303.99,509.13h8.61v1.35h-8.61zM312.54,509.13h8.61v1.35h-8.61zM312.54,511.72h8.61v1.35h-8.61zM321.10,511.72h8.61v1.35h-8.61zM295.43,513.02h8.61v1.35h-8.61zM312.54,513.02h8.61v1.35h-8.61zM312.54,514.31h8.61v1.35h-8.61zM295.43,540.24h8.61v1.35h-8.61zM295.43,583.02h8.61v1.35h-8.61zM338.21,380.79h8.61v1.35h-8.61zM338.21,383.39h8.61v1.35h-8.61zM338.21,387.27h8.61v1.35h-8.61zM346.77,387.27h8.61v1.35h-8.61zM355.33,392.46h8.61v1.35h-8.61zM338.21,393.76h8.61v1.35h-8.61zM355.33,393.76h8.61v1.35h-8.61zM338.21,397.64h8.61v1.35h-8.61zM346.77,397.64h8.61v1.35h-8.61zM355.33,397.64h8.61v1.35h-8.61zM338.21,401.53h8.61v1.35h-8.61zM346.77,401.53h8.61v1.35h-8.61zM329.66,402.83h8.61v1.35h-8.61zM338.21,402.83h8.61v1.35h-8.61zM355.33,402.83h8.61v1.35h-8.61zM329.66,405.42h8.61v1.35h-8.61zM329.66,406.72h8.61v1.35h-8.61zM329.66,408.02h8.61v1.35h-8.61zM338.21,409.31h8.61v1.35h-8.61zM355.33,409.31h8.61v1.35h-8.61zM329.66,410.61h8.61v1.35h-8.61zM338.21,411.90h8.61v1.35h-8.61zM346.77,414.50h8.61v1.35h-8.61zM355.33,414.50h8.61v1.35h-8.61zM338.21,415.79h8.61v1.35h-8.61zM329.66,420.98h8.61v1.35h-8.61zM355.33,420.98h8.61v1.35h-8.61zM346.77,427.46h8.61v1.35h-8.61zM338.21,431.35h8.61v1.35h-8.61zM355.33,431.35h8.61v1.35h-8.61zM355.33,432.65h8.61v1.35h-8.61zM329.66,433.94h8.61v1.35h-8.61zM355.33,433.94h8.61v1.35h-8.61zM346.77,435.24h8.61v1.35h-8.61zM355.33,435.24h8.61v1.35h-8.61zM329.66,441.72h8.61v1.35h-8.61zM338.21,441.72h8.61v1.35h-8.61zM338.21,443.02h8.61v1.35h-8.61zM346.77,444.31h8.61v1.35h-8.61zM355.33,465.05h8.61v1.35h-8.61zM338.21,513.02h8.61v1.35h-8.61zM346.77,557.09h8.61v1.35h-8.61zM355.33,557.09h8.61v1.35h-8.61zM329.66,564.87h8.61v1.35h-8.61zM346.77,564.87h8.61v1.35h-8.61zM355.33,564.87h8.61v1.35h-8.61zM338.21,567.46h8.61v1.35h-8.61zM355.33,570.06h8.61v1.35h-8.61zM338.21,571.35h8.61v1.35h-8.61zM346.77,571.35h8.61v1.35h-8.61zM329.66,572.65h8.61v1.35h-8.61zM338.21,572.65h8.61v1.35h-8.61zM329.66,575.24h8.61v1.35h-8.61zM346.77,575.24h8.61v1.35h-8.61zM329.66,576.54h8.61v1.35h-8.61zM355.33,576.54h8.61v1.35h-8.61zM355.33,584.31h8.61v1.35h-8.61zM355.33,586.91h8.61v1.35h-8.61zM372.44,437.83h8.61v1.35h-8.61zM381.00,437.83h8.61v1.35h-8.61zM372.44,441.72h8.61v1.35h-8.61zM372.44,445.61h8.61v1.35h-8.61zM381.00,445.61h8.61v1.35h-8.61zM381.00,452.09h8.61v1.35h-8.61zM372.44,453.39h8.61v1.35h-8.61zM381.00,453.39h8.61v1.35h-8.61zM372.44,505.24h8.61v1.35h-8.61zM363.89,506.54h8.61v1.35h-8.61zM381.00,510.42h8.61v1.35h-8.61zM363.89,511.72h8.61v1.35h-8.61zM372.44,511.72h8.61v1.35h-8.61zM363.89,514.31h8.61v1.35h-8.61zM381.00,519.50h8.61v1.35h-8.61zM363.89,531.17h8.61v1.35h-8.61zM363.89,538.94h8.61v1.35h-8.61zM363.89,546.72h8.61v1.35h-8.61zM381.00,546.72h8.61v1.35h-8.61zM363.89,553.20h8.61v1.35h-8.61zM372.44,554.50h8.61v1.35h-8.61zM363.89,560.98h8.61v1.35h-8.61zM381.00,567.46h8.61v1.35h-8.61zM363.89,572.65h8.61v1.35h-8.61zM372.44,572.65h8.61v1.35h-8.61zM381.00,573.94h8.61v1.35h-8.61zM363.89,586.91h8.61v1.35h-8.61zM372.44,586.91h8.61v1.35h-8.61zM389.56,382.09h8.61v1.35h-8.61zM406.67,382.09h8.61v1.35h-8.61zM389.56,402.83h8.61v1.35h-8.61zM398.11,402.83h8.61v1.35h-8.61zM406.67,414.50h8.61v1.35h-8.61zM389.56,483.20h8.61v1.35h-8.61zM398.11,483.20h8.61v1.35h-8.61zM406.67,483.20h8.61v1.35h-8.61zM389.56,485.79h8.61v1.35h-8.61zM398.11,485.79h8.61v1.35h-8.61zM406.67,485.79h8.61v1.35h-8.61zM389.56,489.68h8.61v1.35h-8.61zM389.56,493.57h8.61v1.35h-8.61zM406.67,493.57h8.61v1.35h-8.61zM398.11,494.87h8.61v1.35h-8.61zM389.56,497.46h8.61v1.35h-8.61zM398.11,497.46h8.61v1.35h-8.61zM389.56,498.76h8.61v1.35h-8.61zM398.11,498.76h8.61v1.35h-8.61zM406.67,498.76h8.61v1.35h-8.61zM398.11,501.35h8.61v1.35h-8.61zM398.11,502.65h8.61v1.35h-8.61zM398.11,509.13h8.61v1.35h-8.61zM406.67,509.13h8.61v1.35h-8.61zM398.11,510.42h8.61v1.35h-8.61zM406.67,511.72h8.61v1.35h-8.61zM389.56,514.31h8.61v1.35h-8.61zM406.67,514.31h8.61v1.35h-8.61zM398.11,519.50h8.61v1.35h-8.61zM406.67,529.87h8.61v1.35h-8.61zM398.11,533.76h8.61v1.35h-8.61zM389.56,541.54h8.61v1.35h-8.61zM398.11,541.54h8.61v1.35h-8.61zM406.67,541.54h8.61v1.35h-8.61zM398.11,542.83h8.61v1.35h-8.61zM406.67,546.72h8.61v1.35h-8.61zM389.56,548.02h8.61v1.35h-8.61zM398.11,549.31h8.61v1.35h-8.61zM398.11,551.91h8.61v1.35h-8.61zM398.11,554.50h8.61v1.35h-8.61zM406.67,554.50h8.61v1.35h-8.61zM406.67,564.87h8.61v1.35h-8.61zM389.56,566.17h8.61v1.35h-8.61zM389.56,575.24h8.61v1.35h-8.61zM398.11,575.24h8.61v1.35h-8.61zM406.67,575.24h8.61v1.35h-8.61zM406.67,581.72h8.61v1.35h-8.61zM406.67,584.31h8.61v1.35h-8.61zM398.11,586.91h8.61v1.35h-8.61zM406.67,586.91h8.61v1.35h-8.61zM415.23,457.28h8.61v1.35h-8.61zM423.79,457.28h8.61v1.35h-8.61zM415.23,458.57h8.61v1.35h-8.61zM432.34,461.16h8.61v1.35h-8.61zM415.23,462.46h8.61v1.35h-8.61zM415.23,465.05h8.61v1.35h-8.61zM415.23,466.35h8.61v1.35h-8.61zM423.79,466.35h8.61v1.35h-8.61zM415.23,467.65h8.61v1.35h-8.61zM423.79,467.65h8.61v1.35h-8.61zM423.79,474.13h8.61v1.35h-8.61zM423.79,497.46h8.61v1.35h-8.61zM415.23,503.94h8.61v1.35h-8.61zM423.79,503.94h8.61v1.35h-8.61zM432.34,503.94h8.61v1.35h-8.61zM423.79,511.72h8.61v1.35h-8.61zM415.23,515.61h8.61v1.35h-8.61zM423.79,524.68h8.61v1.35h-8.61zM423.79,532.46h8.61v1.35h-8.61zM415.23,536.35h8.61v1.35h-8.61zM432.34,537.65h8.61v1.35h-8.61zM415.23,538.94h8.61v1.35h-8.61zM423.79,540.24h8.61v1.35h-8.61zM415.23,545.43h8.61v1.35h-8.61zM423.79,545.43h8.61v1.35h-8.61zM423.79,548.02h8.61v1.35h-8.61z" fill="#88c1c8"/><path d="M261.20,380.79h8.61v1.35h-8.61zM269.76,380.79h8.61v1.35h-8.61zM278.31,380.79h8.61v1.35h-8.61zM261.20,382.09h8.61v1.35h-8.61zM261.20,384.68h8.61v1.35h-8.61zM286.87,384.68h8.61v1.35h-8.61zM261.20,391.16h8.61v1.35h-8.61zM278.31,391.16h8.61v1.35h-8.61zM261.20,392.46h8.61v1.35h-8.61zM278.31,393.76h8.61v1.35h-8.61zM261.20,395.05h8.61v1.35h-8.61zM269.76,395.05h8.61v1.35h-8.61zM278.31,395.05h8.61v1.35h-8.61zM278.31,397.64h8.61v1.35h-8.61zM261.20,402.83h8.61v1.35h-8.61zM269.76,402.83h8.61v1.35h-8.61zM269.76,413.20h8.61v1.35h-8.61zM286.87,413.20h8.61v1.35h-8.61zM286.87,414.50h8.61v1.35h-8.61zM261.20,415.79h8.61v1.35h-8.61zM269.76,417.09h8.61v1.35h-8.61zM278.31,417.09h8.61v1.35h-8.61zM269.76,418.39h8.61v1.35h-8.61zM269.76,419.68h8.61v1.35h-8.61zM278.31,444.31h8.61v1.35h-8.61zM286.87,444.31h8.61v1.35h-8.61zM261.20,445.61h8.61v1.35h-8.61zM286.87,445.61h8.61v1.35h-8.61zM269.76,454.68h8.61v1.35h-8.61zM278.31,454.68h8.61v1.35h-8.61zM286.87,454.68h8.61v1.35h-8.61zM312.54,388.57h8.61v1.35h-8.61zM295.43,391.16h8.61v1.35h-8.61zM312.54,391.16h8.61v1.35h-8.61zM295.43,392.46h8.61v1.35h-8.61zM312.54,392.46h8.61v1.35h-8.61zM312.54,393.76h8.61v1.35h-8.61zM303.99,396.35h8.61v1.35h-8.61zM312.54,408.02h8.61v1.35h-8.61zM321.10,413.20h8.61v1.35h-8.61zM295.43,415.79h8.61v1.35h-8.61zM312.54,415.79h8.61v1.35h-8.61zM295.43,420.98h8.61v1.35h-8.61zM312.54,420.98h8.61v1.35h-8.61zM303.99,432.65h8.61v1.35h-8.61zM303.99,436.53h8.61v1.35h-8.61zM321.10,445.61h8.61v1.35h-8.61zM295.43,458.57h8.61v1.35h-8.61zM303.99,459.87h8.61v1.35h-8.61zM312.54,459.87h8.61v1.35h-8.61zM321.10,461.16h8.61v1.35h-8.61zM295.43,465.05h8.61v1.35h-8.61zM303.99,465.05h8.61v1.35h-8.61zM295.43,467.65h8.61v1.35h-8.61zM312.54,467.65h8.61v1.35h-8.61zM295.43,505.24h8.61v1.35h-8.61zM321.10,505.24h8.61v1.35h-8.61zM303.99,506.54h8.61v1.35h-8.61zM312.54,506.54h8.61v1.35h-8.61zM321.10,506.54h8.61v1.35h-8.61zM295.43,507.83h8.61v1.35h-8.61zM303.99,507.83h8.61v1.35h-8.61zM295.43,509.13h8.61v1.35h-8.61zM321.10,509.13h8.61v1.35h-8.61zM295.43,510.42h8.61v1.35h-8.61zM303.99,510.42h8.61v1.35h-8.61zM303.99,513.02h8.61v1.35h-8.61zM321.10,513.02h8.61v1.35h-8.61zM346.77,380.79h8.61v1.35h-8.61zM355.33,380.79h8.61v1.35h-8.61zM329.66,382.09h8.61v1.35h-8.61zM338.21,382.09h8.61v1.35h-8.61zM346.77,382.09h8.61v1.35h-8.61zM355.33,382.09h8.61v1.35h-8.61zM329.66,384.68h8.61v1.35h-8.61zM329.66,387.27h8.61v1.35h-8.61zM329.66,392.46h8.61v1.35h-8.61zM329.66,397.64h8.61v1.35h-8.61zM329.66,400.24h8.61v1.35h-8.61zM346.77,400.24h8.61v1.35h-8.61zM355.33,400.24h8.61v1.35h-8.61zM346.77,402.83h8.61v1.35h-8.61zM329.66,404.13h8.61v1.35h-8.61zM346.77,404.13h8.61v1.35h-8.61zM355.33,404.13h8.61v1.35h-8.61zM338.21,405.42h8.61v1.35h-8.61zM346.77,405.42h8.61v1.35h-8.61zM355.33,405.42h8.61v1.35h-8.61zM346.77,408.02h8.61v1.35h-8.61zM329.66,411.90h8.61v1.35h-8.61zM346.77,411.90h8.61v1.35h-8.61zM329.66,414.50h8.61v1.35h-8.61zM338.21,414.50h8.61v1.35h-8.61zM346.77,415.79h8.61v1.35h-8.61zM355.33,415.79h8.61v1.35h-8.61zM338.21,419.68h8.61v1.35h-8.61zM355.33,419.68h8.61v1.35h-8.61zM329.66,422.27h8.61v1.35h-8.61zM346.77,422.27h8.61v1.35h-8.61zM355.33,422.27h8.61v1.35h-8.61zM338.21,424.87h8.61v1.35h-8.61zM355.33,424.87h8.61v1.35h-8.61zM329.66,426.16h8.61v1.35h-8.61zM338.21,426.16h8.61v1.35h-8.61zM329.66,431.35h8.61v1.35h-8.61zM338.21,432.65h8.61v1.35h-8.61zM346.77,432.65h8.61v1.35h-8.61zM329.66,435.24h8.61v1.35h-8.61zM355.33,441.72h8.61v1.35h-8.61zM329.66,465.05h8.61v1.35h-8.61zM338.21,465.05h8.61v1.35h-8.61zM346.77,465.05h8.61v1.35h-8.61zM355.33,481.91h8.61v1.35h-8.61zM346.77,553.20h8.61v1.35h-8.61zM329.66,554.50h8.61v1.35h-8.61zM338.21,554.50h8.61v1.35h-8.61zM346.77,554.50h8.61v1.35h-8.61zM355.33,554.50h8.61v1.35h-8.61zM329.66,555.80h8.61v1.35h-8.61zM338.21,555.80h8.61v1.35h-8.61zM346.77,555.80h8.61v1.35h-8.61zM329.66,560.98h8.61v1.35h-8.61zM346.77,560.98h8.61v1.35h-8.61zM355.33,560.98h8.61v1.35h-8.61zM329.66,562.28h8.61v1.35h-8.61zM338.21,562.28h8.61v1.35h-8.61zM346.77,562.28h8.61v1.35h-8.61zM346.77,563.57h8.61v1.35h-8.61zM338.21,564.87h8.61v1.35h-8.61zM338.21,568.76h8.61v1.35h-8.61zM355.33,568.76h8.61v1.35h-8.61zM338.21,570.06h8.61v1.35h-8.61zM346.77,570.06h8.61v1.35h-8.61zM346.77,572.65h8.61v1.35h-8.61zM355.33,572.65h8.61v1.35h-8.61zM329.66,573.94h8.61v1.35h-8.61zM338.21,575.24h8.61v1.35h-8.61zM355.33,575.24h8.61v1.35h-8.61zM346.77,576.54h8.61v1.35h-8.61zM329.66,577.83h8.61v1.35h-8.61zM355.33,577.83h8.61v1.35h-8.61zM338.21,579.13h8.61v1.35h-8.61zM346.77,588.20h8.61v1.35h-8.61zM355.33,588.20h8.61v1.35h-8.61zM381.00,441.72h8.61v1.35h-8.61zM363.89,496.17h8.61v1.35h-8.61zM372.44,496.17h8.61v1.35h-8.61zM381.00,501.35h8.61v1.35h-8.61zM363.89,503.94h8.61v1.35h-8.61zM381.00,505.24h8.61v1.35h-8.61zM372.44,506.54h8.61v1.35h-8.61zM381.00,506.54h8.61v1.35h-8.61zM372.44,510.42h8.61v1.35h-8.61zM381.00,513.02h8.61v1.35h-8.61zM372.44,514.31h8.61v1.35h-8.61zM381.00,514.31h8.61v1.35h-8.61zM363.89,519.50h8.61v1.35h-8.61zM372.44,519.50h8.61v1.35h-8.61zM363.89,523.39h8.61v1.35h-8.61zM372.44,523.39h8.61v1.35h-8.61zM381.00,523.39h8.61v1.35h-8.61zM381.00,527.28h8.61v1.35h-8.61zM363.89,532.46h8.61v1.35h-8.61zM381.00,532.46h8.61v1.35h-8.61zM363.89,536.35h8.61v1.35h-8.61zM372.44,536.35h8.61v1.35h-8.61zM372.44,546.72h8.61v1.35h-8.61zM381.00,572.65h8.61v1.35h-8.61zM363.89,583.02h8.61v1.35h-8.61zM372.44,583.02h8.61v1.35h-8.61zM381.00,583.02h8.61v1.35h-8.61zM381.00,586.91h8.61v1.35h-8.61zM389.56,397.64h8.61v1.35h-8.61zM406.67,397.64h8.61v1.35h-8.61zM398.11,398.94h8.61v1.35h-8.61zM406.67,398.94h8.61v1.35h-8.61zM406.67,402.83h8.61v1.35h-8.61zM406.67,406.72h8.61v1.35h-8.61zM406.67,490.98h8.61v1.35h-8.61zM389.56,492.28h8.61v1.35h-8.61zM398.11,493.57h8.61v1.35h-8.61zM406.67,497.46h8.61v1.35h-8.61zM389.56,501.35h8.61v1.35h-8.61zM406.67,501.35h8.61v1.35h-8.61zM406.67,502.65h8.61v1.35h-8.61zM389.56,505.24h8.61v1.35h-8.61zM406.67,505.24h8.61v1.35h-8.61zM389.56,520.80h8.61v1.35h-8.61zM406.67,520.80h8.61v1.35h-8.61zM389.56,535.05h8.61v1.35h-8.61zM398.11,535.05h8.61v1.35h-8.61zM406.67,535.05h8.61v1.35h-8.61zM406.67,536.35h8.61v1.35h-8.61zM389.56,537.65h8.61v1.35h-8.61zM406.67,542.83h8.61v1.35h-8.61zM389.56,545.43h8.61v1.35h-8.61zM389.56,546.72h8.61v1.35h-8.61zM398.11,546.72h8.61v1.35h-8.61zM398.11,548.02h8.61v1.35h-8.61zM389.56,549.31h8.61v1.35h-8.61zM406.67,549.31h8.61v1.35h-8.61zM389.56,550.61h8.61v1.35h-8.61zM406.67,550.61h8.61v1.35h-8.61zM406.67,551.91h8.61v1.35h-8.61zM389.56,554.50h8.61v1.35h-8.61zM398.11,564.87h8.61v1.35h-8.61zM398.11,572.65h8.61v1.35h-8.61zM406.67,579.13h8.61v1.35h-8.61zM398.11,580.43h8.61v1.35h-8.61zM406.67,580.43h8.61v1.35h-8.61zM389.56,581.72h8.61v1.35h-8.61zM398.11,581.72h8.61v1.35h-8.61zM389.56,583.02h8.61v1.35h-8.61zM398.11,583.02h8.61v1.35h-8.61zM406.67,583.02h8.61v1.35h-8.61zM398.11,584.31h8.61v1.35h-8.61zM432.34,457.28h8.61v1.35h-8.61zM415.23,461.16h8.61v1.35h-8.61zM423.79,461.16h8.61v1.35h-8.61zM432.34,463.76h8.61v1.35h-8.61zM415.23,471.53h8.61v1.35h-8.61zM415.23,497.46h8.61v1.35h-8.61zM432.34,497.46h8.61v1.35h-8.61zM415.23,502.65h8.61v1.35h-8.61zM432.34,502.65h8.61v1.35h-8.61zM432.34,511.72h8.61v1.35h-8.61zM423.79,514.31h8.61v1.35h-8.61zM432.34,514.31h8.61v1.35h-8.61zM432.34,524.68h8.61v1.35h-8.61zM415.23,529.87h8.61v1.35h-8.61zM432.34,529.87h8.61v1.35h-8.61zM415.23,532.46h8.61v1.35h-8.61zM432.34,532.46h8.61v1.35h-8.61zM423.79,536.35h8.61v1.35h-8.61zM432.34,536.35h8.61v1.35h-8.61zM415.23,537.65h8.61v1.35h-8.61zM432.34,540.24h8.61v1.35h-8.61zM423.79,542.83h8.61v1.35h-8.61zM432.34,542.83h8.61v1.35h-8.61zM423.79,546.72h8.61v1.35h-8.61zM423.79,564.87h8.61v1.35h-8.61z" fill="#97cac6"/><path d="M261.20,387.27h8.61v1.35h-8.61zM269.76,391.16h8.61v1.35h-8.61zM286.87,391.16h8.61v1.35h-8.61zM261.20,393.76h8.61v1.35h-8.61zM269.76,393.76h8.61v1.35h-8.61zM286.87,393.76h8.61v1.35h-8.61zM261.20,397.64h8.61v1.35h-8.61zM269.76,397.64h8.61v1.35h-8.61zM261.20,398.94h8.61v1.35h-8.61zM269.76,398.94h8.61v1.35h-8.61zM261.20,400.24h8.61v1.35h-8.61zM269.76,411.90h8.61v1.35h-8.61zM278.31,411.90h8.61v1.35h-8.61zM261.20,413.20h8.61v1.35h-8.61zM278.31,413.20h8.61v1.35h-8.61zM261.20,414.50h8.61v1.35h-8.61zM269.76,414.50h8.61v1.35h-8.61zM278.31,414.50h8.61v1.35h-8.61zM286.87,415.79h8.61v1.35h-8.61zM261.20,418.39h8.61v1.35h-8.61zM261.20,419.68h8.61v1.35h-8.61zM261.20,423.57h8.61v1.35h-8.61zM286.87,423.57h8.61v1.35h-8.61zM269.76,437.83h8.61v1.35h-8.61zM261.20,441.72h8.61v1.35h-8.61zM269.76,441.72h8.61v1.35h-8.61zM278.31,441.72h8.61v1.35h-8.61zM261.20,444.31h8.61v1.35h-8.61zM269.76,444.31h8.61v1.35h-8.61zM269.76,445.61h8.61v1.35h-8.61zM261.20,446.90h8.61v1.35h-8.61zM269.76,446.90h8.61v1.35h-8.61zM286.87,446.90h8.61v1.35h-8.61zM261.20,448.20h8.61v1.35h-8.61zM286.87,448.20h8.61v1.35h-8.61zM286.87,449.50h8.61v1.35h-8.61zM261.20,454.68h8.61v1.35h-8.61zM286.87,455.98h8.61v1.35h-8.61zM295.43,383.39h8.61v1.35h-8.61zM303.99,383.39h8.61v1.35h-8.61zM321.10,384.68h8.61v1.35h-8.61zM295.43,388.57h8.61v1.35h-8.61zM303.99,388.57h8.61v1.35h-8.61zM321.10,388.57h8.61v1.35h-8.61zM303.99,391.16h8.61v1.35h-8.61zM321.10,391.16h8.61v1.35h-8.61zM295.43,393.76h8.61v1.35h-8.61zM295.43,395.05h8.61v1.35h-8.61zM321.10,395.05h8.61v1.35h-8.61zM295.43,408.02h8.61v1.35h-8.61zM303.99,408.02h8.61v1.35h-8.61zM312.54,432.65h8.61v1.35h-8.61zM321.10,432.65h8.61v1.35h-8.61zM295.43,436.53h8.61v1.35h-8.61zM312.54,436.53h8.61v1.35h-8.61zM312.54,444.31h8.61v1.35h-8.61zM295.43,445.61h8.61v1.35h-8.61zM303.99,445.61h8.61v1.35h-8.61zM312.54,449.50h8.61v1.35h-8.61zM321.10,458.57h8.61v1.35h-8.61zM303.99,461.16h8.61v1.35h-8.61zM295.43,481.91h8.61v1.35h-8.61zM312.54,481.91h8.61v1.35h-8.61zM312.54,484.50h8.61v1.35h-8.61zM312.54,485.79h8.61v1.35h-8.61zM303.99,505.24h8.61v1.35h-8.61zM321.10,510.42h8.61v1.35h-8.61zM303.99,583.02h8.61v1.35h-8.61zM321.10,583.02h8.61v1.35h-8.61zM329.66,378.20h8.61v1.35h-8.61zM338.21,378.20h8.61v1.35h-8.61zM329.66,380.79h8.61v1.35h-8.61zM355.33,384.68h8.61v1.35h-8.61zM346.77,392.46h8.61v1.35h-8.61zM355.33,395.05h8.61v1.35h-8.61zM329.66,398.94h8.61v1.35h-8.61zM338.21,400.24h8.61v1.35h-8.61zM338.21,404.13h8.61v1.35h-8.61zM338.21,408.02h8.61v1.35h-8.61zM355.33,408.02h8.61v1.35h-8.61zM329.66,409.31h8.61v1.35h-8.61zM346.77,409.31h8.61v1.35h-8.61zM329.66,413.20h8.61v1.35h-8.61zM346.77,413.20h8.61v1.35h-8.61zM355.33,413.20h8.61v1.35h-8.61zM329.66,415.79h8.61v1.35h-8.61zM329.66,418.39h8.61v1.35h-8.61zM338.21,418.39h8.61v1.35h-8.61zM355.33,418.39h8.61v1.35h-8.61zM329.66,419.68h8.61v1.35h-8.61zM346.77,419.68h8.61v1.35h-8.61zM346.77,420.98h8.61v1.35h-8.61zM338.21,422.27h8.61v1.35h-8.61zM346.77,424.87h8.61v1.35h-8.61zM346.77,426.16h8.61v1.35h-8.61zM355.33,426.16h8.61v1.35h-8.61zM329.66,430.05h8.61v1.35h-8.61zM355.33,430.05h8.61v1.35h-8.61zM329.66,432.65h8.61v1.35h-8.61zM346.77,441.72h8.61v1.35h-8.61zM329.66,471.53h8.61v1.35h-8.61zM355.33,471.53h8.61v1.35h-8.61zM338.21,474.13h8.61v1.35h-8.61zM338.21,481.91h8.61v1.35h-8.61zM329.66,551.91h8.61v1.35h-8.61zM355.33,551.91h8.61v1.35h-8.61zM329.66,553.20h8.61v1.35h-8.61zM355.33,553.20h8.61v1.35h-8.61zM355.33,555.80h8.61v1.35h-8.61zM329.66,557.09h8.61v1.35h-8.61zM338.21,557.09h8.61v1.35h-8.61zM329.66,558.39h8.61v1.35h-8.61zM355.33,558.39h8.61v1.35h-8.61zM355.33,559.68h8.61v1.35h-8.61zM338.21,560.98h8.61v1.35h-8.61zM355.33,562.28h8.61v1.35h-8.61zM329.66,563.57h8.61v1.35h-8.61zM329.66,568.76h8.61v1.35h-8.61zM346.77,568.76h8.61v1.35h-8.61zM355.33,571.35h8.61v1.35h-8.61zM338.21,576.54h8.61v1.35h-8.61zM329.66,579.13h8.61v1.35h-8.61zM346.77,579.13h8.61v1.35h-8.61zM355.33,579.13h8.61v1.35h-8.61zM329.66,580.43h8.61v1.35h-8.61zM329.66,583.02h8.61v1.35h-8.61zM346.77,583.02h8.61v1.35h-8.61zM355.33,583.02h8.61v1.35h-8.61zM329.66,585.61h8.61v1.35h-8.61zM346.77,585.61h8.61v1.35h-8.61zM355.33,585.61h8.61v1.35h-8.61zM338.21,588.20h8.61v1.35h-8.61zM372.44,452.09h8.61v1.35h-8.61zM363.89,489.68h8.61v1.35h-8.61zM381.00,489.68h8.61v1.35h-8.61zM363.89,490.98h8.61v1.35h-8.61zM363.89,498.76h8.61v1.35h-8.61zM363.89,501.35h8.61v1.35h-8.61zM372.44,501.35h8.61v1.35h-8.61zM372.44,502.65h8.61v1.35h-8.61zM363.89,505.24h8.61v1.35h-8.61zM381.00,516.91h8.61v1.35h-8.61zM363.89,518.20h8.61v1.35h-8.61zM372.44,518.20h8.61v1.35h-8.61zM363.89,522.09h8.61v1.35h-8.61zM372.44,522.09h8.61v1.35h-8.61zM381.00,522.09h8.61v1.35h-8.61zM363.89,528.57h8.61v1.35h-8.61zM372.44,528.57h8.61v1.35h-8.61zM381.00,528.57h8.61v1.35h-8.61zM363.89,529.87h8.61v1.35h-8.61zM372.44,529.87h8.61v1.35h-8.61zM372.44,531.17h8.61v1.35h-8.61zM381.00,531.17h8.61v1.35h-8.61zM372.44,535.05h8.61v1.35h-8.61zM381.00,536.35h8.61v1.35h-8.61zM381.00,537.65h8.61v1.35h-8.61zM372.44,538.94h8.61v1.35h-8.61zM363.89,540.24h8.61v1.35h-8.61zM372.44,540.24h8.61v1.35h-8.61zM372.44,541.54h8.61v1.35h-8.61zM381.00,548.02h8.61v1.35h-8.61zM398.11,397.64h8.61v1.35h-8.61zM389.56,398.94h8.61v1.35h-8.61zM406.67,401.53h8.61v1.35h-8.61zM389.56,404.13h8.61v1.35h-8.61zM398.11,404.13h8.61v1.35h-8.61zM406.67,404.13h8.61v1.35h-8.61zM389.56,406.72h8.61v1.35h-8.61zM398.11,406.72h8.61v1.35h-8.61zM389.56,490.98h8.61v1.35h-8.61zM398.11,492.28h8.61v1.35h-8.61zM406.67,492.28h8.61v1.35h-8.61zM389.56,494.87h8.61v1.35h-8.61zM406.67,494.87h8.61v1.35h-8.61zM389.56,500.05h8.61v1.35h-8.61zM398.11,500.05h8.61v1.35h-8.61zM406.67,500.05h8.61v1.35h-8.61zM398.11,505.24h8.61v1.35h-8.61zM389.56,509.13h8.61v1.35h-8.61zM389.56,510.42h8.61v1.35h-8.61zM406.67,510.42h8.61v1.35h-8.61zM398.11,511.72h8.61v1.35h-8.61zM398.11,513.02h8.61v1.35h-8.61zM406.67,513.02h8.61v1.35h-8.61zM406.67,537.65h8.61v1.35h-8.61zM389.56,538.94h8.61v1.35h-8.61zM398.11,538.94h8.61v1.35h-8.61zM406.67,538.94h8.61v1.35h-8.61zM389.56,542.83h8.61v1.35h-8.61zM406.67,545.43h8.61v1.35h-8.61zM398.11,550.61h8.61v1.35h-8.61zM398.11,579.13h8.61v1.35h-8.61zM415.23,463.76h8.61v1.35h-8.61zM423.79,463.76h8.61v1.35h-8.61zM423.79,471.53h8.61v1.35h-8.61zM432.34,471.53h8.61v1.35h-8.61zM415.23,472.83h8.61v1.35h-8.61zM432.34,472.83h8.61v1.35h-8.61zM423.79,489.68h8.61v1.35h-8.61zM423.79,502.65h8.61v1.35h-8.61zM415.23,505.24h8.61v1.35h-8.61zM415.23,507.83h8.61v1.35h-8.61zM432.34,507.83h8.61v1.35h-8.61zM415.23,509.13h8.61v1.35h-8.61zM423.79,509.13h8.61v1.35h-8.61zM415.23,511.72h8.61v1.35h-8.61zM415.23,514.31h8.61v1.35h-8.61zM415.23,524.68h8.61v1.35h-8.61zM432.34,525.98h8.61v1.35h-8.61zM423.79,529.87h8.61v1.35h-8.61zM415.23,535.05h8.61v1.35h-8.61zM415.23,540.24h8.61v1.35h-8.61zM415.23,546.72h8.61v1.35h-8.61zM432.34,546.72h8.61v1.35h-8.61zM415.23,551.91h8.61v1.35h-8.61zM423.79,551.91h8.61v1.35h-8.61zM432.34,551.91h8.61v1.35h-8.61zM432.34,557.09h8.61v1.35h-8.61zM415.23,583.02h8.61v1.35h-8.61z" fill="#a6d4c5"/><path d="M278.31,400.24h8.61v1.35h-8.61zM261.20,411.90h8.61v1.35h-8.61zM286.87,411.90h8.61v1.35h-8.61zM269.76,415.79h8.61v1.35h-8.61zM278.31,415.79h8.61v1.35h-8.61zM286.87,417.09h8.61v1.35h-8.61zM278.31,418.39h8.61v1.35h-8.61zM286.87,418.39h8.61v1.35h-8.61zM286.87,419.68h8.61v1.35h-8.61zM269.76,423.57h8.61v1.35h-8.61zM278.31,423.57h8.61v1.35h-8.61zM261.20,424.87h8.61v1.35h-8.61zM269.76,424.87h8.61v1.35h-8.61zM278.31,424.87h8.61v1.35h-8.61zM261.20,427.46h8.61v1.35h-8.61zM269.76,427.46h8.61v1.35h-8.61zM261.20,430.05h8.61v1.35h-8.61zM269.76,430.05h8.61v1.35h-8.61zM278.31,430.05h8.61v1.35h-8.61zM269.76,432.65h8.61v1.35h-8.61zM286.87,433.94h8.61v1.35h-8.61zM269.76,436.53h8.61v1.35h-8.61zM286.87,436.53h8.61v1.35h-8.61zM261.20,437.83h8.61v1.35h-8.61zM278.31,437.83h8.61v1.35h-8.61zM286.87,437.83h8.61v1.35h-8.61zM278.31,446.90h8.61v1.35h-8.61zM269.76,448.20h8.61v1.35h-8.61zM278.31,448.20h8.61v1.35h-8.61zM261.20,450.79h8.61v1.35h-8.61zM278.31,450.79h8.61v1.35h-8.61zM261.20,452.09h8.61v1.35h-8.61zM269.76,452.09h8.61v1.35h-8.61zM278.31,455.98h8.61v1.35h-8.61zM303.99,380.79h8.61v1.35h-8.61zM321.10,380.79h8.61v1.35h-8.61zM295.43,382.09h8.61v1.35h-8.61zM312.54,383.39h8.61v1.35h-8.61zM312.54,384.68h8.61v1.35h-8.61zM295.43,385.98h8.61v1.35h-8.61zM303.99,395.05h8.61v1.35h-8.61zM312.54,395.05h8.61v1.35h-8.61zM295.43,400.24h8.61v1.35h-8.61zM295.43,402.83h8.61v1.35h-8.61zM312.54,402.83h8.61v1.35h-8.61zM321.10,402.83h8.61v1.35h-8.61zM295.43,406.72h8.61v1.35h-8.61zM321.10,408.02h8.61v1.35h-8.61zM295.43,411.90h8.61v1.35h-8.61zM303.99,411.90h8.61v1.35h-8.61zM312.54,411.90h8.61v1.35h-8.61zM321.10,411.90h8.61v1.35h-8.61zM321.10,418.39h8.61v1.35h-8.61zM303.99,435.24h8.61v1.35h-8.61zM312.54,435.24h8.61v1.35h-8.61zM321.10,435.24h8.61v1.35h-8.61zM295.43,437.83h8.61v1.35h-8.61zM303.99,437.83h8.61v1.35h-8.61zM312.54,437.83h8.61v1.35h-8.61zM321.10,437.83h8.61v1.35h-8.61zM321.10,439.13h8.61v1.35h-8.61zM303.99,440.42h8.61v1.35h-8.61zM312.54,440.42h8.61v1.35h-8.61zM295.43,441.72h8.61v1.35h-8.61zM312.54,441.72h8.61v1.35h-8.61zM321.10,441.72h8.61v1.35h-8.61zM303.99,444.31h8.61v1.35h-8.61zM321.10,444.31h8.61v1.35h-8.61zM303.99,448.20h8.61v1.35h-8.61zM321.10,448.20h8.61v1.35h-8.61zM295.43,449.50h8.61v1.35h-8.61zM303.99,449.50h8.61v1.35h-8.61zM321.10,449.50h8.61v1.35h-8.61zM321.10,450.79h8.61v1.35h-8.61zM303.99,452.09h8.61v1.35h-8.61zM312.54,452.09h8.61v1.35h-8.61zM321.10,452.09h8.61v1.35h-8.61zM295.43,459.87h8.61v1.35h-8.61zM303.99,481.91h8.61v1.35h-8.61zM321.10,481.91h8.61v1.35h-8.61zM295.43,485.79h8.61v1.35h-8.61zM303.99,485.79h8.61v1.35h-8.61zM321.10,485.79h8.61v1.35h-8.61zM295.43,487.09h8.61v1.35h-8.61zM303.99,487.09h8.61v1.35h-8.61zM312.54,487.09h8.61v1.35h-8.61zM321.10,488.39h8.61v1.35h-8.61zM312.54,510.42h8.61v1.35h-8.61zM312.54,583.02h8.61v1.35h-8.61zM346.77,378.20h8.61v1.35h-8.61zM338.21,379.50h8.61v1.35h-8.61zM346.77,379.50h8.61v1.35h-8.61zM355.33,379.50h8.61v1.35h-8.61zM329.66,383.39h8.61v1.35h-8.61zM346.77,383.39h8.61v1.35h-8.61zM355.33,383.39h8.61v1.35h-8.61zM346.77,388.57h8.61v1.35h-8.61zM338.21,391.16h8.61v1.35h-8.61zM346.77,391.16h8.61v1.35h-8.61zM355.33,391.16h8.61v1.35h-8.61zM338.21,392.46h8.61v1.35h-8.61zM338.21,396.35h8.61v1.35h-8.61zM355.33,396.35h8.61v1.35h-8.61zM355.33,398.94h8.61v1.35h-8.61zM338.21,413.20h8.61v1.35h-8.61zM355.33,417.09h8.61v1.35h-8.61zM329.66,424.87h8.61v1.35h-8.61zM346.77,430.05h8.61v1.35h-8.61zM329.66,459.87h8.61v1.35h-8.61zM355.33,459.87h8.61v1.35h-8.61zM355.33,462.46h8.61v1.35h-8.61zM329.66,468.94h8.61v1.35h-8.61zM355.33,468.94h8.61v1.35h-8.61zM338.21,471.53h8.61v1.35h-8.61zM346.77,471.53h8.61v1.35h-8.61zM329.66,474.13h8.61v1.35h-8.61zM338.21,483.20h8.61v1.35h-8.61zM346.77,483.20h8.61v1.35h-8.61zM338.21,551.91h8.61v1.35h-8.61zM346.77,551.91h8.61v1.35h-8.61zM338.21,553.20h8.61v1.35h-8.61zM338.21,558.39h8.61v1.35h-8.61zM346.77,558.39h8.61v1.35h-8.61zM355.33,563.57h8.61v1.35h-8.61zM329.66,566.17h8.61v1.35h-8.61zM338.21,566.17h8.61v1.35h-8.61zM329.66,570.06h8.61v1.35h-8.61zM338.21,580.43h8.61v1.35h-8.61zM346.77,580.43h8.61v1.35h-8.61zM355.33,580.43h8.61v1.35h-8.61zM338.21,585.61h8.61v1.35h-8.61zM329.66,588.20h8.61v1.35h-8.61zM372.44,489.68h8.61v1.35h-8.61zM372.44,490.98h8.61v1.35h-8.61zM363.89,492.28h8.61v1.35h-8.61zM372.44,492.28h8.61v1.35h-8.61zM363.89,494.87h8.61v1.35h-8.61zM372.44,494.87h8.61v1.35h-8.61zM381.00,496.17h8.61v1.35h-8.61zM381.00,498.76h8.61v1.35h-8.61zM363.89,502.65h8.61v1.35h-8.61zM381.00,502.65h8.61v1.35h-8.61zM372.44,503.94h8.61v1.35h-8.61zM381.00,503.94h8.61v1.35h-8.61zM363.89,515.61h8.61v1.35h-8.61zM372.44,515.61h8.61v1.35h-8.61zM381.00,515.61h8.61v1.35h-8.61zM381.00,518.20h8.61v1.35h-8.61zM363.89,520.80h8.61v1.35h-8.61zM372.44,520.80h8.61v1.35h-8.61zM363.89,524.68h8.61v1.35h-8.61zM363.89,527.28h8.61v1.35h-8.61zM372.44,527.28h8.61v1.35h-8.61zM381.00,529.87h8.61v1.35h-8.61zM372.44,532.46h8.61v1.35h-8.61zM381.00,535.05h8.61v1.35h-8.61zM372.44,537.65h8.61v1.35h-8.61zM381.00,538.94h8.61v1.35h-8.61zM363.89,541.54h8.61v1.35h-8.61zM363.89,544.13h8.61v1.35h-8.61zM372.44,544.13h8.61v1.35h-8.61zM381.00,544.13h8.61v1.35h-8.61zM363.89,548.02h8.61v1.35h-8.61zM372.44,548.02h8.61v1.35h-8.61zM389.56,401.53h8.61v1.35h-8.61zM398.11,401.53h8.61v1.35h-8.61zM389.56,405.42h8.61v1.35h-8.61zM406.67,405.42h8.61v1.35h-8.61zM389.56,502.65h8.61v1.35h-8.61zM398.11,507.83h8.61v1.35h-8.61zM389.56,511.72h8.61v1.35h-8.61zM389.56,513.02h8.61v1.35h-8.61zM389.56,536.35h8.61v1.35h-8.61zM398.11,536.35h8.61v1.35h-8.61zM389.56,540.24h8.61v1.35h-8.61zM406.67,540.24h8.61v1.35h-8.61zM398.11,577.83h8.61v1.35h-8.61zM389.56,580.43h8.61v1.35h-8.61zM389.56,585.61h8.61v1.35h-8.61zM406.67,585.61h8.61v1.35h-8.61zM415.23,470.24h8.61v1.35h-8.61zM423.79,470.24h8.61v1.35h-8.61zM415.23,489.68h8.61v1.35h-8.61zM432.34,489.68h8.61v1.35h-8.61zM415.23,490.98h8.61v1.35h-8.61zM423.79,490.98h8.61v1.35h-8.61zM415.23,494.87h8.61v1.35h-8.61zM423.79,494.87h8.61v1.35h-8.61zM432.34,494.87h8.61v1.35h-8.61zM415.23,496.17h8.61v1.35h-8.61zM432.34,496.17h8.61v1.35h-8.61zM415.23,498.76h8.61v1.35h-8.61zM423.79,498.76h8.61v1.35h-8.61zM432.34,498.76h8.61v1.35h-8.61zM415.23,506.54h8.61v1.35h-8.61zM423.79,507.83h8.61v1.35h-8.61zM432.34,509.13h8.61v1.35h-8.61zM415.23,522.09h8.61v1.35h-8.61zM423.79,522.09h8.61v1.35h-8.61zM432.34,522.09h8.61v1.35h-8.61zM423.79,523.39h8.61v1.35h-8.61zM415.23,525.98h8.61v1.35h-8.61zM423.79,525.98h8.61v1.35h-8.61zM415.23,527.28h8.61v1.35h-8.61zM423.79,527.28h8.61v1.35h-8.61zM432.34,527.28h8.61v1.35h-8.61zM432.34,528.57h8.61v1.35h-8.61zM423.79,535.05h8.61v1.35h-8.61zM432.34,535.05h8.61v1.35h-8.61zM415.23,544.13h8.61v1.35h-8.61zM423.79,544.13h8.61v1.35h-8.61zM432.34,544.13h8.61v1.35h-8.61zM432.34,550.61h8.61v1.35h-8.61zM415.23,555.80h8.61v1.35h-8.61zM432.34,555.80h8.61v1.35h-8.61zM415.23,557.09h8.61v1.35h-8.61zM423.79,559.68h8.61v1.35h-8.61zM432.34,559.68h8.61v1.35h-8.61zM432.34,566.17h8.61v1.35h-8.61zM415.23,568.76h8.61v1.35h-8.61zM415.23,570.06h8.61v1.35h-8.61zM432.34,570.06h8.61v1.35h-8.61zM432.34,575.24h8.61v1.35h-8.61zM423.79,583.02h8.61v1.35h-8.61zM415.23,588.20h8.61v1.35h-8.61zM423.79,588.20h8.61v1.35h-8.61z" fill="#b3dac4"/><path d="M278.31,398.94h8.61v1.35h-8.61zM261.20,410.61h8.61v1.35h-8.61zM269.76,410.61h8.61v1.35h-8.61zM269.76,420.98h8.61v1.35h-8.61zM286.87,420.98h8.61v1.35h-8.61zM261.20,422.27h8.61v1.35h-8.61zM286.87,424.87h8.61v1.35h-8.61zM286.87,430.05h8.61v1.35h-8.61zM261.20,431.35h8.61v1.35h-8.61zM261.20,432.65h8.61v1.35h-8.61zM286.87,432.65h8.61v1.35h-8.61zM261.20,435.24h8.61v1.35h-8.61zM269.76,435.24h8.61v1.35h-8.61zM278.31,435.24h8.61v1.35h-8.61zM278.31,436.53h8.61v1.35h-8.61zM261.20,439.13h8.61v1.35h-8.61zM269.76,439.13h8.61v1.35h-8.61zM278.31,439.13h8.61v1.35h-8.61zM286.87,441.72h8.61v1.35h-8.61zM261.20,443.02h8.61v1.35h-8.61zM269.76,443.02h8.61v1.35h-8.61zM278.31,443.02h8.61v1.35h-8.61zM286.87,443.02h8.61v1.35h-8.61zM286.87,450.79h8.61v1.35h-8.61zM278.31,452.09h8.61v1.35h-8.61zM261.20,453.39h8.61v1.35h-8.61zM321.10,378.20h8.61v1.35h-8.61zM303.99,379.50h8.61v1.35h-8.61zM312.54,379.50h8.61v1.35h-8.61zM321.10,379.50h8.61v1.35h-8.61zM312.54,380.79h8.61v1.35h-8.61zM303.99,382.09h8.61v1.35h-8.61zM312.54,382.09h8.61v1.35h-8.61zM321.10,382.09h8.61v1.35h-8.61zM321.10,383.39h8.61v1.35h-8.61zM295.43,384.68h8.61v1.35h-8.61zM303.99,384.68h8.61v1.35h-8.61zM321.10,385.98h8.61v1.35h-8.61zM303.99,398.94h8.61v1.35h-8.61zM312.54,398.94h8.61v1.35h-8.61zM303.99,400.24h8.61v1.35h-8.61zM295.43,401.53h8.61v1.35h-8.61zM321.10,401.53h8.61v1.35h-8.61zM303.99,402.83h8.61v1.35h-8.61zM303.99,406.72h8.61v1.35h-8.61zM312.54,406.72h8.61v1.35h-8.61zM321.10,406.72h8.61v1.35h-8.61zM295.43,409.31h8.61v1.35h-8.61zM303.99,409.31h8.61v1.35h-8.61zM312.54,409.31h8.61v1.35h-8.61zM321.10,409.31h8.61v1.35h-8.61zM295.43,418.39h8.61v1.35h-8.61zM303.99,418.39h8.61v1.35h-8.61zM312.54,418.39h8.61v1.35h-8.61zM295.43,439.13h8.61v1.35h-8.61zM303.99,439.13h8.61v1.35h-8.61zM312.54,439.13h8.61v1.35h-8.61zM321.10,440.42h8.61v1.35h-8.61zM303.99,443.02h8.61v1.35h-8.61zM295.43,444.31h8.61v1.35h-8.61zM312.54,445.61h8.61v1.35h-8.61zM321.10,446.90h8.61v1.35h-8.61zM295.43,448.20h8.61v1.35h-8.61zM295.43,450.79h8.61v1.35h-8.61zM303.99,450.79h8.61v1.35h-8.61zM312.54,450.79h8.61v1.35h-8.61zM295.43,452.09h8.61v1.35h-8.61zM303.99,453.39h8.61v1.35h-8.61zM295.43,484.50h8.61v1.35h-8.61zM303.99,484.50h8.61v1.35h-8.61zM321.10,487.09h8.61v1.35h-8.61zM295.43,488.39h8.61v1.35h-8.61zM312.54,488.39h8.61v1.35h-8.61zM355.33,378.20h8.61v1.35h-8.61zM329.66,379.50h8.61v1.35h-8.61zM329.66,388.57h8.61v1.35h-8.61zM338.21,388.57h8.61v1.35h-8.61zM355.33,388.57h8.61v1.35h-8.61zM329.66,391.16h8.61v1.35h-8.61zM329.66,395.05h8.61v1.35h-8.61zM338.21,395.05h8.61v1.35h-8.61zM346.77,395.05h8.61v1.35h-8.61zM329.66,396.35h8.61v1.35h-8.61zM338.21,398.94h8.61v1.35h-8.61zM346.77,398.94h8.61v1.35h-8.61zM338.21,417.09h8.61v1.35h-8.61zM346.77,417.09h8.61v1.35h-8.61zM346.77,418.39h8.61v1.35h-8.61zM338.21,430.05h8.61v1.35h-8.61zM346.77,459.87h8.61v1.35h-8.61zM329.66,462.46h8.61v1.35h-8.61zM338.21,462.46h8.61v1.35h-8.61zM346.77,463.76h8.61v1.35h-8.61zM355.33,463.76h8.61v1.35h-8.61zM329.66,466.35h8.61v1.35h-8.61zM338.21,466.35h8.61v1.35h-8.61zM338.21,468.94h8.61v1.35h-8.61zM346.77,468.94h8.61v1.35h-8.61zM329.66,472.83h8.61v1.35h-8.61zM346.77,472.83h8.61v1.35h-8.61zM355.33,472.83h8.61v1.35h-8.61zM346.77,474.13h8.61v1.35h-8.61zM355.33,474.13h8.61v1.35h-8.61zM329.66,481.91h8.61v1.35h-8.61zM346.77,481.91h8.61v1.35h-8.61zM329.66,483.20h8.61v1.35h-8.61zM355.33,483.20h8.61v1.35h-8.61zM329.66,488.39h8.61v1.35h-8.61zM346.77,488.39h8.61v1.35h-8.61zM355.33,488.39h8.61v1.35h-8.61zM329.66,559.68h8.61v1.35h-8.61zM346.77,559.68h8.61v1.35h-8.61zM338.21,563.57h8.61v1.35h-8.61zM346.77,566.17h8.61v1.35h-8.61zM355.33,566.17h8.61v1.35h-8.61zM338.21,583.02h8.61v1.35h-8.61zM381.00,490.98h8.61v1.35h-8.61zM363.89,493.57h8.61v1.35h-8.61zM381.00,493.57h8.61v1.35h-8.61zM381.00,494.87h8.61v1.35h-8.61zM363.89,497.46h8.61v1.35h-8.61zM372.44,497.46h8.61v1.35h-8.61zM372.44,498.76h8.61v1.35h-8.61zM372.44,500.05h8.61v1.35h-8.61zM381.00,500.05h8.61v1.35h-8.61zM363.89,516.91h8.61v1.35h-8.61zM372.44,516.91h8.61v1.35h-8.61zM381.00,520.80h8.61v1.35h-8.61zM372.44,524.68h8.61v1.35h-8.61zM381.00,524.68h8.61v1.35h-8.61zM381.00,525.98h8.61v1.35h-8.61zM363.89,533.76h8.61v1.35h-8.61zM372.44,533.76h8.61v1.35h-8.61zM381.00,533.76h8.61v1.35h-8.61zM363.89,535.05h8.61v1.35h-8.61zM363.89,537.65h8.61v1.35h-8.61zM381.00,541.54h8.61v1.35h-8.61zM363.89,549.31h8.61v1.35h-8.61zM372.44,549.31h8.61v1.35h-8.61zM381.00,549.31h8.61v1.35h-8.61zM363.89,550.61h8.61v1.35h-8.61zM381.00,550.61h8.61v1.35h-8.61zM406.67,506.54h8.61v1.35h-8.61zM406.67,507.83h8.61v1.35h-8.61zM398.11,537.65h8.61v1.35h-8.61zM398.11,540.24h8.61v1.35h-8.61zM406.67,577.83h8.61v1.35h-8.61zM398.11,585.61h8.61v1.35h-8.61zM432.34,470.24h8.61v1.35h-8.61zM423.79,472.83h8.61v1.35h-8.61zM432.34,490.98h8.61v1.35h-8.61zM423.79,496.17h8.61v1.35h-8.61zM432.34,500.05h8.61v1.35h-8.61zM423.79,501.35h8.61v1.35h-8.61zM423.79,505.24h8.61v1.35h-8.61zM432.34,505.24h8.61v1.35h-8.61zM423.79,506.54h8.61v1.35h-8.61zM432.34,506.54h8.61v1.35h-8.61zM415.23,519.50h8.61v1.35h-8.61zM423.79,519.50h8.61v1.35h-8.61zM432.34,519.50h8.61v1.35h-8.61zM432.34,520.80h8.61v1.35h-8.61zM415.23,523.39h8.61v1.35h-8.61zM415.23,528.57h8.61v1.35h-8.61zM423.79,528.57h8.61v1.35h-8.61zM415.23,531.17h8.61v1.35h-8.61zM423.79,531.17h8.61v1.35h-8.61zM423.79,533.76h8.61v1.35h-8.61zM415.23,550.61h8.61v1.35h-8.61zM415.23,553.20h8.61v1.35h-8.61zM432.34,554.50h8.61v1.35h-8.61zM415.23,559.68h8.61v1.35h-8.61zM415.23,564.87h8.61v1.35h-8.61zM432.34,564.87h8.61v1.35h-8.61zM415.23,566.17h8.61v1.35h-8.61zM423.79,566.17h8.61v1.35h-8.61zM423.79,568.76h8.61v1.35h-8.61zM432.34,568.76h8.61v1.35h-8.61zM423.79,570.06h8.61v1.35h-8.61zM415.23,572.65h8.61v1.35h-8.61zM415.23,573.94h8.61v1.35h-8.61zM415.23,575.24h8.61v1.35h-8.61zM415.23,576.54h8.61v1.35h-8.61zM423.79,576.54h8.61v1.35h-8.61zM423.79,580.43h8.61v1.35h-8.61zM432.34,580.43h8.61v1.35h-8.61zM415.23,581.72h8.61v1.35h-8.61zM432.34,583.02h8.61v1.35h-8.61zM415.23,584.31h8.61v1.35h-8.61zM432.34,588.20h8.61v1.35h-8.61z" fill="#c1dfc2"/><path d="M269.76,408.02h8.61v1.35h-8.61zM278.31,408.02h8.61v1.35h-8.61zM278.31,410.61h8.61v1.35h-8.61zM278.31,419.68h8.61v1.35h-8.61zM261.20,420.98h8.61v1.35h-8.61zM278.31,420.98h8.61v1.35h-8.61zM269.76,422.27h8.61v1.35h-8.61zM269.76,426.16h8.61v1.35h-8.61zM278.31,426.16h8.61v1.35h-8.61zM286.87,426.16h8.61v1.35h-8.61zM278.31,427.46h8.61v1.35h-8.61zM286.87,427.46h8.61v1.35h-8.61zM278.31,428.76h8.61v1.35h-8.61zM278.31,431.35h8.61v1.35h-8.61zM286.87,431.35h8.61v1.35h-8.61zM278.31,432.65h8.61v1.35h-8.61zM261.20,433.94h8.61v1.35h-8.61zM286.87,435.24h8.61v1.35h-8.61zM261.20,436.53h8.61v1.35h-8.61zM261.20,440.42h8.61v1.35h-8.61zM269.76,440.42h8.61v1.35h-8.61zM278.31,440.42h8.61v1.35h-8.61zM286.87,440.42h8.61v1.35h-8.61zM269.76,450.79h8.61v1.35h-8.61zM286.87,452.09h8.61v1.35h-8.61zM278.31,453.39h8.61v1.35h-8.61zM286.87,453.39h8.61v1.35h-8.61zM261.20,455.98h8.61v1.35h-8.61zM295.43,379.50h8.61v1.35h-8.61zM295.43,380.79h8.61v1.35h-8.61zM303.99,385.98h8.61v1.35h-8.61zM312.54,385.98h8.61v1.35h-8.61zM321.10,397.64h8.61v1.35h-8.61zM321.10,398.94h8.61v1.35h-8.61zM312.54,400.24h8.61v1.35h-8.61zM321.10,400.24h8.61v1.35h-8.61zM303.99,401.53h8.61v1.35h-8.61zM312.54,404.13h8.61v1.35h-8.61zM295.43,405.42h8.61v1.35h-8.61zM295.43,440.42h8.61v1.35h-8.61zM303.99,441.72h8.61v1.35h-8.61zM312.54,443.02h8.61v1.35h-8.61zM321.10,443.02h8.61v1.35h-8.61zM295.43,446.90h8.61v1.35h-8.61zM303.99,446.90h8.61v1.35h-8.61zM312.54,448.20h8.61v1.35h-8.61zM312.54,453.39h8.61v1.35h-8.61zM295.43,454.68h8.61v1.35h-8.61zM303.99,454.68h8.61v1.35h-8.61zM295.43,455.98h8.61v1.35h-8.61zM321.10,484.50h8.61v1.35h-8.61zM303.99,488.39h8.61v1.35h-8.61zM338.21,385.98h8.61v1.35h-8.61zM346.77,385.98h8.61v1.35h-8.61zM329.66,389.87h8.61v1.35h-8.61zM355.33,389.87h8.61v1.35h-8.61zM346.77,396.35h8.61v1.35h-8.61zM329.66,417.09h8.61v1.35h-8.61zM338.21,457.28h8.61v1.35h-8.61zM355.33,458.57h8.61v1.35h-8.61zM338.21,459.87h8.61v1.35h-8.61zM346.77,462.46h8.61v1.35h-8.61zM329.66,463.76h8.61v1.35h-8.61zM338.21,463.76h8.61v1.35h-8.61zM346.77,466.35h8.61v1.35h-8.61zM338.21,472.83h8.61v1.35h-8.61zM338.21,476.72h8.61v1.35h-8.61zM346.77,476.72h8.61v1.35h-8.61zM355.33,476.72h8.61v1.35h-8.61zM329.66,484.50h8.61v1.35h-8.61zM338.21,484.50h8.61v1.35h-8.61zM329.66,485.79h8.61v1.35h-8.61zM338.21,485.79h8.61v1.35h-8.61zM346.77,485.79h8.61v1.35h-8.61zM338.21,488.39h8.61v1.35h-8.61zM338.21,559.68h8.61v1.35h-8.61zM381.00,492.28h8.61v1.35h-8.61zM381.00,497.46h8.61v1.35h-8.61zM363.89,500.05h8.61v1.35h-8.61zM363.89,525.98h8.61v1.35h-8.61zM372.44,525.98h8.61v1.35h-8.61zM381.00,540.24h8.61v1.35h-8.61zM363.89,542.83h8.61v1.35h-8.61zM372.44,542.83h8.61v1.35h-8.61zM381.00,542.83h8.61v1.35h-8.61zM398.11,405.42h8.61v1.35h-8.61zM389.56,506.54h8.61v1.35h-8.61zM389.56,507.83h8.61v1.35h-8.61zM389.56,577.83h8.61v1.35h-8.61zM415.23,492.28h8.61v1.35h-8.61zM423.79,492.28h8.61v1.35h-8.61zM432.34,492.28h8.61v1.35h-8.61zM415.23,493.57h8.61v1.35h-8.61zM423.79,493.57h8.61v1.35h-8.61zM432.34,493.57h8.61v1.35h-8.61zM415.23,500.05h8.61v1.35h-8.61zM415.23,501.35h8.61v1.35h-8.61zM432.34,501.35h8.61v1.35h-8.61zM415.23,520.80h8.61v1.35h-8.61zM432.34,523.39h8.61v1.35h-8.61zM432.34,531.17h8.61v1.35h-8.61zM415.23,533.76h8.61v1.35h-8.61zM432.34,533.76h8.61v1.35h-8.61zM423.79,550.61h8.61v1.35h-8.61zM432.34,553.20h8.61v1.35h-8.61zM423.79,555.80h8.61v1.35h-8.61zM423.79,557.09h8.61v1.35h-8.61zM415.23,560.98h8.61v1.35h-8.61zM432.34,562.28h8.61v1.35h-8.61zM415.23,563.57h8.61v1.35h-8.61zM415.23,567.46h8.61v1.35h-8.61zM423.79,567.46h8.61v1.35h-8.61zM415.23,571.35h8.61v1.35h-8.61zM432.34,572.65h8.61v1.35h-8.61zM423.79,573.94h8.61v1.35h-8.61zM423.79,575.24h8.61v1.35h-8.61zM432.34,576.54h8.61v1.35h-8.61zM415.23,577.83h8.61v1.35h-8.61zM423.79,577.83h8.61v1.35h-8.61zM432.34,577.83h8.61v1.35h-8.61zM423.79,579.13h8.61v1.35h-8.61zM432.34,579.13h8.61v1.35h-8.61zM415.23,580.43h8.61v1.35h-8.61zM423.79,581.72h8.61v1.35h-8.61zM432.34,581.72h8.61v1.35h-8.61zM415.23,585.61h8.61v1.35h-8.61zM423.79,585.61h8.61v1.35h-8.61zM423.79,586.91h8.61v1.35h-8.61zM432.34,586.91h8.61v1.35h-8.61z" fill="#cee5c1"/><path d="M261.20,408.02h8.61v1.35h-8.61zM286.87,408.02h8.61v1.35h-8.61zM261.20,409.31h8.61v1.35h-8.61zM269.76,409.31h8.61v1.35h-8.61zM286.87,409.31h8.61v1.35h-8.61zM286.87,410.61h8.61v1.35h-8.61zM278.31,422.27h8.61v1.35h-8.61zM269.76,428.76h8.61v1.35h-8.61zM286.87,428.76h8.61v1.35h-8.61zM269.76,431.35h8.61v1.35h-8.61zM269.76,433.94h8.61v1.35h-8.61zM278.31,433.94h8.61v1.35h-8.61zM286.87,439.13h8.61v1.35h-8.61zM269.76,453.39h8.61v1.35h-8.61zM269.76,455.98h8.61v1.35h-8.61zM303.99,378.20h8.61v1.35h-8.61zM312.54,378.20h8.61v1.35h-8.61zM312.54,389.87h8.61v1.35h-8.61zM321.10,389.87h8.61v1.35h-8.61zM295.43,397.64h8.61v1.35h-8.61zM303.99,397.64h8.61v1.35h-8.61zM312.54,397.64h8.61v1.35h-8.61zM295.43,398.94h8.61v1.35h-8.61zM312.54,401.53h8.61v1.35h-8.61zM321.10,404.13h8.61v1.35h-8.61zM303.99,405.42h8.61v1.35h-8.61zM321.10,405.42h8.61v1.35h-8.61zM295.43,435.24h8.61v1.35h-8.61zM312.54,446.90h8.61v1.35h-8.61zM295.43,453.39h8.61v1.35h-8.61zM321.10,453.39h8.61v1.35h-8.61zM303.99,455.98h8.61v1.35h-8.61zM312.54,455.98h8.61v1.35h-8.61zM321.10,455.98h8.61v1.35h-8.61zM355.33,385.98h8.61v1.35h-8.61zM338.21,389.87h8.61v1.35h-8.61zM346.77,389.87h8.61v1.35h-8.61zM329.66,457.28h8.61v1.35h-8.61zM355.33,457.28h8.61v1.35h-8.61zM329.66,458.57h8.61v1.35h-8.61zM338.21,458.57h8.61v1.35h-8.61zM346.77,458.57h8.61v1.35h-8.61zM355.33,461.16h8.61v1.35h-8.61zM355.33,466.35h8.61v1.35h-8.61zM329.66,467.65h8.61v1.35h-8.61zM338.21,467.65h8.61v1.35h-8.61zM329.66,476.72h8.61v1.35h-8.61zM338.21,478.02h8.61v1.35h-8.61zM346.77,478.02h8.61v1.35h-8.61zM355.33,478.02h8.61v1.35h-8.61zM329.66,479.31h8.61v1.35h-8.61zM338.21,479.31h8.61v1.35h-8.61zM346.77,479.31h8.61v1.35h-8.61zM355.33,479.31h8.61v1.35h-8.61zM346.77,484.50h8.61v1.35h-8.61zM355.33,484.50h8.61v1.35h-8.61zM355.33,485.79h8.61v1.35h-8.61zM372.44,493.57h8.61v1.35h-8.61zM363.89,545.43h8.61v1.35h-8.61zM372.44,550.61h8.61v1.35h-8.61zM398.11,506.54h8.61v1.35h-8.61zM432.34,518.20h8.61v1.35h-8.61zM423.79,520.80h8.61v1.35h-8.61zM423.79,553.20h8.61v1.35h-8.61zM415.23,554.50h8.61v1.35h-8.61zM423.79,554.50h8.61v1.35h-8.61zM423.79,560.98h8.61v1.35h-8.61zM432.34,560.98h8.61v1.35h-8.61zM432.34,567.46h8.61v1.35h-8.61zM432.34,571.35h8.61v1.35h-8.61zM432.34,573.94h8.61v1.35h-8.61zM415.23,579.13h8.61v1.35h-8.61zM423.79,584.31h8.61v1.35h-8.61zM432.34,584.31h8.61v1.35h-8.61z" fill="#dceabf"/><path d="M278.31,409.31h8.61v1.35h-8.61zM286.87,422.27h8.61v1.35h-8.61zM261.20,426.16h8.61v1.35h-8.61zM261.20,428.76h8.61v1.35h-8.61zM295.43,378.20h8.61v1.35h-8.61zM295.43,389.87h8.61v1.35h-8.61zM303.99,389.87h8.61v1.35h-8.61zM295.43,404.13h8.61v1.35h-8.61zM303.99,404.13h8.61v1.35h-8.61zM312.54,405.42h8.61v1.35h-8.61zM295.43,443.02h8.61v1.35h-8.61zM312.54,454.68h8.61v1.35h-8.61zM321.10,454.68h8.61v1.35h-8.61zM312.54,483.20h8.61v1.35h-8.61zM329.66,385.98h8.61v1.35h-8.61zM346.77,457.28h8.61v1.35h-8.61zM346.77,467.65h8.61v1.35h-8.61zM355.33,467.65h8.61v1.35h-8.61zM329.66,470.24h8.61v1.35h-8.61zM329.66,475.42h8.61v1.35h-8.61zM338.21,475.42h8.61v1.35h-8.61zM346.77,475.42h8.61v1.35h-8.61zM355.33,475.42h8.61v1.35h-8.61zM329.66,478.02h8.61v1.35h-8.61zM329.66,480.61h8.61v1.35h-8.61zM338.21,480.61h8.61v1.35h-8.61zM329.66,487.09h8.61v1.35h-8.61zM346.77,487.09h8.61v1.35h-8.61zM372.44,545.43h8.61v1.35h-8.61zM381.00,545.43h8.61v1.35h-8.61zM423.79,500.05h8.61v1.35h-8.61zM415.23,518.20h8.61v1.35h-8.61zM423.79,518.20h8.61v1.35h-8.61zM415.23,558.39h8.61v1.35h-8.61zM432.34,558.39h8.61v1.35h-8.61zM415.23,562.28h8.61v1.35h-8.61zM423.79,562.28h8.61v1.35h-8.61zM423.79,563.57h8.61v1.35h-8.61zM432.34,563.57h8.61v1.35h-8.61zM423.79,572.65h8.61v1.35h-8.61zM432.34,585.61h8.61v1.35h-8.61z" fill="#e9f0be"/><path d="M295.43,483.20h8.61v1.35h-8.61zM303.99,483.20h8.61v1.35h-8.61zM321.10,483.20h8.61v1.35h-8.61zM329.66,461.16h8.61v1.35h-8.61zM338.21,461.16h8.61v1.35h-8.61zM346.77,461.16h8.61v1.35h-8.61zM338.21,470.24h8.61v1.35h-8.61zM355.33,480.61h8.61v1.35h-8.61zM338.21,487.09h8.61v1.35h-8.61zM355.33,487.09h8.61v1.35h-8.61zM423.79,571.35h8.61v1.35h-8.61z" fill="#eef3c0"/><path d="M346.77,470.24h8.61v1.35h-8.61zM355.33,470.24h8.61v1.35h-8.61zM346.77,480.61h8.61v1.35h-8.61zM423.79,558.39h8.61v1.35h-8.61zM415.23,586.91h8.61v1.35h-8.61z" fill="#f4f5c3"/></g><line x1="259.6" y1="379.4" x2="259.6" y2="488.4" stroke="#111" stroke-width="1.1"/><line x1="259.6" y1="491.9" x2="259.6" y2="588.8" stroke="#111" stroke-width="1.1"/><text transform="translate(254.6,433.8) rotate(-90)" font-size="8" text-anchor="middle" textLength="36.4" lengthAdjust="spacingAndGlyphs" fill="#231f20">177 genes</text><text transform="translate(254.6,540) rotate(-90)" font-size="8" text-anchor="middle" textLength="35.8" lengthAdjust="spacingAndGlyphs" fill="#231f20">162 genes</text><text x="454.7" y="384.40000000000003" font-size="8.5" textLength="23.13" lengthAdjust="spacingAndGlyphs" style="font-style:italic" fill="#231f20">Hoxa9</text><text x="454.7" y="395.1" font-size="8.5" textLength="27.57" lengthAdjust="spacingAndGlyphs" style="font-style:italic" fill="#231f20">Hoxa10</text><text x="454.7" y="404.6" font-size="8.5" textLength="23.13" lengthAdjust="spacingAndGlyphs" style="font-style:italic" fill="#231f20">Hoxa7</text><text x="454.7" y="414.1" font-size="8.5" textLength="14.66" lengthAdjust="spacingAndGlyphs" style="font-style:italic" fill="#231f20">Myc</text><text x="454.7" y="423.3" font-size="8.5" textLength="15.11" lengthAdjust="spacingAndGlyphs" style="font-style:italic" fill="#231f20">Myb</text><text x="454.7" y="432.7" font-size="8.5" textLength="18.68" lengthAdjust="spacingAndGlyphs" style="font-style:italic" fill="#231f20">Cdk6</text><text x="454.7" y="441.8" font-size="8.5" textLength="18.23" lengthAdjust="spacingAndGlyphs" style="font-style:italic" fill="#231f20">Bcl-2</text><text x="454.7" y="449.6" font-size="8.5" textLength="21.34" lengthAdjust="spacingAndGlyphs" style="font-style:italic" fill="#231f20">Meis1</text><text x="454.7" y="494.6" font-size="8.5" textLength="17.78" lengthAdjust="spacingAndGlyphs" style="font-style:italic" fill="#231f20">Msr1</text><text x="454.7" y="503.1" font-size="8.5" textLength="16.0" lengthAdjust="spacingAndGlyphs" style="font-style:italic" fill="#231f20">Ccl6</text><text x="454.7" y="519.1999999999999" font-size="8.5" textLength="21.79" lengthAdjust="spacingAndGlyphs" style="font-style:italic" fill="#231f20">C3ar1</text><text x="454.7" y="528.6999999999999" font-size="8.5" textLength="16.75" lengthAdjust="spacingAndGlyphs" style="font-style:italic" fill="#231f20">Lyz2</text><text x="454.7" y="538.1999999999999" font-size="8.5" textLength="16.89" lengthAdjust="spacingAndGlyphs" style="font-style:italic" fill="#231f20">Mcl1</text><text x="454.7" y="562.0999999999999" font-size="8.5" textLength="16.75" lengthAdjust="spacingAndGlyphs" style="font-style:italic" fill="#231f20">Lyz1</text><text x="454.7" y="571.5" font-size="8.5" textLength="21.79" lengthAdjust="spacingAndGlyphs" style="font-style:italic" fill="#231f20">C5ar1</text><text x="454.7" y="577.6999999999999" font-size="8.5" textLength="21.79" lengthAdjust="spacingAndGlyphs" style="font-style:italic" fill="#231f20">C5ar2</text><path d="M441,381.6H451M441,392.3H451M441,396.6H443.5C446,396.6 446,401.8 449,401.8H451M441,397.5H443.5C446,397.5 446,411.3 449,411.3H451M441,411.7H443.5C446,411.7 446,420.5 449,420.5H451M441,419.1H443.5C446,419.1 446,429.9 449,429.9H451M441,439.4H451M441,444.2H443.5C446,444.2 446,446.8 449,446.8H451M441,492.1H451M441,492.3H443.5C446,492.3 446,500.3 449,500.3H451M441,523.0H443.5C446,523.0 446,516.4 449,516.4H451M441,525.4H451M441,535.1H451M441,559.3H451M441,568.8H451M441,574.9H451" fill="none" stroke="#231f20" stroke-width="1.1"/><line x1="262.3" y1="591.8" x2="293.7" y2="591.8" stroke="#333" stroke-width="1.1"/><line x1="296.5" y1="591.8" x2="328.3" y2="591.8" stroke="#333" stroke-width="1.1"/><line x1="331.2" y1="591.8" x2="362.5" y2="591.8" stroke="#333" stroke-width="1.1"/><line x1="366" y1="591.8" x2="440" y2="591.8" stroke="#222" stroke-width="1.1" stroke-dasharray="2.3,1.7"/><text transform="translate(280.2,595.5) rotate(-90)" font-size="8.5" text-anchor="end" textLength="49.6" lengthAdjust="spacingAndGlyphs" fill="#231f20">NUP98/NSD1</text><text transform="translate(314.8,595.5) rotate(-90)" font-size="8.5" text-anchor="end" textLength="54.8" lengthAdjust="spacingAndGlyphs" fill="#231f20">NUP98/DDX10</text><text transform="translate(349.4,595.5) rotate(-90)" font-size="8.5" text-anchor="end" textLength="61.7" lengthAdjust="spacingAndGlyphs" fill="#231f20">NUP98/JARID1A</text><text transform="translate(380.0,595.5) rotate(-90)" font-size="8.5" text-anchor="end" textLength="48.4" lengthAdjust="spacingAndGlyphs" fill="#231f20">NUP98/NSD1</text><text transform="translate(405.0,595.5) rotate(-90)" font-size="8.5" text-anchor="end" textLength="54.4" lengthAdjust="spacingAndGlyphs" fill="#231f20">NUP98/DDX10</text><text transform="translate(431.0,595.5) rotate(-90)" font-size="8.5" text-anchor="end" textLength="61.5" lengthAdjust="spacingAndGlyphs" fill="#231f20">NUP98/JARID1A</text><line x1="262.3" y1="667.4" x2="363" y2="667.4" stroke="#111" stroke-width="1.1"/><line x1="365.8" y1="667.4" x2="440" y2="667.4" stroke="#111" stroke-width="1.1" stroke-dasharray="3,2.2"/><text x="312.9" y="677.5" font-size="8.5" text-anchor="middle" textLength="36" lengthAdjust="spacingAndGlyphs" fill="#231f20">Untreated</text><text x="402.8" y="677.4" font-size="8.5" text-anchor="middle" textLength="41.9" lengthAdjust="spacingAndGlyphs" fill="#231f20">Doxycycline</text><rect x="0" y="0" width="520" height="686" fill="none" stroke="#000" stroke-width="2.3"/>
</svg></body></html>
